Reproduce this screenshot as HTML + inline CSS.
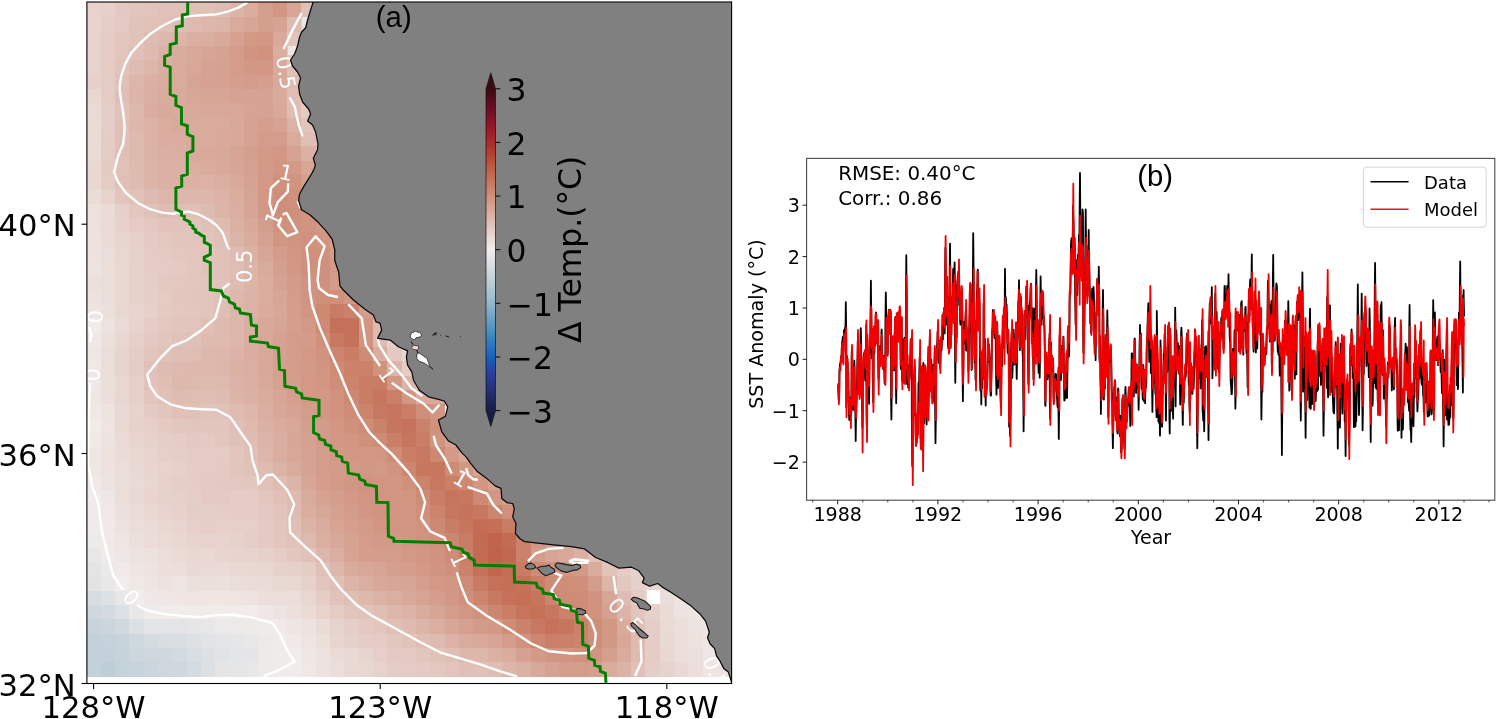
<!DOCTYPE html>
<html lang="en"><head><meta charset="utf-8"><title>Figure: SST anomaly map and time series</title>
<style>html,body{margin:0;padding:0;background:#fff}svg{display:block}text{font-family:"DejaVu Sans","Liberation Sans",sans-serif;fill:#000}.t{font-family:"Liberation Sans","DejaVu Sans",sans-serif}.c{fill:none;stroke:#fff;stroke-width:2.4;stroke-linejoin:round;stroke-linecap:butt}.cl{fill:#fff;font-size:21px;text-anchor:middle}.m{font-size:30.6px}.r{font-size:19.1px}</style></head><body>
<svg width="1496" height="719" viewBox="0 0 1496 719">
<rect width="1496" height="719" fill="#fff"/>
<defs><clipPath id="mc"><rect x="86.9" y="2" width="644.7" height="681.5"/></clipPath>
<linearGradient id="cb" x1="0" y1="0" x2="0" y2="1">
<stop offset="0.0000" stop-color="rgb(60,9,18)"/>
<stop offset="0.0667" stop-color="rgb(112,14,38)"/>
<stop offset="0.1167" stop-color="rgb(150,22,42)"/>
<stop offset="0.1667" stop-color="rgb(172,42,43)"/>
<stop offset="0.2083" stop-color="rgb(183,68,52)"/>
<stop offset="0.2500" stop-color="rgb(191,95,70)"/>
<stop offset="0.2917" stop-color="rgb(200,120,96)"/>
<stop offset="0.3333" stop-color="rgb(208,145,124)"/>
<stop offset="0.3750" stop-color="rgb(216,168,153)"/>
<stop offset="0.4167" stop-color="rgb(224,192,183)"/>
<stop offset="0.4667" stop-color="rgb(234,219,214)"/>
<stop offset="0.5000" stop-color="rgb(241,236,235)"/>
<stop offset="0.5333" stop-color="rgb(225,227,229)"/>
<stop offset="0.5667" stop-color="rgb(207,216,222)"/>
<stop offset="0.6167" stop-color="rgb(180,200,213)"/>
<stop offset="0.6667" stop-color="rgb(146,183,206)"/>
<stop offset="0.7167" stop-color="rgb(105,161,197)"/>
<stop offset="0.7667" stop-color="rgb(60,137,190)"/>
<stop offset="0.8333" stop-color="rgb(20,98,190)"/>
<stop offset="0.8750" stop-color="rgb(40,66,165)"/>
<stop offset="0.9333" stop-color="rgb(38,48,120)"/>
<stop offset="1.0000" stop-color="rgb(24,28,67)"/>
</linearGradient>
<clipPath id="pc"><rect x="806.6" y="158.4" width="688.2" height="341.8"/></clipPath></defs>
<g clip-path="url(#mc)">
<g shape-rendering="crispEdges">
<rect x="86.4" y="662.2" width="14.4" height="14.4" fill="#c3d1da"/>
<rect x="100.7" y="662.2" width="14.4" height="14.4" fill="#beced8"/>
<rect x="115.1" y="662.2" width="14.4" height="14.4" fill="#c4d2da"/>
<rect x="129.4" y="662.2" width="14.4" height="14.4" fill="#c8d4dc"/>
<rect x="143.7" y="662.2" width="14.4" height="14.4" fill="#cbd5dd"/>
<rect x="158.1" y="662.2" width="14.4" height="14.4" fill="#cdd7dd"/>
<rect x="172.4" y="662.2" width="14.4" height="14.4" fill="#ced8de"/>
<rect x="186.7" y="662.2" width="14.4" height="14.4" fill="#d5dce1"/>
<rect x="201" y="662.2" width="14.4" height="14.4" fill="#dce0e3"/>
<rect x="215.4" y="662.2" width="14.4" height="14.4" fill="#e5e5e6"/>
<rect x="229.7" y="662.2" width="14.4" height="14.4" fill="#e6e6e7"/>
<rect x="244" y="662.2" width="14.4" height="14.4" fill="#e8e7e8"/>
<rect x="258.4" y="662.2" width="14.4" height="14.4" fill="#edeae9"/>
<rect x="272.7" y="662.2" width="14.4" height="14.4" fill="#efebea"/>
<rect x="287" y="662.2" width="14.4" height="14.4" fill="#f0eceb"/>
<rect x="301.3" y="662.2" width="14.4" height="14.4" fill="#efe8e6"/>
<rect x="315.7" y="662.2" width="14.4" height="14.4" fill="#ede2df"/>
<rect x="330" y="662.2" width="14.4" height="14.4" fill="#ebdeda"/>
<rect x="344.3" y="662.2" width="14.4" height="14.4" fill="#e9d9d4"/>
<rect x="358.7" y="662.2" width="14.4" height="14.4" fill="#e8d7d1"/>
<rect x="373" y="662.2" width="14.4" height="14.4" fill="#e7d3cc"/>
<rect x="387.3" y="662.2" width="14.4" height="14.4" fill="#e5cdc6"/>
<rect x="401.7" y="662.2" width="14.4" height="14.4" fill="#e4ccc5"/>
<rect x="416" y="662.2" width="14.4" height="14.4" fill="#e4cac3"/>
<rect x="430.3" y="662.2" width="14.4" height="14.4" fill="#e3c8c0"/>
<rect x="444.7" y="662.2" width="14.4" height="14.4" fill="#e2c4bc"/>
<rect x="459" y="662.2" width="14.4" height="14.4" fill="#e0bfb6"/>
<rect x="473.3" y="662.2" width="14.4" height="14.4" fill="#e0c0b7"/>
<rect x="487.6" y="662.2" width="14.4" height="14.4" fill="#dfbdb3"/>
<rect x="502" y="662.2" width="14.4" height="14.4" fill="#ddb6ab"/>
<rect x="516.3" y="662.2" width="14.4" height="14.4" fill="#dbb1a4"/>
<rect x="530.6" y="662.2" width="14.4" height="14.4" fill="#d8a99a"/>
<rect x="545" y="662.2" width="14.4" height="14.4" fill="#d6a291"/>
<rect x="559.3" y="662.2" width="14.4" height="14.4" fill="#d59e8c"/>
<rect x="573.6" y="662.2" width="14.4" height="14.4" fill="#d49c8a"/>
<rect x="588" y="662.2" width="14.4" height="14.4" fill="#d59f8d"/>
<rect x="602.3" y="662.2" width="14.4" height="14.4" fill="#d9ab9d"/>
<rect x="616.6" y="662.2" width="14.4" height="14.4" fill="#dbb2a5"/>
<rect x="630.9" y="662.2" width="14.4" height="14.4" fill="#e0c1b8"/>
<rect x="645.3" y="662.2" width="14.4" height="14.4" fill="#e5cec7"/>
<rect x="659.6" y="662.2" width="14.4" height="14.4" fill="#e7d3cd"/>
<rect x="673.9" y="662.2" width="14.4" height="14.4" fill="#e9d8d3"/>
<rect x="688.3" y="662.2" width="14.4" height="14.4" fill="#ecdfdb"/>
<rect x="702.6" y="662.2" width="14.4" height="14.4" fill="#eee4e1"/>
<rect x="716.9" y="662.2" width="14.4" height="14.4" fill="#eee5e3"/>
<rect x="731.2" y="662.2" width="14.4" height="14.4" fill="#efe7e5"/>
<rect x="86.4" y="647.8" width="14.4" height="14.4" fill="#c3d1da"/>
<rect x="100.7" y="647.8" width="14.4" height="14.4" fill="#c3d1da"/>
<rect x="115.1" y="647.8" width="14.4" height="14.4" fill="#c7d3db"/>
<rect x="129.4" y="647.8" width="14.4" height="14.4" fill="#ccd6dd"/>
<rect x="143.7" y="647.8" width="14.4" height="14.4" fill="#ced7de"/>
<rect x="158.1" y="647.8" width="14.4" height="14.4" fill="#d0d8de"/>
<rect x="172.4" y="647.8" width="14.4" height="14.4" fill="#d3dbe0"/>
<rect x="186.7" y="647.8" width="14.4" height="14.4" fill="#d9dee2"/>
<rect x="201" y="647.8" width="14.4" height="14.4" fill="#dde1e4"/>
<rect x="215.4" y="647.8" width="14.4" height="14.4" fill="#e1e3e5"/>
<rect x="229.7" y="647.8" width="14.4" height="14.4" fill="#e4e5e6"/>
<rect x="244" y="647.8" width="14.4" height="14.4" fill="#e5e5e7"/>
<rect x="258.4" y="647.8" width="14.4" height="14.4" fill="#ece9e9"/>
<rect x="272.7" y="647.8" width="14.4" height="14.4" fill="#efebea"/>
<rect x="287" y="647.8" width="14.4" height="14.4" fill="#f0eceb"/>
<rect x="301.3" y="647.8" width="14.4" height="14.4" fill="#efe7e5"/>
<rect x="315.7" y="647.8" width="14.4" height="14.4" fill="#ede2df"/>
<rect x="330" y="647.8" width="14.4" height="14.4" fill="#eadbd7"/>
<rect x="344.3" y="647.8" width="14.4" height="14.4" fill="#e9d9d4"/>
<rect x="358.7" y="647.8" width="14.4" height="14.4" fill="#e7d4ce"/>
<rect x="373" y="647.8" width="14.4" height="14.4" fill="#e5cfc8"/>
<rect x="387.3" y="647.8" width="14.4" height="14.4" fill="#e4cac3"/>
<rect x="401.7" y="647.8" width="14.4" height="14.4" fill="#e4cac2"/>
<rect x="416" y="647.8" width="14.4" height="14.4" fill="#e2c5bd"/>
<rect x="430.3" y="647.8" width="14.4" height="14.4" fill="#e1c2b9"/>
<rect x="444.7" y="647.8" width="14.4" height="14.4" fill="#dfbeb4"/>
<rect x="459" y="647.8" width="14.4" height="14.4" fill="#ddb7ac"/>
<rect x="473.3" y="647.8" width="14.4" height="14.4" fill="#ddb7ab"/>
<rect x="487.6" y="647.8" width="14.4" height="14.4" fill="#dbb1a5"/>
<rect x="502" y="647.8" width="14.4" height="14.4" fill="#d9ac9e"/>
<rect x="516.3" y="647.8" width="14.4" height="14.4" fill="#d6a191"/>
<rect x="530.6" y="647.8" width="14.4" height="14.4" fill="#d39a87"/>
<rect x="545" y="647.8" width="14.4" height="14.4" fill="#d19581"/>
<rect x="559.3" y="647.8" width="14.4" height="14.4" fill="#d1947f"/>
<rect x="573.6" y="647.8" width="14.4" height="14.4" fill="#d0907b"/>
<rect x="588" y="647.8" width="14.4" height="14.4" fill="#d19581"/>
<rect x="602.3" y="647.8" width="14.4" height="14.4" fill="#d59f8e"/>
<rect x="616.6" y="647.8" width="14.4" height="14.4" fill="#d9ab9d"/>
<rect x="630.9" y="647.8" width="14.4" height="14.4" fill="#dfbcb2"/>
<rect x="645.3" y="647.8" width="14.4" height="14.4" fill="#e5ccc5"/>
<rect x="659.6" y="647.8" width="14.4" height="14.4" fill="#e9d7d2"/>
<rect x="673.9" y="647.8" width="14.4" height="14.4" fill="#ebddd9"/>
<rect x="688.3" y="647.8" width="14.4" height="14.4" fill="#ece0dc"/>
<rect x="702.6" y="647.8" width="14.4" height="14.4" fill="#efe7e5"/>
<rect x="716.9" y="647.8" width="14.4" height="14.4" fill="#f0e9e8"/>
<rect x="731.2" y="647.8" width="14.4" height="14.4" fill="#f0eae9"/>
<rect x="86.4" y="633.5" width="14.4" height="14.4" fill="#c3d1da"/>
<rect x="100.7" y="633.5" width="14.4" height="14.4" fill="#c5d2db"/>
<rect x="115.1" y="633.5" width="14.4" height="14.4" fill="#c8d4dc"/>
<rect x="129.4" y="633.5" width="14.4" height="14.4" fill="#cfd8de"/>
<rect x="143.7" y="633.5" width="14.4" height="14.4" fill="#d5dce0"/>
<rect x="158.1" y="633.5" width="14.4" height="14.4" fill="#d8dde1"/>
<rect x="172.4" y="633.5" width="14.4" height="14.4" fill="#d9dee2"/>
<rect x="186.7" y="633.5" width="14.4" height="14.4" fill="#dee1e4"/>
<rect x="201" y="633.5" width="14.4" height="14.4" fill="#e2e3e5"/>
<rect x="215.4" y="633.5" width="14.4" height="14.4" fill="#e4e5e6"/>
<rect x="229.7" y="633.5" width="14.4" height="14.4" fill="#e5e6e7"/>
<rect x="244" y="633.5" width="14.4" height="14.4" fill="#e9e7e8"/>
<rect x="258.4" y="633.5" width="14.4" height="14.4" fill="#ece9e9"/>
<rect x="272.7" y="633.5" width="14.4" height="14.4" fill="#f0ebeb"/>
<rect x="287" y="633.5" width="14.4" height="14.4" fill="#f0e9e8"/>
<rect x="301.3" y="633.5" width="14.4" height="14.4" fill="#eee4e2"/>
<rect x="315.7" y="633.5" width="14.4" height="14.4" fill="#ebdfda"/>
<rect x="330" y="633.5" width="14.4" height="14.4" fill="#e8d5cf"/>
<rect x="344.3" y="633.5" width="14.4" height="14.4" fill="#e6d1ca"/>
<rect x="358.7" y="633.5" width="14.4" height="14.4" fill="#e5cdc6"/>
<rect x="373" y="633.5" width="14.4" height="14.4" fill="#e4ccc5"/>
<rect x="387.3" y="633.5" width="14.4" height="14.4" fill="#e2c7bf"/>
<rect x="401.7" y="633.5" width="14.4" height="14.4" fill="#e1c3ba"/>
<rect x="416" y="633.5" width="14.4" height="14.4" fill="#dfbeb4"/>
<rect x="430.3" y="633.5" width="14.4" height="14.4" fill="#debbb1"/>
<rect x="444.7" y="633.5" width="14.4" height="14.4" fill="#dbb2a5"/>
<rect x="459" y="633.5" width="14.4" height="14.4" fill="#d9ab9d"/>
<rect x="473.3" y="633.5" width="14.4" height="14.4" fill="#d9aa9b"/>
<rect x="487.6" y="633.5" width="14.4" height="14.4" fill="#d7a595"/>
<rect x="502" y="633.5" width="14.4" height="14.4" fill="#d49d8b"/>
<rect x="516.3" y="633.5" width="14.4" height="14.4" fill="#d0927e"/>
<rect x="530.6" y="633.5" width="14.4" height="14.4" fill="#cd8771"/>
<rect x="545" y="633.5" width="14.4" height="14.4" fill="#ca7f68"/>
<rect x="559.3" y="633.5" width="14.4" height="14.4" fill="#cb8069"/>
<rect x="573.6" y="633.5" width="14.4" height="14.4" fill="#cc846d"/>
<rect x="588" y="633.5" width="14.4" height="14.4" fill="#cf8e79"/>
<rect x="602.3" y="633.5" width="14.4" height="14.4" fill="#d29884"/>
<rect x="616.6" y="633.5" width="14.4" height="14.4" fill="#d8a798"/>
<rect x="630.9" y="633.5" width="14.4" height="14.4" fill="#debab0"/>
<rect x="645.3" y="633.5" width="14.4" height="14.4" fill="#e5cdc6"/>
<rect x="659.6" y="633.5" width="14.4" height="14.4" fill="#e9d9d3"/>
<rect x="673.9" y="633.5" width="14.4" height="14.4" fill="#ecdfdb"/>
<rect x="688.3" y="633.5" width="14.4" height="14.4" fill="#ede2de"/>
<rect x="702.6" y="633.5" width="14.4" height="14.4" fill="#efe6e4"/>
<rect x="731.2" y="633.5" width="14.4" height="14.4" fill="#f1eceb"/>
<rect x="86.4" y="619.2" width="14.4" height="14.4" fill="#c8d4dc"/>
<rect x="100.7" y="619.2" width="14.4" height="14.4" fill="#cad5dc"/>
<rect x="115.1" y="619.2" width="14.4" height="14.4" fill="#d1d9df"/>
<rect x="129.4" y="619.2" width="14.4" height="14.4" fill="#dce0e3"/>
<rect x="143.7" y="619.2" width="14.4" height="14.4" fill="#e3e4e6"/>
<rect x="158.1" y="619.2" width="14.4" height="14.4" fill="#e3e4e6"/>
<rect x="172.4" y="619.2" width="14.4" height="14.4" fill="#e4e4e6"/>
<rect x="186.7" y="619.2" width="14.4" height="14.4" fill="#e6e6e7"/>
<rect x="201" y="619.2" width="14.4" height="14.4" fill="#e8e7e8"/>
<rect x="215.4" y="619.2" width="14.4" height="14.4" fill="#ebe9e9"/>
<rect x="229.7" y="619.2" width="14.4" height="14.4" fill="#ece9e9"/>
<rect x="244" y="619.2" width="14.4" height="14.4" fill="#edeaea"/>
<rect x="258.4" y="619.2" width="14.4" height="14.4" fill="#f0ebeb"/>
<rect x="272.7" y="619.2" width="14.4" height="14.4" fill="#f0e9e8"/>
<rect x="287" y="619.2" width="14.4" height="14.4" fill="#eee6e3"/>
<rect x="301.3" y="619.2" width="14.4" height="14.4" fill="#ede2df"/>
<rect x="315.7" y="619.2" width="14.4" height="14.4" fill="#eadbd6"/>
<rect x="330" y="619.2" width="14.4" height="14.4" fill="#e7d3cd"/>
<rect x="344.3" y="619.2" width="14.4" height="14.4" fill="#e5cec7"/>
<rect x="358.7" y="619.2" width="14.4" height="14.4" fill="#e3c9c1"/>
<rect x="373" y="619.2" width="14.4" height="14.4" fill="#e2c6bd"/>
<rect x="387.3" y="619.2" width="14.4" height="14.4" fill="#e0c0b6"/>
<rect x="401.7" y="619.2" width="14.4" height="14.4" fill="#debaaf"/>
<rect x="416" y="619.2" width="14.4" height="14.4" fill="#dcb5a9"/>
<rect x="430.3" y="619.2" width="14.4" height="14.4" fill="#daafa2"/>
<rect x="444.7" y="619.2" width="14.4" height="14.4" fill="#d7a697"/>
<rect x="459" y="619.2" width="14.4" height="14.4" fill="#d5a08f"/>
<rect x="473.3" y="619.2" width="14.4" height="14.4" fill="#d39b89"/>
<rect x="487.6" y="619.2" width="14.4" height="14.4" fill="#d29885"/>
<rect x="502" y="619.2" width="14.4" height="14.4" fill="#cf8d77"/>
<rect x="516.3" y="619.2" width="14.4" height="14.4" fill="#cb826b"/>
<rect x="530.6" y="619.2" width="14.4" height="14.4" fill="#c87860"/>
<rect x="545" y="619.2" width="14.4" height="14.4" fill="#c6725a"/>
<rect x="559.3" y="619.2" width="14.4" height="14.4" fill="#c7765e"/>
<rect x="573.6" y="619.2" width="14.4" height="14.4" fill="#cb8069"/>
<rect x="588" y="619.2" width="14.4" height="14.4" fill="#cf8e78"/>
<rect x="602.3" y="619.2" width="14.4" height="14.4" fill="#d39885"/>
<rect x="616.6" y="619.2" width="14.4" height="14.4" fill="#d9ab9d"/>
<rect x="630.9" y="619.2" width="14.4" height="14.4" fill="#e0bfb6"/>
<rect x="645.3" y="619.2" width="14.4" height="14.4" fill="#e5cec7"/>
<rect x="659.6" y="619.2" width="14.4" height="14.4" fill="#eadad5"/>
<rect x="673.9" y="619.2" width="14.4" height="14.4" fill="#ecdfdb"/>
<rect x="688.3" y="619.2" width="14.4" height="14.4" fill="#ede3e0"/>
<rect x="702.6" y="619.2" width="14.4" height="14.4" fill="#eee6e3"/>
<rect x="731.2" y="619.2" width="14.4" height="14.4" fill="#f0eceb"/>
<rect x="86.4" y="604.9" width="14.4" height="14.4" fill="#cfd8de"/>
<rect x="100.7" y="604.9" width="14.4" height="14.4" fill="#d4dbe0"/>
<rect x="115.1" y="604.9" width="14.4" height="14.4" fill="#dee1e4"/>
<rect x="129.4" y="604.9" width="14.4" height="14.4" fill="#e9e7e8"/>
<rect x="143.7" y="604.9" width="14.4" height="14.4" fill="#eeebea"/>
<rect x="158.1" y="604.9" width="14.4" height="14.4" fill="#f1eceb"/>
<rect x="172.4" y="604.9" width="14.4" height="14.4" fill="#f0eceb"/>
<rect x="186.7" y="604.9" width="14.4" height="14.4" fill="#f1ebea"/>
<rect x="201" y="604.9" width="14.4" height="14.4" fill="#f0eceb"/>
<rect x="215.4" y="604.9" width="14.4" height="14.4" fill="#f0eceb"/>
<rect x="229.7" y="604.9" width="14.4" height="14.4" fill="#f1eceb"/>
<rect x="244" y="604.9" width="14.4" height="14.4" fill="#f1ebea"/>
<rect x="258.4" y="604.9" width="14.4" height="14.4" fill="#efe7e5"/>
<rect x="272.7" y="604.9" width="14.4" height="14.4" fill="#ede3e0"/>
<rect x="287" y="604.9" width="14.4" height="14.4" fill="#ece0dd"/>
<rect x="301.3" y="604.9" width="14.4" height="14.4" fill="#eadbd6"/>
<rect x="315.7" y="604.9" width="14.4" height="14.4" fill="#e7d3cc"/>
<rect x="330" y="604.9" width="14.4" height="14.4" fill="#e4ccc5"/>
<rect x="344.3" y="604.9" width="14.4" height="14.4" fill="#e2c6be"/>
<rect x="358.7" y="604.9" width="14.4" height="14.4" fill="#e1c2b9"/>
<rect x="373" y="604.9" width="14.4" height="14.4" fill="#dfbeb4"/>
<rect x="387.3" y="604.9" width="14.4" height="14.4" fill="#ddb7ab"/>
<rect x="401.7" y="604.9" width="14.4" height="14.4" fill="#dcb3a6"/>
<rect x="416" y="604.9" width="14.4" height="14.4" fill="#d9ac9d"/>
<rect x="430.3" y="604.9" width="14.4" height="14.4" fill="#d7a595"/>
<rect x="444.7" y="604.9" width="14.4" height="14.4" fill="#d49d8b"/>
<rect x="459" y="604.9" width="14.4" height="14.4" fill="#d29884"/>
<rect x="473.3" y="604.9" width="14.4" height="14.4" fill="#d0917d"/>
<rect x="487.6" y="604.9" width="14.4" height="14.4" fill="#cd8771"/>
<rect x="502" y="604.9" width="14.4" height="14.4" fill="#ca7e66"/>
<rect x="516.3" y="604.9" width="14.4" height="14.4" fill="#c7745c"/>
<rect x="530.6" y="604.9" width="14.4" height="14.4" fill="#c57158"/>
<rect x="545" y="604.9" width="14.4" height="14.4" fill="#c8775f"/>
<rect x="559.3" y="604.9" width="14.4" height="14.4" fill="#cb816a"/>
<rect x="573.6" y="604.9" width="14.4" height="14.4" fill="#ce8b75"/>
<rect x="588" y="604.9" width="14.4" height="14.4" fill="#d1927e"/>
<rect x="602.3" y="604.9" width="14.4" height="14.4" fill="#d5a08f"/>
<rect x="616.6" y="604.9" width="14.4" height="14.4" fill="#dcb3a7"/>
<rect x="630.9" y="604.9" width="14.4" height="14.4" fill="#e2c6be"/>
<rect x="645.3" y="604.9" width="14.4" height="14.4" fill="#e6d1ca"/>
<rect x="659.6" y="604.9" width="14.4" height="14.4" fill="#eadbd6"/>
<rect x="673.9" y="604.9" width="14.4" height="14.4" fill="#ede3e0"/>
<rect x="688.3" y="604.9" width="14.4" height="14.4" fill="#eee5e2"/>
<rect x="702.6" y="604.9" width="14.4" height="14.4" fill="#efe8e6"/>
<rect x="731.2" y="604.9" width="14.4" height="14.4" fill="#f1eceb"/>
<rect x="86.4" y="590.5" width="14.4" height="14.4" fill="#d7dde1"/>
<rect x="100.7" y="590.5" width="14.4" height="14.4" fill="#dde1e4"/>
<rect x="115.1" y="590.5" width="14.4" height="14.4" fill="#e8e7e8"/>
<rect x="129.4" y="590.5" width="14.4" height="14.4" fill="#f1eceb"/>
<rect x="143.7" y="590.5" width="14.4" height="14.4" fill="#efe8e6"/>
<rect x="158.1" y="590.5" width="14.4" height="14.4" fill="#efe7e5"/>
<rect x="172.4" y="590.5" width="14.4" height="14.4" fill="#efe6e4"/>
<rect x="186.7" y="590.5" width="14.4" height="14.4" fill="#eee4e2"/>
<rect x="201" y="590.5" width="14.4" height="14.4" fill="#efe6e4"/>
<rect x="215.4" y="590.5" width="14.4" height="14.4" fill="#efe6e4"/>
<rect x="229.7" y="590.5" width="14.4" height="14.4" fill="#eee4e2"/>
<rect x="244" y="590.5" width="14.4" height="14.4" fill="#ede3e0"/>
<rect x="258.4" y="590.5" width="14.4" height="14.4" fill="#ecdfdb"/>
<rect x="272.7" y="590.5" width="14.4" height="14.4" fill="#ebdeda"/>
<rect x="287" y="590.5" width="14.4" height="14.4" fill="#ebddd8"/>
<rect x="301.3" y="590.5" width="14.4" height="14.4" fill="#e8d7d1"/>
<rect x="315.7" y="590.5" width="14.4" height="14.4" fill="#e5cdc6"/>
<rect x="330" y="590.5" width="14.4" height="14.4" fill="#e1c3bb"/>
<rect x="344.3" y="590.5" width="14.4" height="14.4" fill="#dfbeb4"/>
<rect x="358.7" y="590.5" width="14.4" height="14.4" fill="#ddb8ad"/>
<rect x="373" y="590.5" width="14.4" height="14.4" fill="#dbb2a6"/>
<rect x="387.3" y="590.5" width="14.4" height="14.4" fill="#daaea0"/>
<rect x="401.7" y="590.5" width="14.4" height="14.4" fill="#d8a899"/>
<rect x="416" y="590.5" width="14.4" height="14.4" fill="#d7a494"/>
<rect x="430.3" y="590.5" width="14.4" height="14.4" fill="#d49e8c"/>
<rect x="444.7" y="590.5" width="14.4" height="14.4" fill="#d29885"/>
<rect x="459" y="590.5" width="14.4" height="14.4" fill="#d0907b"/>
<rect x="473.3" y="590.5" width="14.4" height="14.4" fill="#cc8670"/>
<rect x="487.6" y="590.5" width="14.4" height="14.4" fill="#c87961"/>
<rect x="502" y="590.5" width="14.4" height="14.4" fill="#c6725a"/>
<rect x="516.3" y="590.5" width="14.4" height="14.4" fill="#c56f56"/>
<rect x="530.6" y="590.5" width="14.4" height="14.4" fill="#c7765e"/>
<rect x="545" y="590.5" width="14.4" height="14.4" fill="#cc856f"/>
<rect x="559.3" y="590.5" width="14.4" height="14.4" fill="#ce8b75"/>
<rect x="573.6" y="590.5" width="14.4" height="14.4" fill="#cf8c77"/>
<rect x="588" y="590.5" width="14.4" height="14.4" fill="#d1937f"/>
<rect x="602.3" y="590.5" width="14.4" height="14.4" fill="#d7a696"/>
<rect x="616.6" y="590.5" width="14.4" height="14.4" fill="#dfbcb3"/>
<rect x="630.9" y="590.5" width="14.4" height="14.4" fill="#e4cbc4"/>
<rect x="645.3" y="590.5" width="14.4" height="14.4" fill="#e8d5cf"/>
<rect x="659.6" y="590.5" width="14.4" height="14.4" fill="#ebddd9"/>
<rect x="673.9" y="590.5" width="14.4" height="14.4" fill="#ede3df"/>
<rect x="688.3" y="590.5" width="14.4" height="14.4" fill="#eee4e1"/>
<rect x="731.2" y="590.5" width="14.4" height="14.4" fill="#f0ebeb"/>
<rect x="86.4" y="576.2" width="14.4" height="14.4" fill="#e1e3e5"/>
<rect x="100.7" y="576.2" width="14.4" height="14.4" fill="#e9e8e8"/>
<rect x="115.1" y="576.2" width="14.4" height="14.4" fill="#f0eceb"/>
<rect x="129.4" y="576.2" width="14.4" height="14.4" fill="#efe8e5"/>
<rect x="143.7" y="576.2" width="14.4" height="14.4" fill="#eee4e1"/>
<rect x="158.1" y="576.2" width="14.4" height="14.4" fill="#ede2df"/>
<rect x="172.4" y="576.2" width="14.4" height="14.4" fill="#eee4e1"/>
<rect x="186.7" y="576.2" width="14.4" height="14.4" fill="#ece0dc"/>
<rect x="201" y="576.2" width="14.4" height="14.4" fill="#ecdfdb"/>
<rect x="215.4" y="576.2" width="14.4" height="14.4" fill="#ece0dc"/>
<rect x="229.7" y="576.2" width="14.4" height="14.4" fill="#ebddd8"/>
<rect x="244" y="576.2" width="14.4" height="14.4" fill="#eadcd7"/>
<rect x="258.4" y="576.2" width="14.4" height="14.4" fill="#eadbd7"/>
<rect x="272.7" y="576.2" width="14.4" height="14.4" fill="#e9d9d3"/>
<rect x="287" y="576.2" width="14.4" height="14.4" fill="#e9d8d2"/>
<rect x="301.3" y="576.2" width="14.4" height="14.4" fill="#e6d1cb"/>
<rect x="315.7" y="576.2" width="14.4" height="14.4" fill="#e2c6be"/>
<rect x="330" y="576.2" width="14.4" height="14.4" fill="#e0bfb5"/>
<rect x="344.3" y="576.2" width="14.4" height="14.4" fill="#dcb4a8"/>
<rect x="358.7" y="576.2" width="14.4" height="14.4" fill="#daafa2"/>
<rect x="373" y="576.2" width="14.4" height="14.4" fill="#d8a99a"/>
<rect x="387.3" y="576.2" width="14.4" height="14.4" fill="#d7a697"/>
<rect x="401.7" y="576.2" width="14.4" height="14.4" fill="#d7a595"/>
<rect x="416" y="576.2" width="14.4" height="14.4" fill="#d59e8d"/>
<rect x="430.3" y="576.2" width="14.4" height="14.4" fill="#d39986"/>
<rect x="444.7" y="576.2" width="14.4" height="14.4" fill="#d29682"/>
<rect x="459" y="576.2" width="14.4" height="14.4" fill="#ce8b75"/>
<rect x="473.3" y="576.2" width="14.4" height="14.4" fill="#c97a62"/>
<rect x="487.6" y="576.2" width="14.4" height="14.4" fill="#c57058"/>
<rect x="502" y="576.2" width="14.4" height="14.4" fill="#c56f57"/>
<rect x="516.3" y="576.2" width="14.4" height="14.4" fill="#c6725a"/>
<rect x="530.6" y="576.2" width="14.4" height="14.4" fill="#ca7e66"/>
<rect x="545" y="576.2" width="14.4" height="14.4" fill="#ce8c76"/>
<rect x="559.3" y="576.2" width="14.4" height="14.4" fill="#cf8e78"/>
<rect x="573.6" y="576.2" width="14.4" height="14.4" fill="#cf8f7a"/>
<rect x="588" y="576.2" width="14.4" height="14.4" fill="#d49d8b"/>
<rect x="602.3" y="576.2" width="14.4" height="14.4" fill="#ddb6aa"/>
<rect x="616.6" y="576.2" width="14.4" height="14.4" fill="#e3c8c0"/>
<rect x="630.9" y="576.2" width="14.4" height="14.4" fill="#e6d0ca"/>
<rect x="645.3" y="576.2" width="14.4" height="14.4" fill="#e9d7d1"/>
<rect x="659.6" y="576.2" width="14.4" height="14.4" fill="#ebdeda"/>
<rect x="731.2" y="576.2" width="14.4" height="14.4" fill="#efebea"/>
<rect x="86.4" y="561.9" width="14.4" height="14.4" fill="#e3e4e6"/>
<rect x="100.7" y="561.9" width="14.4" height="14.4" fill="#ebe9e9"/>
<rect x="115.1" y="561.9" width="14.4" height="14.4" fill="#f0eae9"/>
<rect x="129.4" y="561.9" width="14.4" height="14.4" fill="#efe6e4"/>
<rect x="143.7" y="561.9" width="14.4" height="14.4" fill="#ede3e0"/>
<rect x="158.1" y="561.9" width="14.4" height="14.4" fill="#ecdfdb"/>
<rect x="172.4" y="561.9" width="14.4" height="14.4" fill="#ebdeda"/>
<rect x="186.7" y="561.9" width="14.4" height="14.4" fill="#e9d9d4"/>
<rect x="201" y="561.9" width="14.4" height="14.4" fill="#eadad5"/>
<rect x="215.4" y="561.9" width="14.4" height="14.4" fill="#eadbd6"/>
<rect x="229.7" y="561.9" width="14.4" height="14.4" fill="#e9d8d3"/>
<rect x="244" y="561.9" width="14.4" height="14.4" fill="#e9d7d2"/>
<rect x="258.4" y="561.9" width="14.4" height="14.4" fill="#e8d6d1"/>
<rect x="272.7" y="561.9" width="14.4" height="14.4" fill="#e7d2cb"/>
<rect x="287" y="561.9" width="14.4" height="14.4" fill="#e6d0ca"/>
<rect x="301.3" y="561.9" width="14.4" height="14.4" fill="#e5cdc6"/>
<rect x="315.7" y="561.9" width="14.4" height="14.4" fill="#e0c0b7"/>
<rect x="330" y="561.9" width="14.4" height="14.4" fill="#ddb7ac"/>
<rect x="344.3" y="561.9" width="14.4" height="14.4" fill="#d9ab9d"/>
<rect x="358.7" y="561.9" width="14.4" height="14.4" fill="#d8a798"/>
<rect x="373" y="561.9" width="14.4" height="14.4" fill="#d6a493"/>
<rect x="387.3" y="561.9" width="14.4" height="14.4" fill="#d59f8d"/>
<rect x="401.7" y="561.9" width="14.4" height="14.4" fill="#d59e8c"/>
<rect x="416" y="561.9" width="14.4" height="14.4" fill="#d39986"/>
<rect x="430.3" y="561.9" width="14.4" height="14.4" fill="#d19480"/>
<rect x="444.7" y="561.9" width="14.4" height="14.4" fill="#d0907b"/>
<rect x="459" y="561.9" width="14.4" height="14.4" fill="#cb826b"/>
<rect x="473.3" y="561.9" width="14.4" height="14.4" fill="#c57058"/>
<rect x="487.6" y="561.9" width="14.4" height="14.4" fill="#c2664d"/>
<rect x="502" y="561.9" width="14.4" height="14.4" fill="#c46c54"/>
<rect x="516.3" y="561.9" width="14.4" height="14.4" fill="#c97b63"/>
<rect x="530.6" y="561.9" width="14.4" height="14.4" fill="#cf8d77"/>
<rect x="545" y="561.9" width="14.4" height="14.4" fill="#d19480"/>
<rect x="559.3" y="561.9" width="14.4" height="14.4" fill="#d29682"/>
<rect x="573.6" y="561.9" width="14.4" height="14.4" fill="#d39a87"/>
<rect x="588" y="561.9" width="14.4" height="14.4" fill="#d9ac9e"/>
<rect x="602.3" y="561.9" width="14.4" height="14.4" fill="#e1c3ba"/>
<rect x="616.6" y="561.9" width="14.4" height="14.4" fill="#e5cdc6"/>
<rect x="630.9" y="561.9" width="14.4" height="14.4" fill="#e7d3cd"/>
<rect x="731.2" y="561.9" width="14.4" height="14.4" fill="#f0ebeb"/>
<rect x="86.4" y="547.5" width="14.4" height="14.4" fill="#e8e7e8"/>
<rect x="100.7" y="547.5" width="14.4" height="14.4" fill="#efebea"/>
<rect x="115.1" y="547.5" width="14.4" height="14.4" fill="#efe7e5"/>
<rect x="129.4" y="547.5" width="14.4" height="14.4" fill="#ede3e0"/>
<rect x="143.7" y="547.5" width="14.4" height="14.4" fill="#ece1dd"/>
<rect x="158.1" y="547.5" width="14.4" height="14.4" fill="#ebddd8"/>
<rect x="172.4" y="547.5" width="14.4" height="14.4" fill="#eadad5"/>
<rect x="186.7" y="547.5" width="14.4" height="14.4" fill="#e9d8d2"/>
<rect x="201" y="547.5" width="14.4" height="14.4" fill="#e9d8d3"/>
<rect x="215.4" y="547.5" width="14.4" height="14.4" fill="#e8d5cf"/>
<rect x="229.7" y="547.5" width="14.4" height="14.4" fill="#e8d4ce"/>
<rect x="244" y="547.5" width="14.4" height="14.4" fill="#e7d3cd"/>
<rect x="258.4" y="547.5" width="14.4" height="14.4" fill="#e6d1ca"/>
<rect x="272.7" y="547.5" width="14.4" height="14.4" fill="#e5cdc5"/>
<rect x="287" y="547.5" width="14.4" height="14.4" fill="#e3c7bf"/>
<rect x="301.3" y="547.5" width="14.4" height="14.4" fill="#e1c2ba"/>
<rect x="315.7" y="547.5" width="14.4" height="14.4" fill="#ddb7ac"/>
<rect x="330" y="547.5" width="14.4" height="14.4" fill="#daaea0"/>
<rect x="344.3" y="547.5" width="14.4" height="14.4" fill="#d7a494"/>
<rect x="358.7" y="547.5" width="14.4" height="14.4" fill="#d59e8c"/>
<rect x="373" y="547.5" width="14.4" height="14.4" fill="#d49d8b"/>
<rect x="387.3" y="547.5" width="14.4" height="14.4" fill="#d49d8b"/>
<rect x="401.7" y="547.5" width="14.4" height="14.4" fill="#d39986"/>
<rect x="416" y="547.5" width="14.4" height="14.4" fill="#d29682"/>
<rect x="430.3" y="547.5" width="14.4" height="14.4" fill="#d1937f"/>
<rect x="444.7" y="547.5" width="14.4" height="14.4" fill="#ce8b76"/>
<rect x="459" y="547.5" width="14.4" height="14.4" fill="#ca7d66"/>
<rect x="473.3" y="547.5" width="14.4" height="14.4" fill="#c46c53"/>
<rect x="487.6" y="547.5" width="14.4" height="14.4" fill="#c0634a"/>
<rect x="502" y="547.5" width="14.4" height="14.4" fill="#c26850"/>
<rect x="516.3" y="547.5" width="14.4" height="14.4" fill="#cb816a"/>
<rect x="530.6" y="547.5" width="14.4" height="14.4" fill="#d49c8a"/>
<rect x="545" y="547.5" width="14.4" height="14.4" fill="#d7a595"/>
<rect x="559.3" y="547.5" width="14.4" height="14.4" fill="#d8a898"/>
<rect x="573.6" y="547.5" width="14.4" height="14.4" fill="#dbb0a3"/>
<rect x="588" y="547.5" width="14.4" height="14.4" fill="#e0c0b7"/>
<rect x="602.3" y="547.5" width="14.4" height="14.4" fill="#e5ccc5"/>
<rect x="731.2" y="547.5" width="14.4" height="14.4" fill="#f1ebea"/>
<rect x="86.4" y="533.2" width="14.4" height="14.4" fill="#edeaea"/>
<rect x="100.7" y="533.2" width="14.4" height="14.4" fill="#f0e9e7"/>
<rect x="115.1" y="533.2" width="14.4" height="14.4" fill="#efe6e4"/>
<rect x="129.4" y="533.2" width="14.4" height="14.4" fill="#ece0dc"/>
<rect x="143.7" y="533.2" width="14.4" height="14.4" fill="#ebdcd8"/>
<rect x="158.1" y="533.2" width="14.4" height="14.4" fill="#eadad5"/>
<rect x="172.4" y="533.2" width="14.4" height="14.4" fill="#e9d7d2"/>
<rect x="186.7" y="533.2" width="14.4" height="14.4" fill="#e8d4ce"/>
<rect x="201" y="533.2" width="14.4" height="14.4" fill="#e7d3cd"/>
<rect x="215.4" y="533.2" width="14.4" height="14.4" fill="#e7d4cd"/>
<rect x="229.7" y="533.2" width="14.4" height="14.4" fill="#e7d2cb"/>
<rect x="244" y="533.2" width="14.4" height="14.4" fill="#e5cec8"/>
<rect x="258.4" y="533.2" width="14.4" height="14.4" fill="#e4cac3"/>
<rect x="272.7" y="533.2" width="14.4" height="14.4" fill="#e3c7bf"/>
<rect x="287" y="533.2" width="14.4" height="14.4" fill="#e1c2b9"/>
<rect x="301.3" y="533.2" width="14.4" height="14.4" fill="#deb9af"/>
<rect x="315.7" y="533.2" width="14.4" height="14.4" fill="#daafa2"/>
<rect x="330" y="533.2" width="14.4" height="14.4" fill="#d8a89a"/>
<rect x="344.3" y="533.2" width="14.4" height="14.4" fill="#d6a292"/>
<rect x="358.7" y="533.2" width="14.4" height="14.4" fill="#d49c8a"/>
<rect x="373" y="533.2" width="14.4" height="14.4" fill="#d39a87"/>
<rect x="387.3" y="533.2" width="14.4" height="14.4" fill="#d39986"/>
<rect x="401.7" y="533.2" width="14.4" height="14.4" fill="#d29783"/>
<rect x="416" y="533.2" width="14.4" height="14.4" fill="#d19480"/>
<rect x="430.3" y="533.2" width="14.4" height="14.4" fill="#d0917c"/>
<rect x="444.7" y="533.2" width="14.4" height="14.4" fill="#cd8770"/>
<rect x="459" y="533.2" width="14.4" height="14.4" fill="#c97c65"/>
<rect x="473.3" y="533.2" width="14.4" height="14.4" fill="#c36a52"/>
<rect x="487.6" y="533.2" width="14.4" height="14.4" fill="#c1644c"/>
<rect x="502" y="533.2" width="14.4" height="14.4" fill="#c46c53"/>
<rect x="516.3" y="533.2" width="14.4" height="14.4" fill="#cb816a"/>
<rect x="530.6" y="533.2" width="14.4" height="14.4" fill="#d29784"/>
<rect x="545" y="533.2" width="14.4" height="14.4" fill="#d6a190"/>
<rect x="559.3" y="533.2" width="14.4" height="14.4" fill="#d9aa9b"/>
<rect x="573.6" y="533.2" width="14.4" height="14.4" fill="#deb9ae"/>
<rect x="731.2" y="533.2" width="14.4" height="14.4" fill="#f1eceb"/>
<rect x="86.4" y="518.9" width="14.4" height="14.4" fill="#efebea"/>
<rect x="100.7" y="518.9" width="14.4" height="14.4" fill="#f0e9e7"/>
<rect x="115.1" y="518.9" width="14.4" height="14.4" fill="#ede2df"/>
<rect x="129.4" y="518.9" width="14.4" height="14.4" fill="#ebddd8"/>
<rect x="143.7" y="518.9" width="14.4" height="14.4" fill="#eadbd6"/>
<rect x="158.1" y="518.9" width="14.4" height="14.4" fill="#e9d8d2"/>
<rect x="172.4" y="518.9" width="14.4" height="14.4" fill="#e8d5cf"/>
<rect x="186.7" y="518.9" width="14.4" height="14.4" fill="#e6d0c9"/>
<rect x="201" y="518.9" width="14.4" height="14.4" fill="#e5cec7"/>
<rect x="215.4" y="518.9" width="14.4" height="14.4" fill="#e6d0c9"/>
<rect x="229.7" y="518.9" width="14.4" height="14.4" fill="#e6cfc9"/>
<rect x="244" y="518.9" width="14.4" height="14.4" fill="#e5cfc8"/>
<rect x="258.4" y="518.9" width="14.4" height="14.4" fill="#e4cac2"/>
<rect x="272.7" y="518.9" width="14.4" height="14.4" fill="#e2c5bd"/>
<rect x="287" y="518.9" width="14.4" height="14.4" fill="#e0bfb6"/>
<rect x="301.3" y="518.9" width="14.4" height="14.4" fill="#dcb4a7"/>
<rect x="315.7" y="518.9" width="14.4" height="14.4" fill="#d9ac9e"/>
<rect x="330" y="518.9" width="14.4" height="14.4" fill="#d7a494"/>
<rect x="344.3" y="518.9" width="14.4" height="14.4" fill="#d59e8d"/>
<rect x="358.7" y="518.9" width="14.4" height="14.4" fill="#d39b88"/>
<rect x="373" y="518.9" width="14.4" height="14.4" fill="#d29682"/>
<rect x="387.3" y="518.9" width="14.4" height="14.4" fill="#d19581"/>
<rect x="401.7" y="518.9" width="14.4" height="14.4" fill="#d29783"/>
<rect x="416" y="518.9" width="14.4" height="14.4" fill="#d1937f"/>
<rect x="430.3" y="518.9" width="14.4" height="14.4" fill="#cd8973"/>
<rect x="444.7" y="518.9" width="14.4" height="14.4" fill="#c97d65"/>
<rect x="459" y="518.9" width="14.4" height="14.4" fill="#c7755d"/>
<rect x="473.3" y="518.9" width="14.4" height="14.4" fill="#c46c54"/>
<rect x="487.6" y="518.9" width="14.4" height="14.4" fill="#c56f57"/>
<rect x="502" y="518.9" width="14.4" height="14.4" fill="#c97b63"/>
<rect x="731.2" y="518.9" width="14.4" height="14.4" fill="#f0ebe9"/>
<rect x="86.4" y="504.5" width="14.4" height="14.4" fill="#efebea"/>
<rect x="100.7" y="504.5" width="14.4" height="14.4" fill="#efe8e6"/>
<rect x="115.1" y="504.5" width="14.4" height="14.4" fill="#ece0dc"/>
<rect x="129.4" y="504.5" width="14.4" height="14.4" fill="#eadcd7"/>
<rect x="143.7" y="504.5" width="14.4" height="14.4" fill="#e9d8d2"/>
<rect x="158.1" y="504.5" width="14.4" height="14.4" fill="#e8d4ce"/>
<rect x="172.4" y="504.5" width="14.4" height="14.4" fill="#e7d2cb"/>
<rect x="186.7" y="504.5" width="14.4" height="14.4" fill="#e5cdc6"/>
<rect x="201" y="504.5" width="14.4" height="14.4" fill="#e5cec7"/>
<rect x="215.4" y="504.5" width="14.4" height="14.4" fill="#e5cdc6"/>
<rect x="229.7" y="504.5" width="14.4" height="14.4" fill="#e5cdc6"/>
<rect x="244" y="504.5" width="14.4" height="14.4" fill="#e4cbc4"/>
<rect x="258.4" y="504.5" width="14.4" height="14.4" fill="#e3c9c2"/>
<rect x="272.7" y="504.5" width="14.4" height="14.4" fill="#e2c4bc"/>
<rect x="287" y="504.5" width="14.4" height="14.4" fill="#dfbcb2"/>
<rect x="301.3" y="504.5" width="14.4" height="14.4" fill="#daafa2"/>
<rect x="315.7" y="504.5" width="14.4" height="14.4" fill="#d7a797"/>
<rect x="330" y="504.5" width="14.4" height="14.4" fill="#d5a190"/>
<rect x="344.3" y="504.5" width="14.4" height="14.4" fill="#d49c8a"/>
<rect x="358.7" y="504.5" width="14.4" height="14.4" fill="#d29784"/>
<rect x="373" y="504.5" width="14.4" height="14.4" fill="#d19480"/>
<rect x="387.3" y="504.5" width="14.4" height="14.4" fill="#d19581"/>
<rect x="401.7" y="504.5" width="14.4" height="14.4" fill="#d19581"/>
<rect x="416" y="504.5" width="14.4" height="14.4" fill="#cf8f7a"/>
<rect x="430.3" y="504.5" width="14.4" height="14.4" fill="#cc846d"/>
<rect x="444.7" y="504.5" width="14.4" height="14.4" fill="#c8775f"/>
<rect x="459" y="504.5" width="14.4" height="14.4" fill="#c6735b"/>
<rect x="473.3" y="504.5" width="14.4" height="14.4" fill="#c87860"/>
<rect x="487.6" y="504.5" width="14.4" height="14.4" fill="#cc856f"/>
<rect x="502" y="504.5" width="14.4" height="14.4" fill="#d0917c"/>
<rect x="731.2" y="504.5" width="14.4" height="14.4" fill="#efebea"/>
<rect x="86.4" y="490.2" width="14.4" height="14.4" fill="#f0eceb"/>
<rect x="100.7" y="490.2" width="14.4" height="14.4" fill="#efe7e5"/>
<rect x="115.1" y="490.2" width="14.4" height="14.4" fill="#ebded9"/>
<rect x="129.4" y="490.2" width="14.4" height="14.4" fill="#e9d9d4"/>
<rect x="143.7" y="490.2" width="14.4" height="14.4" fill="#e8d5d0"/>
<rect x="158.1" y="490.2" width="14.4" height="14.4" fill="#e6d1cb"/>
<rect x="172.4" y="490.2" width="14.4" height="14.4" fill="#e6d0ca"/>
<rect x="186.7" y="490.2" width="14.4" height="14.4" fill="#e5cec7"/>
<rect x="201" y="490.2" width="14.4" height="14.4" fill="#e4cac2"/>
<rect x="215.4" y="490.2" width="14.4" height="14.4" fill="#e4cac2"/>
<rect x="229.7" y="490.2" width="14.4" height="14.4" fill="#e5cdc6"/>
<rect x="244" y="490.2" width="14.4" height="14.4" fill="#e5ccc5"/>
<rect x="258.4" y="490.2" width="14.4" height="14.4" fill="#e3c7bf"/>
<rect x="272.7" y="490.2" width="14.4" height="14.4" fill="#e0c0b7"/>
<rect x="287" y="490.2" width="14.4" height="14.4" fill="#deb9ae"/>
<rect x="301.3" y="490.2" width="14.4" height="14.4" fill="#d9ab9d"/>
<rect x="315.7" y="490.2" width="14.4" height="14.4" fill="#d6a291"/>
<rect x="330" y="490.2" width="14.4" height="14.4" fill="#d49e8c"/>
<rect x="344.3" y="490.2" width="14.4" height="14.4" fill="#d39986"/>
<rect x="358.7" y="490.2" width="14.4" height="14.4" fill="#d19581"/>
<rect x="373" y="490.2" width="14.4" height="14.4" fill="#d19581"/>
<rect x="387.3" y="490.2" width="14.4" height="14.4" fill="#d29682"/>
<rect x="401.7" y="490.2" width="14.4" height="14.4" fill="#d19580"/>
<rect x="416" y="490.2" width="14.4" height="14.4" fill="#ce8c76"/>
<rect x="430.3" y="490.2" width="14.4" height="14.4" fill="#ca7e67"/>
<rect x="444.7" y="490.2" width="14.4" height="14.4" fill="#c6745b"/>
<rect x="459" y="490.2" width="14.4" height="14.4" fill="#c8775f"/>
<rect x="473.3" y="490.2" width="14.4" height="14.4" fill="#cd8973"/>
<rect x="487.6" y="490.2" width="14.4" height="14.4" fill="#d29885"/>
<rect x="502" y="490.2" width="14.4" height="14.4" fill="#d59e8c"/>
<rect x="731.2" y="490.2" width="14.4" height="14.4" fill="#efebea"/>
<rect x="86.4" y="475.9" width="14.4" height="14.4" fill="#f0e9e7"/>
<rect x="100.7" y="475.9" width="14.4" height="14.4" fill="#ede3e0"/>
<rect x="115.1" y="475.9" width="14.4" height="14.4" fill="#ebdeda"/>
<rect x="129.4" y="475.9" width="14.4" height="14.4" fill="#eadad5"/>
<rect x="143.7" y="475.9" width="14.4" height="14.4" fill="#e8d6d0"/>
<rect x="158.1" y="475.9" width="14.4" height="14.4" fill="#e6d1cb"/>
<rect x="172.4" y="475.9" width="14.4" height="14.4" fill="#e5cec7"/>
<rect x="186.7" y="475.9" width="14.4" height="14.4" fill="#e5cdc6"/>
<rect x="201" y="475.9" width="14.4" height="14.4" fill="#e4cac2"/>
<rect x="215.4" y="475.9" width="14.4" height="14.4" fill="#e3c9c1"/>
<rect x="229.7" y="475.9" width="14.4" height="14.4" fill="#e3c8c1"/>
<rect x="244" y="475.9" width="14.4" height="14.4" fill="#e2c7bf"/>
<rect x="258.4" y="475.9" width="14.4" height="14.4" fill="#e0c1b8"/>
<rect x="272.7" y="475.9" width="14.4" height="14.4" fill="#dfbcb2"/>
<rect x="287" y="475.9" width="14.4" height="14.4" fill="#dcb5a9"/>
<rect x="301.3" y="475.9" width="14.4" height="14.4" fill="#d7a697"/>
<rect x="315.7" y="475.9" width="14.4" height="14.4" fill="#d49d8c"/>
<rect x="330" y="475.9" width="14.4" height="14.4" fill="#d39a88"/>
<rect x="344.3" y="475.9" width="14.4" height="14.4" fill="#d29783"/>
<rect x="358.7" y="475.9" width="14.4" height="14.4" fill="#d1937f"/>
<rect x="373" y="475.9" width="14.4" height="14.4" fill="#d29582"/>
<rect x="387.3" y="475.9" width="14.4" height="14.4" fill="#d29783"/>
<rect x="401.7" y="475.9" width="14.4" height="14.4" fill="#d0917b"/>
<rect x="416" y="475.9" width="14.4" height="14.4" fill="#cc836c"/>
<rect x="430.3" y="475.9" width="14.4" height="14.4" fill="#c87860"/>
<rect x="444.7" y="475.9" width="14.4" height="14.4" fill="#ca7f67"/>
<rect x="459" y="475.9" width="14.4" height="14.4" fill="#cd8973"/>
<rect x="473.3" y="475.9" width="14.4" height="14.4" fill="#d29784"/>
<rect x="487.6" y="475.9" width="14.4" height="14.4" fill="#d6a190"/>
<rect x="731.2" y="475.9" width="14.4" height="14.4" fill="#edeaea"/>
<rect x="86.4" y="461.6" width="14.4" height="14.4" fill="#efe7e4"/>
<rect x="100.7" y="461.6" width="14.4" height="14.4" fill="#ede2de"/>
<rect x="115.1" y="461.6" width="14.4" height="14.4" fill="#ebddd9"/>
<rect x="129.4" y="461.6" width="14.4" height="14.4" fill="#e9d9d4"/>
<rect x="143.7" y="461.6" width="14.4" height="14.4" fill="#e8d5cf"/>
<rect x="158.1" y="461.6" width="14.4" height="14.4" fill="#e7d3cc"/>
<rect x="172.4" y="461.6" width="14.4" height="14.4" fill="#e6d0c9"/>
<rect x="186.7" y="461.6" width="14.4" height="14.4" fill="#e5cdc6"/>
<rect x="201" y="461.6" width="14.4" height="14.4" fill="#e4ccc5"/>
<rect x="215.4" y="461.6" width="14.4" height="14.4" fill="#e4cac3"/>
<rect x="229.7" y="461.6" width="14.4" height="14.4" fill="#e2c6be"/>
<rect x="244" y="461.6" width="14.4" height="14.4" fill="#e1c2b9"/>
<rect x="258.4" y="461.6" width="14.4" height="14.4" fill="#dfbcb2"/>
<rect x="272.7" y="461.6" width="14.4" height="14.4" fill="#dcb3a7"/>
<rect x="287" y="461.6" width="14.4" height="14.4" fill="#d9ab9d"/>
<rect x="301.3" y="461.6" width="14.4" height="14.4" fill="#d6a292"/>
<rect x="315.7" y="461.6" width="14.4" height="14.4" fill="#d49d8b"/>
<rect x="330" y="461.6" width="14.4" height="14.4" fill="#d39b88"/>
<rect x="344.3" y="461.6" width="14.4" height="14.4" fill="#d39a87"/>
<rect x="358.7" y="461.6" width="14.4" height="14.4" fill="#d29885"/>
<rect x="373" y="461.6" width="14.4" height="14.4" fill="#d39987"/>
<rect x="387.3" y="461.6" width="14.4" height="14.4" fill="#d19480"/>
<rect x="401.7" y="461.6" width="14.4" height="14.4" fill="#cd8771"/>
<rect x="416" y="461.6" width="14.4" height="14.4" fill="#c8775f"/>
<rect x="430.3" y="461.6" width="14.4" height="14.4" fill="#c8775f"/>
<rect x="444.7" y="461.6" width="14.4" height="14.4" fill="#ce8b76"/>
<rect x="459" y="461.6" width="14.4" height="14.4" fill="#d29884"/>
<rect x="473.3" y="461.6" width="14.4" height="14.4" fill="#d6a393"/>
<rect x="731.2" y="461.6" width="14.4" height="14.4" fill="#ede9e9"/>
<rect x="86.4" y="447.2" width="14.4" height="14.4" fill="#efe7e5"/>
<rect x="100.7" y="447.2" width="14.4" height="14.4" fill="#ede1de"/>
<rect x="115.1" y="447.2" width="14.4" height="14.4" fill="#eadbd6"/>
<rect x="129.4" y="447.2" width="14.4" height="14.4" fill="#e9d7d2"/>
<rect x="143.7" y="447.2" width="14.4" height="14.4" fill="#e8d5cf"/>
<rect x="158.1" y="447.2" width="14.4" height="14.4" fill="#e6cfc9"/>
<rect x="172.4" y="447.2" width="14.4" height="14.4" fill="#e5cec7"/>
<rect x="186.7" y="447.2" width="14.4" height="14.4" fill="#e4ccc5"/>
<rect x="201" y="447.2" width="14.4" height="14.4" fill="#e4cbc3"/>
<rect x="215.4" y="447.2" width="14.4" height="14.4" fill="#e4cbc4"/>
<rect x="229.7" y="447.2" width="14.4" height="14.4" fill="#e2c5bd"/>
<rect x="244" y="447.2" width="14.4" height="14.4" fill="#e0bfb6"/>
<rect x="258.4" y="447.2" width="14.4" height="14.4" fill="#ddb6ab"/>
<rect x="272.7" y="447.2" width="14.4" height="14.4" fill="#daad9f"/>
<rect x="287" y="447.2" width="14.4" height="14.4" fill="#d8a797"/>
<rect x="301.3" y="447.2" width="14.4" height="14.4" fill="#d6a292"/>
<rect x="315.7" y="447.2" width="14.4" height="14.4" fill="#d49c8a"/>
<rect x="330" y="447.2" width="14.4" height="14.4" fill="#d39986"/>
<rect x="344.3" y="447.2" width="14.4" height="14.4" fill="#d29884"/>
<rect x="358.7" y="447.2" width="14.4" height="14.4" fill="#d29885"/>
<rect x="373" y="447.2" width="14.4" height="14.4" fill="#d29682"/>
<rect x="387.3" y="447.2" width="14.4" height="14.4" fill="#ce8b75"/>
<rect x="401.7" y="447.2" width="14.4" height="14.4" fill="#ca7e66"/>
<rect x="416" y="447.2" width="14.4" height="14.4" fill="#c87860"/>
<rect x="430.3" y="447.2" width="14.4" height="14.4" fill="#cd8872"/>
<rect x="444.7" y="447.2" width="14.4" height="14.4" fill="#d39a87"/>
<rect x="459" y="447.2" width="14.4" height="14.4" fill="#d8a898"/>
<rect x="731.2" y="447.2" width="14.4" height="14.4" fill="#eeeaea"/>
<rect x="86.4" y="432.9" width="14.4" height="14.4" fill="#f0e9e8"/>
<rect x="100.7" y="432.9" width="14.4" height="14.4" fill="#ede3e0"/>
<rect x="115.1" y="432.9" width="14.4" height="14.4" fill="#eadad5"/>
<rect x="129.4" y="432.9" width="14.4" height="14.4" fill="#e8d5cf"/>
<rect x="143.7" y="432.9" width="14.4" height="14.4" fill="#e6d1cb"/>
<rect x="158.1" y="432.9" width="14.4" height="14.4" fill="#e5cec7"/>
<rect x="172.4" y="432.9" width="14.4" height="14.4" fill="#e5ccc5"/>
<rect x="186.7" y="432.9" width="14.4" height="14.4" fill="#e3c9c2"/>
<rect x="201" y="432.9" width="14.4" height="14.4" fill="#e4cac3"/>
<rect x="215.4" y="432.9" width="14.4" height="14.4" fill="#e3c7bf"/>
<rect x="229.7" y="432.9" width="14.4" height="14.4" fill="#e0c1b8"/>
<rect x="244" y="432.9" width="14.4" height="14.4" fill="#dfbdb3"/>
<rect x="258.4" y="432.9" width="14.4" height="14.4" fill="#dcb4a8"/>
<rect x="272.7" y="432.9" width="14.4" height="14.4" fill="#daaea0"/>
<rect x="287" y="432.9" width="14.4" height="14.4" fill="#d7a697"/>
<rect x="301.3" y="432.9" width="14.4" height="14.4" fill="#d6a190"/>
<rect x="315.7" y="432.9" width="14.4" height="14.4" fill="#d49b89"/>
<rect x="330" y="432.9" width="14.4" height="14.4" fill="#d29885"/>
<rect x="344.3" y="432.9" width="14.4" height="14.4" fill="#d19581"/>
<rect x="358.7" y="432.9" width="14.4" height="14.4" fill="#d0917c"/>
<rect x="373" y="432.9" width="14.4" height="14.4" fill="#ce8b75"/>
<rect x="387.3" y="432.9" width="14.4" height="14.4" fill="#ca7f67"/>
<rect x="401.7" y="432.9" width="14.4" height="14.4" fill="#c7765e"/>
<rect x="416" y="432.9" width="14.4" height="14.4" fill="#ca7e67"/>
<rect x="430.3" y="432.9" width="14.4" height="14.4" fill="#d1947f"/>
<rect x="444.7" y="432.9" width="14.4" height="14.4" fill="#d7a595"/>
<rect x="731.2" y="432.9" width="14.4" height="14.4" fill="#f1eceb"/>
<rect x="86.4" y="418.6" width="14.4" height="14.4" fill="#f1ebea"/>
<rect x="100.7" y="418.6" width="14.4" height="14.4" fill="#eee4e2"/>
<rect x="115.1" y="418.6" width="14.4" height="14.4" fill="#e9d9d3"/>
<rect x="129.4" y="418.6" width="14.4" height="14.4" fill="#e7d2cb"/>
<rect x="143.7" y="418.6" width="14.4" height="14.4" fill="#e5cfc8"/>
<rect x="158.1" y="418.6" width="14.4" height="14.4" fill="#e4cac2"/>
<rect x="172.4" y="418.6" width="14.4" height="14.4" fill="#e2c7bf"/>
<rect x="186.7" y="418.6" width="14.4" height="14.4" fill="#e2c5bd"/>
<rect x="201" y="418.6" width="14.4" height="14.4" fill="#e2c6be"/>
<rect x="215.4" y="418.6" width="14.4" height="14.4" fill="#e2c5bc"/>
<rect x="229.7" y="418.6" width="14.4" height="14.4" fill="#e0bfb6"/>
<rect x="244" y="418.6" width="14.4" height="14.4" fill="#deb9ae"/>
<rect x="258.4" y="418.6" width="14.4" height="14.4" fill="#dbb1a4"/>
<rect x="272.7" y="418.6" width="14.4" height="14.4" fill="#d9ac9e"/>
<rect x="287" y="418.6" width="14.4" height="14.4" fill="#d8a798"/>
<rect x="301.3" y="418.6" width="14.4" height="14.4" fill="#d59f8e"/>
<rect x="315.7" y="418.6" width="14.4" height="14.4" fill="#d39b89"/>
<rect x="330" y="418.6" width="14.4" height="14.4" fill="#d29682"/>
<rect x="344.3" y="418.6" width="14.4" height="14.4" fill="#d0917c"/>
<rect x="358.7" y="418.6" width="14.4" height="14.4" fill="#ce8b76"/>
<rect x="373" y="418.6" width="14.4" height="14.4" fill="#cb826b"/>
<rect x="387.3" y="418.6" width="14.4" height="14.4" fill="#c7765e"/>
<rect x="401.7" y="418.6" width="14.4" height="14.4" fill="#c6735b"/>
<rect x="416" y="418.6" width="14.4" height="14.4" fill="#cb816a"/>
<rect x="430.3" y="418.6" width="14.4" height="14.4" fill="#d0927d"/>
<rect x="731.2" y="418.6" width="14.4" height="14.4" fill="#f1eceb"/>
<rect x="86.4" y="404.2" width="14.4" height="14.4" fill="#f0e8e7"/>
<rect x="100.7" y="404.2" width="14.4" height="14.4" fill="#ede3df"/>
<rect x="115.1" y="404.2" width="14.4" height="14.4" fill="#e9d9d4"/>
<rect x="129.4" y="404.2" width="14.4" height="14.4" fill="#e7d2cc"/>
<rect x="143.7" y="404.2" width="14.4" height="14.4" fill="#e4cac3"/>
<rect x="158.1" y="404.2" width="14.4" height="14.4" fill="#e2c5bd"/>
<rect x="172.4" y="404.2" width="14.4" height="14.4" fill="#e0c0b7"/>
<rect x="186.7" y="404.2" width="14.4" height="14.4" fill="#e0c0b7"/>
<rect x="201" y="404.2" width="14.4" height="14.4" fill="#e1c3bb"/>
<rect x="215.4" y="404.2" width="14.4" height="14.4" fill="#e1c2b9"/>
<rect x="229.7" y="404.2" width="14.4" height="14.4" fill="#dfbcb2"/>
<rect x="244" y="404.2" width="14.4" height="14.4" fill="#ddb7ac"/>
<rect x="258.4" y="404.2" width="14.4" height="14.4" fill="#daaea0"/>
<rect x="272.7" y="404.2" width="14.4" height="14.4" fill="#d8a798"/>
<rect x="287" y="404.2" width="14.4" height="14.4" fill="#d6a291"/>
<rect x="301.3" y="404.2" width="14.4" height="14.4" fill="#d49c8a"/>
<rect x="315.7" y="404.2" width="14.4" height="14.4" fill="#d29885"/>
<rect x="330" y="404.2" width="14.4" height="14.4" fill="#d1937e"/>
<rect x="344.3" y="404.2" width="14.4" height="14.4" fill="#cf8d77"/>
<rect x="358.7" y="404.2" width="14.4" height="14.4" fill="#cc846d"/>
<rect x="373" y="404.2" width="14.4" height="14.4" fill="#c87860"/>
<rect x="387.3" y="404.2" width="14.4" height="14.4" fill="#c7755d"/>
<rect x="401.7" y="404.2" width="14.4" height="14.4" fill="#ca7e67"/>
<rect x="416" y="404.2" width="14.4" height="14.4" fill="#cf8e78"/>
<rect x="430.3" y="404.2" width="14.4" height="14.4" fill="#d29683"/>
<rect x="444.7" y="404.2" width="14.4" height="14.4" fill="#d7a595"/>
<rect x="731.2" y="404.2" width="14.4" height="14.4" fill="#eeeaea"/>
<rect x="86.4" y="389.9" width="14.4" height="14.4" fill="#eee6e3"/>
<rect x="100.7" y="389.9" width="14.4" height="14.4" fill="#ecdfdb"/>
<rect x="115.1" y="389.9" width="14.4" height="14.4" fill="#e8d7d1"/>
<rect x="129.4" y="389.9" width="14.4" height="14.4" fill="#e6cfc9"/>
<rect x="143.7" y="389.9" width="14.4" height="14.4" fill="#e2c5bd"/>
<rect x="158.1" y="389.9" width="14.4" height="14.4" fill="#e0c1b8"/>
<rect x="172.4" y="389.9" width="14.4" height="14.4" fill="#dfbcb2"/>
<rect x="186.7" y="389.9" width="14.4" height="14.4" fill="#dfbdb3"/>
<rect x="201" y="389.9" width="14.4" height="14.4" fill="#dfbeb5"/>
<rect x="215.4" y="389.9" width="14.4" height="14.4" fill="#dfbcb2"/>
<rect x="229.7" y="389.9" width="14.4" height="14.4" fill="#dcb5a9"/>
<rect x="244" y="389.9" width="14.4" height="14.4" fill="#dbb1a5"/>
<rect x="258.4" y="389.9" width="14.4" height="14.4" fill="#d9ac9e"/>
<rect x="272.7" y="389.9" width="14.4" height="14.4" fill="#d7a696"/>
<rect x="287" y="389.9" width="14.4" height="14.4" fill="#d59f8e"/>
<rect x="301.3" y="389.9" width="14.4" height="14.4" fill="#d39986"/>
<rect x="315.7" y="389.9" width="14.4" height="14.4" fill="#d39986"/>
<rect x="330" y="389.9" width="14.4" height="14.4" fill="#d1937f"/>
<rect x="344.3" y="389.9" width="14.4" height="14.4" fill="#cd8973"/>
<rect x="358.7" y="389.9" width="14.4" height="14.4" fill="#c97d65"/>
<rect x="373" y="389.9" width="14.4" height="14.4" fill="#c7755d"/>
<rect x="387.3" y="389.9" width="14.4" height="14.4" fill="#ca7f68"/>
<rect x="401.7" y="389.9" width="14.4" height="14.4" fill="#d29682"/>
<rect x="416" y="389.9" width="14.4" height="14.4" fill="#d9aa9c"/>
<rect x="430.3" y="389.9" width="14.4" height="14.4" fill="#d9aa9b"/>
<rect x="444.7" y="389.9" width="14.4" height="14.4" fill="#daada0"/>
<rect x="731.2" y="389.9" width="14.4" height="14.4" fill="#efebea"/>
<rect x="86.4" y="375.6" width="14.4" height="14.4" fill="#efe8e6"/>
<rect x="100.7" y="375.6" width="14.4" height="14.4" fill="#ebdfda"/>
<rect x="115.1" y="375.6" width="14.4" height="14.4" fill="#e9d7d2"/>
<rect x="129.4" y="375.6" width="14.4" height="14.4" fill="#e6cfc9"/>
<rect x="143.7" y="375.6" width="14.4" height="14.4" fill="#e1c3bb"/>
<rect x="158.1" y="375.6" width="14.4" height="14.4" fill="#dfbeb4"/>
<rect x="172.4" y="375.6" width="14.4" height="14.4" fill="#ddb8ad"/>
<rect x="186.7" y="375.6" width="14.4" height="14.4" fill="#deb9ae"/>
<rect x="201" y="375.6" width="14.4" height="14.4" fill="#debbb0"/>
<rect x="215.4" y="375.6" width="14.4" height="14.4" fill="#deb9ae"/>
<rect x="229.7" y="375.6" width="14.4" height="14.4" fill="#dcb3a6"/>
<rect x="244" y="375.6" width="14.4" height="14.4" fill="#dbb0a2"/>
<rect x="258.4" y="375.6" width="14.4" height="14.4" fill="#d9aa9c"/>
<rect x="272.7" y="375.6" width="14.4" height="14.4" fill="#d6a392"/>
<rect x="287" y="375.6" width="14.4" height="14.4" fill="#d49d8c"/>
<rect x="301.3" y="375.6" width="14.4" height="14.4" fill="#d39986"/>
<rect x="315.7" y="375.6" width="14.4" height="14.4" fill="#d29682"/>
<rect x="330" y="375.6" width="14.4" height="14.4" fill="#cf8e79"/>
<rect x="344.3" y="375.6" width="14.4" height="14.4" fill="#cc846d"/>
<rect x="358.7" y="375.6" width="14.4" height="14.4" fill="#ca7d66"/>
<rect x="373" y="375.6" width="14.4" height="14.4" fill="#c97b64"/>
<rect x="387.3" y="375.6" width="14.4" height="14.4" fill="#d29884"/>
<rect x="401.7" y="375.6" width="14.4" height="14.4" fill="#dcb5aa"/>
<rect x="416" y="375.6" width="14.4" height="14.4" fill="#e2c6be"/>
<rect x="731.2" y="375.6" width="14.4" height="14.4" fill="#f0ebeb"/>
<rect x="86.4" y="361.2" width="14.4" height="14.4" fill="#efe8e6"/>
<rect x="100.7" y="361.2" width="14.4" height="14.4" fill="#ebddd8"/>
<rect x="115.1" y="361.2" width="14.4" height="14.4" fill="#e7d4ce"/>
<rect x="129.4" y="361.2" width="14.4" height="14.4" fill="#e4ccc5"/>
<rect x="143.7" y="361.2" width="14.4" height="14.4" fill="#e0c1b8"/>
<rect x="158.1" y="361.2" width="14.4" height="14.4" fill="#dfbcb3"/>
<rect x="172.4" y="361.2" width="14.4" height="14.4" fill="#deb9af"/>
<rect x="186.7" y="361.2" width="14.4" height="14.4" fill="#ddb8ad"/>
<rect x="201" y="361.2" width="14.4" height="14.4" fill="#ddb8ad"/>
<rect x="215.4" y="361.2" width="14.4" height="14.4" fill="#ddb6ab"/>
<rect x="229.7" y="361.2" width="14.4" height="14.4" fill="#dbb1a4"/>
<rect x="244" y="361.2" width="14.4" height="14.4" fill="#daaea0"/>
<rect x="258.4" y="361.2" width="14.4" height="14.4" fill="#d8a99b"/>
<rect x="272.7" y="361.2" width="14.4" height="14.4" fill="#d5a08f"/>
<rect x="287" y="361.2" width="14.4" height="14.4" fill="#d49d8b"/>
<rect x="301.3" y="361.2" width="14.4" height="14.4" fill="#d39a87"/>
<rect x="315.7" y="361.2" width="14.4" height="14.4" fill="#d29582"/>
<rect x="330" y="361.2" width="14.4" height="14.4" fill="#ce8c76"/>
<rect x="344.3" y="361.2" width="14.4" height="14.4" fill="#cb816a"/>
<rect x="358.7" y="361.2" width="14.4" height="14.4" fill="#cb826b"/>
<rect x="373" y="361.2" width="14.4" height="14.4" fill="#d1937e"/>
<rect x="387.3" y="361.2" width="14.4" height="14.4" fill="#dcb5aa"/>
<rect x="401.7" y="361.2" width="14.4" height="14.4" fill="#e5cdc5"/>
<rect x="731.2" y="361.2" width="14.4" height="14.4" fill="#efebea"/>
<rect x="86.4" y="346.9" width="14.4" height="14.4" fill="#efe7e5"/>
<rect x="100.7" y="346.9" width="14.4" height="14.4" fill="#ebdeda"/>
<rect x="115.1" y="346.9" width="14.4" height="14.4" fill="#e8d4ce"/>
<rect x="129.4" y="346.9" width="14.4" height="14.4" fill="#e5cdc6"/>
<rect x="143.7" y="346.9" width="14.4" height="14.4" fill="#e2c5bd"/>
<rect x="158.1" y="346.9" width="14.4" height="14.4" fill="#e0c0b7"/>
<rect x="172.4" y="346.9" width="14.4" height="14.4" fill="#dfbeb5"/>
<rect x="186.7" y="346.9" width="14.4" height="14.4" fill="#dfbdb3"/>
<rect x="201" y="346.9" width="14.4" height="14.4" fill="#ddb8ad"/>
<rect x="215.4" y="346.9" width="14.4" height="14.4" fill="#ddb7ab"/>
<rect x="229.7" y="346.9" width="14.4" height="14.4" fill="#dcb3a6"/>
<rect x="244" y="346.9" width="14.4" height="14.4" fill="#daada0"/>
<rect x="258.4" y="346.9" width="14.4" height="14.4" fill="#d8a99b"/>
<rect x="272.7" y="346.9" width="14.4" height="14.4" fill="#d6a190"/>
<rect x="287" y="346.9" width="14.4" height="14.4" fill="#d49c8a"/>
<rect x="301.3" y="346.9" width="14.4" height="14.4" fill="#d39986"/>
<rect x="315.7" y="346.9" width="14.4" height="14.4" fill="#d1937e"/>
<rect x="330" y="346.9" width="14.4" height="14.4" fill="#cc8670"/>
<rect x="344.3" y="346.9" width="14.4" height="14.4" fill="#c97d65"/>
<rect x="358.7" y="346.9" width="14.4" height="14.4" fill="#ce8b76"/>
<rect x="373" y="346.9" width="14.4" height="14.4" fill="#d9ac9e"/>
<rect x="387.3" y="346.9" width="14.4" height="14.4" fill="#e3c9c1"/>
<rect x="401.7" y="346.9" width="14.4" height="14.4" fill="#e9d7d1"/>
<rect x="731.2" y="346.9" width="14.4" height="14.4" fill="#f0ebeb"/>
<rect x="86.4" y="332.6" width="14.4" height="14.4" fill="#f0e9e7"/>
<rect x="100.7" y="332.6" width="14.4" height="14.4" fill="#ece0dc"/>
<rect x="115.1" y="332.6" width="14.4" height="14.4" fill="#e9d7d2"/>
<rect x="129.4" y="332.6" width="14.4" height="14.4" fill="#e6cfc9"/>
<rect x="143.7" y="332.6" width="14.4" height="14.4" fill="#e3c9c2"/>
<rect x="158.1" y="332.6" width="14.4" height="14.4" fill="#e2c6bd"/>
<rect x="172.4" y="332.6" width="14.4" height="14.4" fill="#e1c2ba"/>
<rect x="186.7" y="332.6" width="14.4" height="14.4" fill="#e0c0b7"/>
<rect x="201" y="332.6" width="14.4" height="14.4" fill="#debbb0"/>
<rect x="215.4" y="332.6" width="14.4" height="14.4" fill="#debaaf"/>
<rect x="229.7" y="332.6" width="14.4" height="14.4" fill="#ddb7ab"/>
<rect x="244" y="332.6" width="14.4" height="14.4" fill="#daaea1"/>
<rect x="258.4" y="332.6" width="14.4" height="14.4" fill="#d8a898"/>
<rect x="272.7" y="332.6" width="14.4" height="14.4" fill="#d6a190"/>
<rect x="287" y="332.6" width="14.4" height="14.4" fill="#d49d8b"/>
<rect x="301.3" y="332.6" width="14.4" height="14.4" fill="#d39b88"/>
<rect x="315.7" y="332.6" width="14.4" height="14.4" fill="#d0907a"/>
<rect x="330" y="332.6" width="14.4" height="14.4" fill="#c87961"/>
<rect x="344.3" y="332.6" width="14.4" height="14.4" fill="#c6725a"/>
<rect x="358.7" y="332.6" width="14.4" height="14.4" fill="#d19480"/>
<rect x="373" y="332.6" width="14.4" height="14.4" fill="#debbb1"/>
<rect x="387.3" y="332.6" width="14.4" height="14.4" fill="#e6d0ca"/>
<rect x="731.2" y="332.6" width="14.4" height="14.4" fill="#f0ebea"/>
<rect x="86.4" y="318.2" width="14.4" height="14.4" fill="#f1ebea"/>
<rect x="100.7" y="318.2" width="14.4" height="14.4" fill="#ede3e0"/>
<rect x="115.1" y="318.2" width="14.4" height="14.4" fill="#eadad5"/>
<rect x="129.4" y="318.2" width="14.4" height="14.4" fill="#e7d4ce"/>
<rect x="143.7" y="318.2" width="14.4" height="14.4" fill="#e5cdc6"/>
<rect x="158.1" y="318.2" width="14.4" height="14.4" fill="#e3c8c0"/>
<rect x="172.4" y="318.2" width="14.4" height="14.4" fill="#e2c5bd"/>
<rect x="186.7" y="318.2" width="14.4" height="14.4" fill="#e2c4bc"/>
<rect x="201" y="318.2" width="14.4" height="14.4" fill="#e0bfb5"/>
<rect x="215.4" y="318.2" width="14.4" height="14.4" fill="#deb9af"/>
<rect x="229.7" y="318.2" width="14.4" height="14.4" fill="#ddb7ac"/>
<rect x="244" y="318.2" width="14.4" height="14.4" fill="#daafa2"/>
<rect x="258.4" y="318.2" width="14.4" height="14.4" fill="#d8a99b"/>
<rect x="272.7" y="318.2" width="14.4" height="14.4" fill="#d7a595"/>
<rect x="287" y="318.2" width="14.4" height="14.4" fill="#d59f8e"/>
<rect x="301.3" y="318.2" width="14.4" height="14.4" fill="#d39986"/>
<rect x="315.7" y="318.2" width="14.4" height="14.4" fill="#ce8a74"/>
<rect x="330" y="318.2" width="14.4" height="14.4" fill="#c57159"/>
<rect x="344.3" y="318.2" width="14.4" height="14.4" fill="#c57159"/>
<rect x="358.7" y="318.2" width="14.4" height="14.4" fill="#d29682"/>
<rect x="373" y="318.2" width="14.4" height="14.4" fill="#deb9ae"/>
<rect x="731.2" y="318.2" width="14.4" height="14.4" fill="#edeaea"/>
<rect x="86.4" y="303.9" width="14.4" height="14.4" fill="#eee5e3"/>
<rect x="100.7" y="303.9" width="14.4" height="14.4" fill="#ece0dd"/>
<rect x="115.1" y="303.9" width="14.4" height="14.4" fill="#e9d8d2"/>
<rect x="129.4" y="303.9" width="14.4" height="14.4" fill="#e8d5d0"/>
<rect x="143.7" y="303.9" width="14.4" height="14.4" fill="#e6d0c9"/>
<rect x="158.1" y="303.9" width="14.4" height="14.4" fill="#e4cac3"/>
<rect x="172.4" y="303.9" width="14.4" height="14.4" fill="#e3c8c0"/>
<rect x="186.7" y="303.9" width="14.4" height="14.4" fill="#e3c7bf"/>
<rect x="201" y="303.9" width="14.4" height="14.4" fill="#e1c4bc"/>
<rect x="215.4" y="303.9" width="14.4" height="14.4" fill="#dfbeb4"/>
<rect x="229.7" y="303.9" width="14.4" height="14.4" fill="#ddb6ab"/>
<rect x="244" y="303.9" width="14.4" height="14.4" fill="#dbb2a5"/>
<rect x="258.4" y="303.9" width="14.4" height="14.4" fill="#d9ac9e"/>
<rect x="272.7" y="303.9" width="14.4" height="14.4" fill="#d8a798"/>
<rect x="287" y="303.9" width="14.4" height="14.4" fill="#d59e8c"/>
<rect x="301.3" y="303.9" width="14.4" height="14.4" fill="#d19581"/>
<rect x="315.7" y="303.9" width="14.4" height="14.4" fill="#ce8973"/>
<rect x="330" y="303.9" width="14.4" height="14.4" fill="#c97c65"/>
<rect x="344.3" y="303.9" width="14.4" height="14.4" fill="#cb826c"/>
<rect x="358.7" y="303.9" width="14.4" height="14.4" fill="#d49c8a"/>
<rect x="373" y="303.9" width="14.4" height="14.4" fill="#ddb7ac"/>
<rect x="731.2" y="303.9" width="14.4" height="14.4" fill="#edeae9"/>
<rect x="86.4" y="289.6" width="14.4" height="14.4" fill="#ede2df"/>
<rect x="100.7" y="289.6" width="14.4" height="14.4" fill="#ebddd9"/>
<rect x="115.1" y="289.6" width="14.4" height="14.4" fill="#e9d7d2"/>
<rect x="129.4" y="289.6" width="14.4" height="14.4" fill="#e6d1cb"/>
<rect x="143.7" y="289.6" width="14.4" height="14.4" fill="#e5cec7"/>
<rect x="158.1" y="289.6" width="14.4" height="14.4" fill="#e4cbc4"/>
<rect x="172.4" y="289.6" width="14.4" height="14.4" fill="#e3c7bf"/>
<rect x="186.7" y="289.6" width="14.4" height="14.4" fill="#e2c5bd"/>
<rect x="201" y="289.6" width="14.4" height="14.4" fill="#e2c4bc"/>
<rect x="215.4" y="289.6" width="14.4" height="14.4" fill="#e0bfb6"/>
<rect x="229.7" y="289.6" width="14.4" height="14.4" fill="#ddb8ad"/>
<rect x="244" y="289.6" width="14.4" height="14.4" fill="#dcb3a7"/>
<rect x="258.4" y="289.6" width="14.4" height="14.4" fill="#daad9f"/>
<rect x="272.7" y="289.6" width="14.4" height="14.4" fill="#d7a696"/>
<rect x="287" y="289.6" width="14.4" height="14.4" fill="#d49d8b"/>
<rect x="301.3" y="289.6" width="14.4" height="14.4" fill="#d19480"/>
<rect x="315.7" y="289.6" width="14.4" height="14.4" fill="#cf8f79"/>
<rect x="330" y="289.6" width="14.4" height="14.4" fill="#d0907b"/>
<rect x="344.3" y="289.6" width="14.4" height="14.4" fill="#d29784"/>
<rect x="731.2" y="289.6" width="14.4" height="14.4" fill="#ece9e9"/>
<rect x="86.4" y="275.3" width="14.4" height="14.4" fill="#ece0dc"/>
<rect x="100.7" y="275.3" width="14.4" height="14.4" fill="#ebddd8"/>
<rect x="115.1" y="275.3" width="14.4" height="14.4" fill="#e9d8d2"/>
<rect x="129.4" y="275.3" width="14.4" height="14.4" fill="#e6d1cb"/>
<rect x="143.7" y="275.3" width="14.4" height="14.4" fill="#e5cec7"/>
<rect x="158.1" y="275.3" width="14.4" height="14.4" fill="#e3c9c2"/>
<rect x="172.4" y="275.3" width="14.4" height="14.4" fill="#e3c8c0"/>
<rect x="186.7" y="275.3" width="14.4" height="14.4" fill="#e3c7bf"/>
<rect x="201" y="275.3" width="14.4" height="14.4" fill="#e2c5bd"/>
<rect x="215.4" y="275.3" width="14.4" height="14.4" fill="#e1c1b9"/>
<rect x="229.7" y="275.3" width="14.4" height="14.4" fill="#dfbcb2"/>
<rect x="244" y="275.3" width="14.4" height="14.4" fill="#dcb4a8"/>
<rect x="258.4" y="275.3" width="14.4" height="14.4" fill="#daad9f"/>
<rect x="272.7" y="275.3" width="14.4" height="14.4" fill="#d6a392"/>
<rect x="287" y="275.3" width="14.4" height="14.4" fill="#d39b89"/>
<rect x="301.3" y="275.3" width="14.4" height="14.4" fill="#d1937f"/>
<rect x="315.7" y="275.3" width="14.4" height="14.4" fill="#d0927e"/>
<rect x="330" y="275.3" width="14.4" height="14.4" fill="#d49b89"/>
<rect x="731.2" y="275.3" width="14.4" height="14.4" fill="#ece9e9"/>
<rect x="86.4" y="260.9" width="14.4" height="14.4" fill="#ede3e0"/>
<rect x="100.7" y="260.9" width="14.4" height="14.4" fill="#ebddd8"/>
<rect x="115.1" y="260.9" width="14.4" height="14.4" fill="#e9d7d2"/>
<rect x="129.4" y="260.9" width="14.4" height="14.4" fill="#e7d2cb"/>
<rect x="143.7" y="260.9" width="14.4" height="14.4" fill="#e5cdc6"/>
<rect x="158.1" y="260.9" width="14.4" height="14.4" fill="#e4ccc4"/>
<rect x="172.4" y="260.9" width="14.4" height="14.4" fill="#e4cac3"/>
<rect x="186.7" y="260.9" width="14.4" height="14.4" fill="#e3c7bf"/>
<rect x="201" y="260.9" width="14.4" height="14.4" fill="#e1c3bb"/>
<rect x="215.4" y="260.9" width="14.4" height="14.4" fill="#e0c1b8"/>
<rect x="229.7" y="260.9" width="14.4" height="14.4" fill="#dfbeb5"/>
<rect x="244" y="260.9" width="14.4" height="14.4" fill="#dcb5a9"/>
<rect x="258.4" y="260.9" width="14.4" height="14.4" fill="#d9ab9c"/>
<rect x="272.7" y="260.9" width="14.4" height="14.4" fill="#d59f8e"/>
<rect x="287" y="260.9" width="14.4" height="14.4" fill="#d29885"/>
<rect x="301.3" y="260.9" width="14.4" height="14.4" fill="#d0917c"/>
<rect x="315.7" y="260.9" width="14.4" height="14.4" fill="#d0917c"/>
<rect x="330" y="260.9" width="14.4" height="14.4" fill="#d39b88"/>
<rect x="731.2" y="260.9" width="14.4" height="14.4" fill="#eeeaea"/>
<rect x="86.4" y="246.6" width="14.4" height="14.4" fill="#ede2df"/>
<rect x="100.7" y="246.6" width="14.4" height="14.4" fill="#ebddd9"/>
<rect x="115.1" y="246.6" width="14.4" height="14.4" fill="#e8d6d0"/>
<rect x="129.4" y="246.6" width="14.4" height="14.4" fill="#e6d1cb"/>
<rect x="143.7" y="246.6" width="14.4" height="14.4" fill="#e4ccc5"/>
<rect x="158.1" y="246.6" width="14.4" height="14.4" fill="#e4cac2"/>
<rect x="172.4" y="246.6" width="14.4" height="14.4" fill="#e3c8c0"/>
<rect x="186.7" y="246.6" width="14.4" height="14.4" fill="#e3c7bf"/>
<rect x="201" y="246.6" width="14.4" height="14.4" fill="#e2c5bc"/>
<rect x="215.4" y="246.6" width="14.4" height="14.4" fill="#e0c1b8"/>
<rect x="229.7" y="246.6" width="14.4" height="14.4" fill="#dfbcb2"/>
<rect x="244" y="246.6" width="14.4" height="14.4" fill="#dbb1a4"/>
<rect x="258.4" y="246.6" width="14.4" height="14.4" fill="#d7a696"/>
<rect x="272.7" y="246.6" width="14.4" height="14.4" fill="#d49c8a"/>
<rect x="287" y="246.6" width="14.4" height="14.4" fill="#d29783"/>
<rect x="301.3" y="246.6" width="14.4" height="14.4" fill="#d0907b"/>
<rect x="315.7" y="246.6" width="14.4" height="14.4" fill="#d0927d"/>
<rect x="330" y="246.6" width="14.4" height="14.4" fill="#d49c89"/>
<rect x="731.2" y="246.6" width="14.4" height="14.4" fill="#f0ebeb"/>
<rect x="86.4" y="232.3" width="14.4" height="14.4" fill="#ede2de"/>
<rect x="100.7" y="232.3" width="14.4" height="14.4" fill="#eadbd6"/>
<rect x="115.1" y="232.3" width="14.4" height="14.4" fill="#e8d5cf"/>
<rect x="129.4" y="232.3" width="14.4" height="14.4" fill="#e6d0c9"/>
<rect x="143.7" y="232.3" width="14.4" height="14.4" fill="#e4cac3"/>
<rect x="158.1" y="232.3" width="14.4" height="14.4" fill="#e3c8c1"/>
<rect x="172.4" y="232.3" width="14.4" height="14.4" fill="#e2c6bd"/>
<rect x="186.7" y="232.3" width="14.4" height="14.4" fill="#e2c4bc"/>
<rect x="201" y="232.3" width="14.4" height="14.4" fill="#e1c4bb"/>
<rect x="215.4" y="232.3" width="14.4" height="14.4" fill="#e0bfb5"/>
<rect x="229.7" y="232.3" width="14.4" height="14.4" fill="#dcb4a8"/>
<rect x="244" y="232.3" width="14.4" height="14.4" fill="#d9ac9e"/>
<rect x="258.4" y="232.3" width="14.4" height="14.4" fill="#d6a191"/>
<rect x="272.7" y="232.3" width="14.4" height="14.4" fill="#d29783"/>
<rect x="287" y="232.3" width="14.4" height="14.4" fill="#d19480"/>
<rect x="301.3" y="232.3" width="14.4" height="14.4" fill="#d0927e"/>
<rect x="315.7" y="232.3" width="14.4" height="14.4" fill="#d19581"/>
<rect x="330" y="232.3" width="14.4" height="14.4" fill="#d59f8d"/>
<rect x="731.2" y="232.3" width="14.4" height="14.4" fill="#edeaea"/>
<rect x="86.4" y="217.9" width="14.4" height="14.4" fill="#ece1dd"/>
<rect x="100.7" y="217.9" width="14.4" height="14.4" fill="#eadad5"/>
<rect x="115.1" y="217.9" width="14.4" height="14.4" fill="#e6d1cb"/>
<rect x="129.4" y="217.9" width="14.4" height="14.4" fill="#e4cbc4"/>
<rect x="143.7" y="217.9" width="14.4" height="14.4" fill="#e3c7c0"/>
<rect x="158.1" y="217.9" width="14.4" height="14.4" fill="#e1c3bb"/>
<rect x="172.4" y="217.9" width="14.4" height="14.4" fill="#e1c3ba"/>
<rect x="186.7" y="217.9" width="14.4" height="14.4" fill="#e2c4bc"/>
<rect x="201" y="217.9" width="14.4" height="14.4" fill="#e0c0b7"/>
<rect x="215.4" y="217.9" width="14.4" height="14.4" fill="#debaaf"/>
<rect x="229.7" y="217.9" width="14.4" height="14.4" fill="#dbb1a4"/>
<rect x="244" y="217.9" width="14.4" height="14.4" fill="#d8a99b"/>
<rect x="258.4" y="217.9" width="14.4" height="14.4" fill="#d49e8c"/>
<rect x="272.7" y="217.9" width="14.4" height="14.4" fill="#d0927d"/>
<rect x="287" y="217.9" width="14.4" height="14.4" fill="#d0927d"/>
<rect x="301.3" y="217.9" width="14.4" height="14.4" fill="#d19480"/>
<rect x="315.7" y="217.9" width="14.4" height="14.4" fill="#d39986"/>
<rect x="731.2" y="217.9" width="14.4" height="14.4" fill="#eeebea"/>
<rect x="86.4" y="203.6" width="14.4" height="14.4" fill="#ece1dd"/>
<rect x="100.7" y="203.6" width="14.4" height="14.4" fill="#eadbd6"/>
<rect x="115.1" y="203.6" width="14.4" height="14.4" fill="#e6d0c9"/>
<rect x="129.4" y="203.6" width="14.4" height="14.4" fill="#e3c7bf"/>
<rect x="143.7" y="203.6" width="14.4" height="14.4" fill="#e1c2b9"/>
<rect x="158.1" y="203.6" width="14.4" height="14.4" fill="#dfbcb2"/>
<rect x="172.4" y="203.6" width="14.4" height="14.4" fill="#dfbeb5"/>
<rect x="186.7" y="203.6" width="14.4" height="14.4" fill="#e0c0b7"/>
<rect x="201" y="203.6" width="14.4" height="14.4" fill="#dfbcb2"/>
<rect x="215.4" y="203.6" width="14.4" height="14.4" fill="#dcb5a9"/>
<rect x="229.7" y="203.6" width="14.4" height="14.4" fill="#daafa2"/>
<rect x="244" y="203.6" width="14.4" height="14.4" fill="#d7a595"/>
<rect x="258.4" y="203.6" width="14.4" height="14.4" fill="#d39885"/>
<rect x="272.7" y="203.6" width="14.4" height="14.4" fill="#cf8e79"/>
<rect x="287" y="203.6" width="14.4" height="14.4" fill="#cf8f7a"/>
<rect x="301.3" y="203.6" width="14.4" height="14.4" fill="#d19581"/>
<rect x="731.2" y="203.6" width="14.4" height="14.4" fill="#f0ebeb"/>
<rect x="86.4" y="189.3" width="14.4" height="14.4" fill="#eadcd7"/>
<rect x="100.7" y="189.3" width="14.4" height="14.4" fill="#e7d3cc"/>
<rect x="115.1" y="189.3" width="14.4" height="14.4" fill="#e2c5bd"/>
<rect x="129.4" y="189.3" width="14.4" height="14.4" fill="#e0c0b7"/>
<rect x="143.7" y="189.3" width="14.4" height="14.4" fill="#debbb1"/>
<rect x="158.1" y="189.3" width="14.4" height="14.4" fill="#ddb6ab"/>
<rect x="172.4" y="189.3" width="14.4" height="14.4" fill="#ddb7ac"/>
<rect x="186.7" y="189.3" width="14.4" height="14.4" fill="#ddb7ac"/>
<rect x="201" y="189.3" width="14.4" height="14.4" fill="#ddb7ac"/>
<rect x="215.4" y="189.3" width="14.4" height="14.4" fill="#dcb3a6"/>
<rect x="229.7" y="189.3" width="14.4" height="14.4" fill="#daad9f"/>
<rect x="244" y="189.3" width="14.4" height="14.4" fill="#d6a493"/>
<rect x="258.4" y="189.3" width="14.4" height="14.4" fill="#d39885"/>
<rect x="272.7" y="189.3" width="14.4" height="14.4" fill="#cf8e79"/>
<rect x="287" y="189.3" width="14.4" height="14.4" fill="#d0907b"/>
<rect x="301.3" y="189.3" width="14.4" height="14.4" fill="#d29885"/>
<rect x="731.2" y="189.3" width="14.4" height="14.4" fill="#f1eceb"/>
<rect x="86.4" y="175" width="14.4" height="14.4" fill="#e9d8d2"/>
<rect x="100.7" y="175" width="14.4" height="14.4" fill="#e4cbc4"/>
<rect x="115.1" y="175" width="14.4" height="14.4" fill="#e0bfb6"/>
<rect x="129.4" y="175" width="14.4" height="14.4" fill="#debbb0"/>
<rect x="143.7" y="175" width="14.4" height="14.4" fill="#dcb5a9"/>
<rect x="158.1" y="175" width="14.4" height="14.4" fill="#dbb1a4"/>
<rect x="172.4" y="175" width="14.4" height="14.4" fill="#dbb1a4"/>
<rect x="186.7" y="175" width="14.4" height="14.4" fill="#dbb1a4"/>
<rect x="201" y="175" width="14.4" height="14.4" fill="#dbb2a5"/>
<rect x="215.4" y="175" width="14.4" height="14.4" fill="#daafa2"/>
<rect x="229.7" y="175" width="14.4" height="14.4" fill="#d9aa9c"/>
<rect x="244" y="175" width="14.4" height="14.4" fill="#d6a393"/>
<rect x="258.4" y="175" width="14.4" height="14.4" fill="#d39986"/>
<rect x="272.7" y="175" width="14.4" height="14.4" fill="#d0917c"/>
<rect x="287" y="175" width="14.4" height="14.4" fill="#d19480"/>
<rect x="301.3" y="175" width="14.4" height="14.4" fill="#d59f8e"/>
<rect x="731.2" y="175" width="14.4" height="14.4" fill="#efebea"/>
<rect x="86.4" y="160.6" width="14.4" height="14.4" fill="#e9d7d2"/>
<rect x="100.7" y="160.6" width="14.4" height="14.4" fill="#e4cac3"/>
<rect x="115.1" y="160.6" width="14.4" height="14.4" fill="#e0c0b7"/>
<rect x="129.4" y="160.6" width="14.4" height="14.4" fill="#debaaf"/>
<rect x="143.7" y="160.6" width="14.4" height="14.4" fill="#dcb4a8"/>
<rect x="158.1" y="160.6" width="14.4" height="14.4" fill="#dbb1a4"/>
<rect x="172.4" y="160.6" width="14.4" height="14.4" fill="#dbb2a5"/>
<rect x="186.7" y="160.6" width="14.4" height="14.4" fill="#daafa1"/>
<rect x="201" y="160.6" width="14.4" height="14.4" fill="#d9ac9e"/>
<rect x="215.4" y="160.6" width="14.4" height="14.4" fill="#d9aa9c"/>
<rect x="229.7" y="160.6" width="14.4" height="14.4" fill="#d7a595"/>
<rect x="244" y="160.6" width="14.4" height="14.4" fill="#d5a08f"/>
<rect x="258.4" y="160.6" width="14.4" height="14.4" fill="#d39986"/>
<rect x="272.7" y="160.6" width="14.4" height="14.4" fill="#d19581"/>
<rect x="287" y="160.6" width="14.4" height="14.4" fill="#d39a87"/>
<rect x="301.3" y="160.6" width="14.4" height="14.4" fill="#d7a696"/>
<rect x="731.2" y="160.6" width="14.4" height="14.4" fill="#eeebea"/>
<rect x="86.4" y="146.3" width="14.4" height="14.4" fill="#eadbd6"/>
<rect x="100.7" y="146.3" width="14.4" height="14.4" fill="#e4cbc4"/>
<rect x="115.1" y="146.3" width="14.4" height="14.4" fill="#e0bfb6"/>
<rect x="129.4" y="146.3" width="14.4" height="14.4" fill="#deb9ae"/>
<rect x="143.7" y="146.3" width="14.4" height="14.4" fill="#dbb2a6"/>
<rect x="158.1" y="146.3" width="14.4" height="14.4" fill="#dbb0a3"/>
<rect x="172.4" y="146.3" width="14.4" height="14.4" fill="#daafa2"/>
<rect x="186.7" y="146.3" width="14.4" height="14.4" fill="#d9aa9c"/>
<rect x="201" y="146.3" width="14.4" height="14.4" fill="#d9aa9b"/>
<rect x="215.4" y="146.3" width="14.4" height="14.4" fill="#d8a898"/>
<rect x="229.7" y="146.3" width="14.4" height="14.4" fill="#d7a494"/>
<rect x="244" y="146.3" width="14.4" height="14.4" fill="#d59f8e"/>
<rect x="258.4" y="146.3" width="14.4" height="14.4" fill="#d39a87"/>
<rect x="272.7" y="146.3" width="14.4" height="14.4" fill="#d29885"/>
<rect x="287" y="146.3" width="14.4" height="14.4" fill="#d6a393"/>
<rect x="301.3" y="146.3" width="14.4" height="14.4" fill="#dbb1a4"/>
<rect x="315.7" y="146.3" width="14.4" height="14.4" fill="#debab0"/>
<rect x="731.2" y="146.3" width="14.4" height="14.4" fill="#f0ebeb"/>
<rect x="86.4" y="132" width="14.4" height="14.4" fill="#eadad5"/>
<rect x="100.7" y="132" width="14.4" height="14.4" fill="#e5ccc5"/>
<rect x="115.1" y="132" width="14.4" height="14.4" fill="#e0bfb6"/>
<rect x="129.4" y="132" width="14.4" height="14.4" fill="#deb9ae"/>
<rect x="143.7" y="132" width="14.4" height="14.4" fill="#dbb2a5"/>
<rect x="158.1" y="132" width="14.4" height="14.4" fill="#daada0"/>
<rect x="172.4" y="132" width="14.4" height="14.4" fill="#daada0"/>
<rect x="186.7" y="132" width="14.4" height="14.4" fill="#d9ab9d"/>
<rect x="201" y="132" width="14.4" height="14.4" fill="#d9ac9e"/>
<rect x="215.4" y="132" width="14.4" height="14.4" fill="#d9aa9c"/>
<rect x="229.7" y="132" width="14.4" height="14.4" fill="#d8a899"/>
<rect x="244" y="132" width="14.4" height="14.4" fill="#d6a291"/>
<rect x="258.4" y="132" width="14.4" height="14.4" fill="#d49d8b"/>
<rect x="272.7" y="132" width="14.4" height="14.4" fill="#d49d8b"/>
<rect x="287" y="132" width="14.4" height="14.4" fill="#d9ab9d"/>
<rect x="301.3" y="132" width="14.4" height="14.4" fill="#e0bfb6"/>
<rect x="315.7" y="132" width="14.4" height="14.4" fill="#e1c3bb"/>
<rect x="731.2" y="132" width="14.4" height="14.4" fill="#f0eceb"/>
<rect x="86.4" y="117.6" width="14.4" height="14.4" fill="#eadbd5"/>
<rect x="100.7" y="117.6" width="14.4" height="14.4" fill="#e5cec7"/>
<rect x="115.1" y="117.6" width="14.4" height="14.4" fill="#e0c1b8"/>
<rect x="129.4" y="117.6" width="14.4" height="14.4" fill="#ddb7ac"/>
<rect x="143.7" y="117.6" width="14.4" height="14.4" fill="#dbb2a5"/>
<rect x="158.1" y="117.6" width="14.4" height="14.4" fill="#daad9f"/>
<rect x="172.4" y="117.6" width="14.4" height="14.4" fill="#d9aa9c"/>
<rect x="186.7" y="117.6" width="14.4" height="14.4" fill="#d9ab9c"/>
<rect x="201" y="117.6" width="14.4" height="14.4" fill="#d9ab9c"/>
<rect x="215.4" y="117.6" width="14.4" height="14.4" fill="#d9ab9c"/>
<rect x="229.7" y="117.6" width="14.4" height="14.4" fill="#d8a99a"/>
<rect x="244" y="117.6" width="14.4" height="14.4" fill="#d6a392"/>
<rect x="258.4" y="117.6" width="14.4" height="14.4" fill="#d59e8d"/>
<rect x="272.7" y="117.6" width="14.4" height="14.4" fill="#d6a392"/>
<rect x="287" y="117.6" width="14.4" height="14.4" fill="#dbb2a6"/>
<rect x="301.3" y="117.6" width="14.4" height="14.4" fill="#e2c4bc"/>
<rect x="731.2" y="117.6" width="14.4" height="14.4" fill="#f0eceb"/>
<rect x="86.4" y="103.3" width="14.4" height="14.4" fill="#eadad5"/>
<rect x="100.7" y="103.3" width="14.4" height="14.4" fill="#e5cec7"/>
<rect x="115.1" y="103.3" width="14.4" height="14.4" fill="#e1c3ba"/>
<rect x="129.4" y="103.3" width="14.4" height="14.4" fill="#ddb8ad"/>
<rect x="143.7" y="103.3" width="14.4" height="14.4" fill="#daada0"/>
<rect x="158.1" y="103.3" width="14.4" height="14.4" fill="#d9aa9c"/>
<rect x="172.4" y="103.3" width="14.4" height="14.4" fill="#d9ab9d"/>
<rect x="186.7" y="103.3" width="14.4" height="14.4" fill="#d9aa9c"/>
<rect x="201" y="103.3" width="14.4" height="14.4" fill="#d8a899"/>
<rect x="215.4" y="103.3" width="14.4" height="14.4" fill="#d8a99b"/>
<rect x="229.7" y="103.3" width="14.4" height="14.4" fill="#d8a798"/>
<rect x="244" y="103.3" width="14.4" height="14.4" fill="#d7a494"/>
<rect x="258.4" y="103.3" width="14.4" height="14.4" fill="#d6a291"/>
<rect x="272.7" y="103.3" width="14.4" height="14.4" fill="#d8a99a"/>
<rect x="287" y="103.3" width="14.4" height="14.4" fill="#dfbdb3"/>
<rect x="301.3" y="103.3" width="14.4" height="14.4" fill="#e4ccc5"/>
<rect x="731.2" y="103.3" width="14.4" height="14.4" fill="#f1eceb"/>
<rect x="86.4" y="89" width="14.4" height="14.4" fill="#e8d6d0"/>
<rect x="100.7" y="89" width="14.4" height="14.4" fill="#e4ccc4"/>
<rect x="115.1" y="89" width="14.4" height="14.4" fill="#dfbeb5"/>
<rect x="129.4" y="89" width="14.4" height="14.4" fill="#dcb4a8"/>
<rect x="143.7" y="89" width="14.4" height="14.4" fill="#daaea1"/>
<rect x="158.1" y="89" width="14.4" height="14.4" fill="#d9ab9d"/>
<rect x="172.4" y="89" width="14.4" height="14.4" fill="#d9ab9d"/>
<rect x="186.7" y="89" width="14.4" height="14.4" fill="#d8a797"/>
<rect x="201" y="89" width="14.4" height="14.4" fill="#d7a595"/>
<rect x="215.4" y="89" width="14.4" height="14.4" fill="#d7a596"/>
<rect x="229.7" y="89" width="14.4" height="14.4" fill="#d6a291"/>
<rect x="244" y="89" width="14.4" height="14.4" fill="#d6a292"/>
<rect x="258.4" y="89" width="14.4" height="14.4" fill="#d6a291"/>
<rect x="272.7" y="89" width="14.4" height="14.4" fill="#d9ab9d"/>
<rect x="287" y="89" width="14.4" height="14.4" fill="#dfbdb4"/>
<rect x="301.3" y="89" width="14.4" height="14.4" fill="#e3c9c1"/>
<rect x="731.2" y="89" width="14.4" height="14.4" fill="#efebea"/>
<rect x="86.4" y="74.6" width="14.4" height="14.4" fill="#e6d0c9"/>
<rect x="100.7" y="74.6" width="14.4" height="14.4" fill="#e4cbc4"/>
<rect x="115.1" y="74.6" width="14.4" height="14.4" fill="#e0c1b8"/>
<rect x="129.4" y="74.6" width="14.4" height="14.4" fill="#ddb6ab"/>
<rect x="143.7" y="74.6" width="14.4" height="14.4" fill="#dbb0a3"/>
<rect x="158.1" y="74.6" width="14.4" height="14.4" fill="#daad9f"/>
<rect x="172.4" y="74.6" width="14.4" height="14.4" fill="#d9ab9d"/>
<rect x="186.7" y="74.6" width="14.4" height="14.4" fill="#d6a494"/>
<rect x="201" y="74.6" width="14.4" height="14.4" fill="#d6a191"/>
<rect x="215.4" y="74.6" width="14.4" height="14.4" fill="#d6a190"/>
<rect x="229.7" y="74.6" width="14.4" height="14.4" fill="#d59f8d"/>
<rect x="244" y="74.6" width="14.4" height="14.4" fill="#d49c8a"/>
<rect x="258.4" y="74.6" width="14.4" height="14.4" fill="#d59e8d"/>
<rect x="272.7" y="74.6" width="14.4" height="14.4" fill="#d9aa9b"/>
<rect x="287" y="74.6" width="14.4" height="14.4" fill="#dfbcb2"/>
<rect x="731.2" y="74.6" width="14.4" height="14.4" fill="#edeae9"/>
<rect x="86.4" y="60.3" width="14.4" height="14.4" fill="#e7d3cd"/>
<rect x="100.7" y="60.3" width="14.4" height="14.4" fill="#e4cbc3"/>
<rect x="115.1" y="60.3" width="14.4" height="14.4" fill="#e1c3ba"/>
<rect x="129.4" y="60.3" width="14.4" height="14.4" fill="#dfbcb2"/>
<rect x="143.7" y="60.3" width="14.4" height="14.4" fill="#ddb6aa"/>
<rect x="158.1" y="60.3" width="14.4" height="14.4" fill="#daafa2"/>
<rect x="172.4" y="60.3" width="14.4" height="14.4" fill="#d9ab9d"/>
<rect x="186.7" y="60.3" width="14.4" height="14.4" fill="#d8a798"/>
<rect x="201" y="60.3" width="14.4" height="14.4" fill="#d6a392"/>
<rect x="215.4" y="60.3" width="14.4" height="14.4" fill="#d5a190"/>
<rect x="229.7" y="60.3" width="14.4" height="14.4" fill="#d49c8a"/>
<rect x="244" y="60.3" width="14.4" height="14.4" fill="#d29884"/>
<rect x="258.4" y="60.3" width="14.4" height="14.4" fill="#d29885"/>
<rect x="272.7" y="60.3" width="14.4" height="14.4" fill="#d9aa9c"/>
<rect x="287" y="60.3" width="14.4" height="14.4" fill="#e0c1b8"/>
<rect x="731.2" y="60.3" width="14.4" height="14.4" fill="#f0ebeb"/>
<rect x="86.4" y="46" width="14.4" height="14.4" fill="#e7d3cc"/>
<rect x="100.7" y="46" width="14.4" height="14.4" fill="#e4ccc5"/>
<rect x="115.1" y="46" width="14.4" height="14.4" fill="#e2c5bd"/>
<rect x="129.4" y="46" width="14.4" height="14.4" fill="#e0c1b8"/>
<rect x="143.7" y="46" width="14.4" height="14.4" fill="#debab0"/>
<rect x="158.1" y="46" width="14.4" height="14.4" fill="#dbb2a5"/>
<rect x="172.4" y="46" width="14.4" height="14.4" fill="#d9ac9e"/>
<rect x="186.7" y="46" width="14.4" height="14.4" fill="#d8a99a"/>
<rect x="201" y="46" width="14.4" height="14.4" fill="#d7a596"/>
<rect x="215.4" y="46" width="14.4" height="14.4" fill="#d6a392"/>
<rect x="229.7" y="46" width="14.4" height="14.4" fill="#d49c8a"/>
<rect x="244" y="46" width="14.4" height="14.4" fill="#d19480"/>
<rect x="258.4" y="46" width="14.4" height="14.4" fill="#d0927d"/>
<rect x="272.7" y="46" width="14.4" height="14.4" fill="#daaea0"/>
<rect x="287" y="46" width="14.4" height="14.4" fill="#e3c9c1"/>
<rect x="731.2" y="46" width="14.4" height="14.4" fill="#f1eceb"/>
<rect x="86.4" y="31.6" width="14.4" height="14.4" fill="#e7d2cc"/>
<rect x="100.7" y="31.6" width="14.4" height="14.4" fill="#e4ccc5"/>
<rect x="115.1" y="31.6" width="14.4" height="14.4" fill="#e3c7bf"/>
<rect x="129.4" y="31.6" width="14.4" height="14.4" fill="#e1c2b9"/>
<rect x="143.7" y="31.6" width="14.4" height="14.4" fill="#dfbcb3"/>
<rect x="158.1" y="31.6" width="14.4" height="14.4" fill="#ddb8ad"/>
<rect x="172.4" y="31.6" width="14.4" height="14.4" fill="#dcb4a8"/>
<rect x="186.7" y="31.6" width="14.4" height="14.4" fill="#dbb0a3"/>
<rect x="201" y="31.6" width="14.4" height="14.4" fill="#daaea0"/>
<rect x="215.4" y="31.6" width="14.4" height="14.4" fill="#d9aa9b"/>
<rect x="229.7" y="31.6" width="14.4" height="14.4" fill="#d6a190"/>
<rect x="244" y="31.6" width="14.4" height="14.4" fill="#d39985"/>
<rect x="258.4" y="31.6" width="14.4" height="14.4" fill="#d29885"/>
<rect x="272.7" y="31.6" width="14.4" height="14.4" fill="#d9aa9c"/>
<rect x="287" y="31.6" width="14.4" height="14.4" fill="#e1c4bb"/>
<rect x="301.3" y="31.6" width="14.4" height="14.4" fill="#e7d3cd"/>
<rect x="731.2" y="31.6" width="14.4" height="14.4" fill="#f0ebeb"/>
<rect x="86.4" y="17.3" width="14.4" height="14.4" fill="#e7d2cc"/>
<rect x="100.7" y="17.3" width="14.4" height="14.4" fill="#e5cec7"/>
<rect x="115.1" y="17.3" width="14.4" height="14.4" fill="#e4cac2"/>
<rect x="129.4" y="17.3" width="14.4" height="14.4" fill="#e1c3bb"/>
<rect x="143.7" y="17.3" width="14.4" height="14.4" fill="#e0c1b8"/>
<rect x="158.1" y="17.3" width="14.4" height="14.4" fill="#e0bfb6"/>
<rect x="172.4" y="17.3" width="14.4" height="14.4" fill="#dfbdb4"/>
<rect x="186.7" y="17.3" width="14.4" height="14.4" fill="#debaaf"/>
<rect x="201" y="17.3" width="14.4" height="14.4" fill="#ddb7ac"/>
<rect x="215.4" y="17.3" width="14.4" height="14.4" fill="#dcb4a8"/>
<rect x="229.7" y="17.3" width="14.4" height="14.4" fill="#d9ab9d"/>
<rect x="244" y="17.3" width="14.4" height="14.4" fill="#d7a697"/>
<rect x="258.4" y="17.3" width="14.4" height="14.4" fill="#d59f8e"/>
<rect x="272.7" y="17.3" width="14.4" height="14.4" fill="#d6a292"/>
<rect x="287" y="17.3" width="14.4" height="14.4" fill="#debbb1"/>
<rect x="301.3" y="17.3" width="14.4" height="14.4" fill="#e6d0c9"/>
<rect x="731.2" y="17.3" width="14.4" height="14.4" fill="#f1ebea"/>
<rect x="86.4" y="3" width="14.4" height="14.4" fill="#e7d2cc"/>
<rect x="100.7" y="3" width="14.4" height="14.4" fill="#e6d0c9"/>
<rect x="115.1" y="3" width="14.4" height="14.4" fill="#e3c9c2"/>
<rect x="129.4" y="3" width="14.4" height="14.4" fill="#e2c5bd"/>
<rect x="143.7" y="3" width="14.4" height="14.4" fill="#e1c4bb"/>
<rect x="158.1" y="3" width="14.4" height="14.4" fill="#e1c2ba"/>
<rect x="172.4" y="3" width="14.4" height="14.4" fill="#e1c2ba"/>
<rect x="186.7" y="3" width="14.4" height="14.4" fill="#e0c1b8"/>
<rect x="201" y="3" width="14.4" height="14.4" fill="#e0c0b7"/>
<rect x="215.4" y="3" width="14.4" height="14.4" fill="#dfbdb4"/>
<rect x="229.7" y="3" width="14.4" height="14.4" fill="#dcb5a9"/>
<rect x="244" y="3" width="14.4" height="14.4" fill="#daad9f"/>
<rect x="258.4" y="3" width="14.4" height="14.4" fill="#d59f8e"/>
<rect x="272.7" y="3" width="14.4" height="14.4" fill="#d29683"/>
<rect x="287" y="3" width="14.4" height="14.4" fill="#d7a697"/>
<rect x="301.3" y="3" width="14.4" height="14.4" fill="#e0c0b7"/>
<rect x="731.2" y="3" width="14.4" height="14.4" fill="#f1eceb"/>
<rect x="86.4" y="-11.3" width="14.4" height="14.4" fill="#e6d1ca"/>
<rect x="100.7" y="-11.3" width="14.4" height="14.4" fill="#e5cec7"/>
<rect x="115.1" y="-11.3" width="14.4" height="14.4" fill="#e3c9c2"/>
<rect x="129.4" y="-11.3" width="14.4" height="14.4" fill="#e3c8c1"/>
<rect x="143.7" y="-11.3" width="14.4" height="14.4" fill="#e3c8c0"/>
<rect x="158.1" y="-11.3" width="14.4" height="14.4" fill="#e2c7be"/>
<rect x="172.4" y="-11.3" width="14.4" height="14.4" fill="#e2c6be"/>
<rect x="186.7" y="-11.3" width="14.4" height="14.4" fill="#e2c6be"/>
<rect x="201" y="-11.3" width="14.4" height="14.4" fill="#e2c5bc"/>
<rect x="215.4" y="-11.3" width="14.4" height="14.4" fill="#e1c2b9"/>
<rect x="229.7" y="-11.3" width="14.4" height="14.4" fill="#dfbdb3"/>
<rect x="244" y="-11.3" width="14.4" height="14.4" fill="#dbb1a5"/>
<rect x="258.4" y="-11.3" width="14.4" height="14.4" fill="#d6a190"/>
<rect x="272.7" y="-11.3" width="14.4" height="14.4" fill="#d29784"/>
<rect x="287" y="-11.3" width="14.4" height="14.4" fill="#d5a08f"/>
<rect x="301.3" y="-11.3" width="14.4" height="14.4" fill="#dbb2a6"/>
<rect x="315.7" y="-11.3" width="14.4" height="14.4" fill="#e1c2b9"/>
<rect x="330" y="-11.3" width="14.4" height="14.4" fill="#e6cfc8"/>
<rect x="344.3" y="-11.3" width="14.4" height="14.4" fill="#e8d5cf"/>
<rect x="358.7" y="-11.3" width="14.4" height="14.4" fill="#e9d8d2"/>
<rect x="373" y="-11.3" width="14.4" height="14.4" fill="#eadad5"/>
<rect x="387.3" y="-11.3" width="14.4" height="14.4" fill="#eadbd5"/>
<rect x="401.7" y="-11.3" width="14.4" height="14.4" fill="#eadcd7"/>
<rect x="416" y="-11.3" width="14.4" height="14.4" fill="#eadcd7"/>
<rect x="430.3" y="-11.3" width="14.4" height="14.4" fill="#ecdfdb"/>
<rect x="444.7" y="-11.3" width="14.4" height="14.4" fill="#ecdfdb"/>
<rect x="459" y="-11.3" width="14.4" height="14.4" fill="#ece0dc"/>
<rect x="473.3" y="-11.3" width="14.4" height="14.4" fill="#ece1dd"/>
<rect x="487.6" y="-11.3" width="14.4" height="14.4" fill="#ecdfdb"/>
<rect x="502" y="-11.3" width="14.4" height="14.4" fill="#ece1dd"/>
<rect x="516.3" y="-11.3" width="14.4" height="14.4" fill="#ede2de"/>
<rect x="530.6" y="-11.3" width="14.4" height="14.4" fill="#ede3e0"/>
<rect x="545" y="-11.3" width="14.4" height="14.4" fill="#ede2df"/>
<rect x="559.3" y="-11.3" width="14.4" height="14.4" fill="#ede3e0"/>
<rect x="573.6" y="-11.3" width="14.4" height="14.4" fill="#efe7e4"/>
<rect x="588" y="-11.3" width="14.4" height="14.4" fill="#f0e9e8"/>
<rect x="602.3" y="-11.3" width="14.4" height="14.4" fill="#efe7e4"/>
<rect x="616.6" y="-11.3" width="14.4" height="14.4" fill="#eee6e3"/>
<rect x="630.9" y="-11.3" width="14.4" height="14.4" fill="#efe7e5"/>
<rect x="645.3" y="-11.3" width="14.4" height="14.4" fill="#efe7e5"/>
<rect x="659.6" y="-11.3" width="14.4" height="14.4" fill="#efe8e6"/>
<rect x="673.9" y="-11.3" width="14.4" height="14.4" fill="#f0eae8"/>
<rect x="688.3" y="-11.3" width="14.4" height="14.4" fill="#f1eceb"/>
<rect x="702.6" y="-11.3" width="14.4" height="14.4" fill="#f0ebe9"/>
<rect x="716.9" y="-11.3" width="14.4" height="14.4" fill="#f0ebe9"/>
<rect x="731.2" y="-11.3" width="14.4" height="14.4" fill="#f0eceb"/>
<rect x="646.5" y="590.1" width="13.5" height="13.4" fill="#fff"/>
<rect x="444.6" y="404" width="4.5" height="12.5" fill="#fff"/>
<rect x="301.6" y="17" width="7" height="10" fill="#e9e6e8"/>
<rect x="287.5" y="46" width="8" height="9" fill="#e9e6e8"/>
</g>
<polyline class="c" points="247.4,2.4 238.4,7.6 228.4,11.4 216.4,14.4 200.3,15.2 186.3,16.4 174.2,20 162.2,26 150.2,34 140.2,43.1 131.1,53.1 125.1,64.2 121.1,76.2 119.5,88.2 121.1,100.3 123.1,112.3 124.5,124.3 124.5,132.3 123.1,144 118.1,156 114.1,172.1 118.1,182.1 126.1,193.1 138.2,203.2 150.2,209.2 162.2,212.6 173.2,213.8 180.3,212.2 188.3,211.6 198.3,214.2 208.3,219.2 216.4,225.2 222.4,232.2 225.4,240.3 227.4,246.3 229.4,249.3"/>
<polyline class="c" points="229.5,283.5 223.4,288 220.4,300 215.4,318.1 200.3,331.1 186.3,340.5 172.2,346.2 160.2,358.2 147.2,374.6 150.2,386.3 157.2,396.3 170.2,404.3 186.3,408.3 202.3,409.3 216.4,409.7 230.4,417.3 240.4,432 250.4,446 252.4,460.1 257.5,475.1 258.5,484.1 266.5,475.1 272.9,474.5 287.5,490.2 294.2,504.2 289.5,518.2 290.1,532.3 302.6,544.3 320.6,560.3 330.7,576 340.7,589 356.7,605.1 370.8,615.1 380,620.1 400,631 420,642 440,652.3 460.1,658.3 480.1,664.3 500.2,671.3 517.2,676.4"/>
<polyline class="c" points="89,327 91.5,335 90,342"/>
<polyline class="c" points="90,383 88.6,420 88,462.1"/>
<polyline class="c" points="88,462.1 92,486.1 98,502.2 102.1,532.3 108.1,556.3 113.1,575 123.1,590"/>
<polyline class="c" points="137.1,605.1 146.2,610.1 164.2,614.1 184.3,616.1 200.3,617.1 216.4,615.1 232.4,614.7 250.4,617.1 272.5,623.1 280.5,635.2 286.5,649.2 294.6,661.6 280.5,669.2 263.5,676.3"/>
<polyline class="c" points="301.6,13 292.6,30 283.5,49"/>
<polyline class="c" points="289.5,97.3 294.6,106.3 298.6,124.3 302.6,136.4"/>
<polyline class="c" points="279.2,180.3 270.9,188.2 269.5,202.9 272.9,215.4 277.8,202.2 287.8,191.7 288.2,183.4"/>
<polyline class="c" points="282.7,214.7 286.4,212.9 297.3,232.1 287.3,236.2 278.5,225.8 281.3,218.2"/>
<polyline class="c" points="309.6,288 308.6,264.3 306.6,247.3 315.6,236.2 324.6,246.3 319.6,260.3 317.6,280 319,288 328,295 338,297"/>
<polyline class="c" points="297.6,201.1 300.6,208.2"/>
<polyline class="c" points="309.3,288 312.3,306 320,328.1 329.5,350.2 339.5,372.2 348.5,394.3 358,414.3 369.2,432 380,443.1 392,454.1 408.1,472.1 420.1,488.2 425.1,502.2 421.1,518.3 430.1,531.3 444.5,537.8 450,551.1"/>
<polyline class="c" points="348.3,304.2 361.7,318.4 365.9,345.1 380.1,366"/>
<polyline class="c" points="391.8,382.7 406.8,393.5 423.5,403.5 432.5,412.5 439.4,404.8"/>
<polyline class="c" points="377.6,337.6 379.2,345.1 388.4,360.1 401.8,375.1 411.8,388.5 422.6,396"/>
<polyline class="c" points="433.7,435.9 435.9,445 445,459.2 451.7,473.4"/>
<polyline class="c" points="467.6,486.8 476.8,490.1 486.8,493.5 493.5,505.1 501.8,513.5"/>
<polyline class="c" points="466.2,468.1 468.2,475.1 473.2,479.2 477.9,479.8"/>
<polyline class="c" points="456.7,572.3 461.2,586.7 467.8,602.3 486.7,615.7 509,629 531.2,643.5 549,651.3 571.3,653.5 586.9,653 594.6,645.7 595.8,633.5 591.3,621.2 584.6,613.4 575.7,610.1 562.4,606.8 555.7,596.8 551.3,590.7 561.3,575.6 553.5,572.3"/>
<polyline class="c" points="569.1,561.5 573.5,559.2 588.1,560.7 587.2,562.7 574.5,563.1 569.1,561.5"/>
<polyline class="c" points="527.9,561.2 535.7,553.4 549,548.9 563.5,547.8"/>
<polyline class="c" points="613.5,576.1 616.1,594.1"/>
<polyline class="c" points="640.6,639.5 641.5,661.2 635.2,675.7"/>
<text class="cl" x="94.6" y="316.7" font-size="22" transform="rotate(-90 94.6 316.7)" dy="8">0</text>
<text class="cl" x="91.6" y="374.8" font-size="22" transform="rotate(-90 91.6 374.8)" dy="8">0</text>
<text class="cl" x="243.4" y="266.3" font-size="23.5" transform="rotate(-90 243.4 266.3)" dy="8.6">0.5</text>
<text class="cl" x="287" y="72.5" font-size="23.5" transform="rotate(80 287 72.5)" dy="8.6">0.5</text>
<text class="cl" x="132.1" y="596.7" font-size="23.5" transform="rotate(47 132.1 596.7)" dy="8.6">0</text>
<text class="cl" x="286.4" y="171.6" font-size="23.5" transform="rotate(12 286.4 171.6)" dy="8.6">1</text>
<text class="cl" x="272.3" y="218.2" font-size="23.5" transform="rotate(-65 272.3 218.2)" dy="8.6">1</text>
<text class="cl" x="388.1" y="374" font-size="23.5" transform="rotate(55 388.1 374)" dy="8.6">1</text>
<text class="cl" x="461.4" y="477.6" font-size="23.5" transform="rotate(30 461.4 477.6)" dy="8.6">1</text>
<text class="cl" x="460" y="559.4" font-size="23.5" transform="rotate(65 460 559.4)" dy="8.6">1</text>
<text class="cl" x="628" y="616" font-size="24.5" transform="rotate(47 628 616)" dy="8.9" letter-spacing="3.5">0.5</text>
<text class="cl" x="716.5" y="672" font-size="23.5" transform="rotate(68 716.5 672)" dy="8.6">0.5</text>
<polygon points="313.2,2 310.6,10 307.6,20 305.6,28 301.6,32 299.6,37 297.6,46 294.6,54 290.5,60 292.5,66 297.6,72 300.6,78 298.6,86 299.6,94 302.6,102 308.6,109 310.6,114 307.6,121 312.6,125 315.6,132 318,144 317.5,150 313.3,158.3 315.4,165.3 313.3,170.9 308.4,179.2 303.5,186.9 299.4,194.5 298.7,200.8 301.5,209.8 309.8,214.7 318.2,222.3 325.8,230.7 332.1,239 334.8,250 334.7,260.3 338.7,272.3 340,286 343.3,290 353.4,300 365,309.2 373.4,315 375.9,321.7 380.1,323.4 381.7,330.1 377.6,338.4 383.4,339.2 390.1,340.1 398.4,346.8 407.6,350.9 406.4,356.8 407.6,365.1 411.8,371.8 413.5,380.2 419.3,390.2 428.5,396.8 438.5,399.3 444.3,401 447.7,406.9 445.4,416.3 438.5,420 441.7,431.7 448.4,440.9 455.9,445 461.7,452.6 466.7,457.6 470.1,462.6 477.6,471.8 486.8,478.4 495.1,485.9 501,488.4 501.8,498.5 506.8,502.6 512.7,503.5 514.3,508.5 512.7,516.8 516,523.5 515.4,533.5 520.2,539 524.6,541.6 540.1,543.4 553.5,544.9 571.3,546.7 584.6,548.9 595.6,557.5 608.1,562.7 618.9,568.1 631.6,567.2 638.8,570.8 644.2,578.1 642.4,582.6 649.6,586.2 657.8,583.5 662.3,587.1 671.3,592.5 682.2,599.8 691.2,606.1 700.2,614.2 705.7,621.4 709.3,632.3 707.5,637.7 710.2,644 714.7,648.6 716.5,655.8 720.1,661.2 723.7,668.4 728.3,672.1 731,680.2 731.6,683.1 740,690 740,-5 313.2,-5" fill="#808080" stroke="#0a0a0a" stroke-width="1.25" stroke-linejoin="round"/>
<path d="M410.4,335.4 L411.7,332.9 L415.4,331.3 L419.6,332.5 L421.7,335 L420,337.1 L416.3,337.5 L414.6,340 L412.1,338.8 L410.4,337.1 Z" fill="#fff" stroke="#111" stroke-width="0.7" stroke-linejoin="round"/>
<path d="M411.3,347.9 L413.8,345.4 L418.4,345.9 L418.8,348.4 L416.7,350 L412.9,349.2 Z" fill="#f3d6cf" stroke="#111" stroke-width="0.6" stroke-linejoin="round"/>
<path d="M411.2,341.5 L413,344.8 M416.5,350 L418,353" fill="none" stroke="#111" stroke-width="1"/>
<path d="M417.5,352.9 L420,353.4 L423.4,355.9 L427.1,358.4 L428.4,362.5 L429.6,366.3 L433,369.2 L428.4,365.9 L424.2,363 L419.2,361.3 L416.7,358.4 L416.9,355 Z" fill="#fff" stroke="#111" stroke-width="0.7" stroke-linejoin="round"/>
<path d="M432.1,335.4 L435.9,332.1 L436.7,334.6 Z" fill="#222" stroke="#222" stroke-width="0.4"/>
<path d="M440.2,335.3 L440.9,335.5 M445.5,335.8 L449.2,337.1 M460.2,336.4 L460.9,336.6" stroke="#111" stroke-width="0.9" fill="none"/>
<path d="M525.4,566.5 L527.8,564.1 L531.2,563.1 L534.6,565.1 L535.6,567.5 L532.7,569 L528.3,569 L525.8,568 Z" fill="#808080" stroke="#1a1a1a" stroke-width="1.1" stroke-linejoin="round"/>
<path d="M537,568 L540.9,566.5 L545.3,566.1 L549.2,565.1 L551.1,567.5 L554.1,569 L555,571.9 L551.1,573.8 L545.8,575.8 L542.4,573.8 L539.5,570.9 Z" fill="#808080" stroke="#1a1a1a" stroke-width="1.1" stroke-linejoin="round"/>
<path d="M555,564.6 L557.5,562.8 L561.8,563.6 L566.7,564.6 L572.6,565.6 L576.4,564.1 L579.9,565.1 L580.8,567.5 L577.4,569.9 L572.6,570.4 L566.7,572.4 L560.9,570.9 L557.5,568.5 L555.5,566.5 Z" fill="#808080" stroke="#1a1a1a" stroke-width="1.1" stroke-linejoin="round"/>
<path d="M575,610.8 L577.4,608.4 L581.3,608.9 L585.2,610.8 L585.7,613.3 L582.3,614.7 L577.9,614.2 L575.5,612.8 Z" fill="#808080" stroke="#1a1a1a" stroke-width="1.1" stroke-linejoin="round"/>
<path d="M631.2,599.1 L633.6,597.2 L637,597.7 L640.9,599.6 L644.8,601.1 L648.2,604 L650.7,606.9 L650.2,609.3 L647.3,610.3 L643.4,608.8 L640,608.4 L638,605.4 L637,603 L633.6,601.5 Z" fill="#808080" stroke="#1a1a1a" stroke-width="1.1" stroke-linejoin="round"/>
<path d="M630.7,623.9 L632.7,622.5 L635.6,624.9 L639.5,628.8 L644.3,632.7 L648.2,636.1 L646.8,638 L642.9,638 L639.5,636.1 L637,632.7 L634.6,628.8 L631.7,626.4 Z" fill="#808080" stroke="#1a1a1a" stroke-width="1.1" stroke-linejoin="round"/>
<polyline points="187.7,2.4 187.7,14 182.3,15 182.3,25.7 176.3,27 176.3,43.1 170.2,44.5 170.2,54.5 164.6,56.5 164.6,65.2 170.2,67.2 170.2,94.2 175.9,96.6 175.9,105.3 181.5,107.7 181.5,123.9 187.3,125.9 187.3,134.3 192.9,136.7 192.9,151 187.3,153 187.3,174.1 181.7,176.1 181.7,186.1 175.9,188.1 175.9,209.2 181.5,212.2 181.5,215.2 184.3,216.2 184.3,219.2 187.3,220.6 189.9,222.2 189.9,224.2 192.9,225.8 192.9,228.2 195.7,229.8 195.7,232.2 198.7,233.2 201.3,235.2 204.3,236.6 204.3,242.3 207.3,243.7 210.3,245.3 210.3,254.3 204.3,257.3 204.3,260.3 210.3,262.7 210.3,289.6 221.4,291 223.4,296 228.4,298 229.4,302 234.4,304 235.4,308 239.4,309 240.4,313 250.4,314.5 251.4,325.1 256.5,326.1 256.5,336.1 250.4,337.1 250.4,341.1 267.5,343.1 268.5,346.6 278.5,348.2 279.5,369.2 284.5,370.6 284.9,386.3 295.6,388.3 296.6,391.9 301.6,393.9 302.2,397.9 319,400.3 319,415.3 313.6,416.7 313.6,432.5 318.6,435 319.6,439 324.6,440.4 325.6,444.4 330.7,446 331.1,450 336.3,451.7 336.7,455.7 341.7,457.1 342.3,461.1 347.7,463.1 348.3,473.1 358.7,475.1 359.7,479.1 364.7,481.1 365.7,484.5 376.4,486.5 376.8,502.2 388,502.6 388.4,536.3 393.6,538.3 394,541.3 450.2,542.7 451.2,546.7 462.2,549.3 463.2,552.3 468.2,553.9 469.2,557.4 474.1,560.1 474.5,565.1 514.2,566.1 514.6,582.1 536.3,583.1 537.3,587.1 542.3,589.1 543.3,593.1 553.3,594.5 554.3,598.6 559.3,600.2 560.3,604.2 570.3,606.2 571.3,610.2 576.4,611.8 577.4,622.2 582.4,623.2 582.8,644.3 588.4,646.3 588.8,658.3 594.4,660.3 594.8,665.3 600,666.7 600.4,671.3 605.4,673.3 606,682.8" fill="none" stroke="#008000" stroke-width="3" stroke-linejoin="miter"/>
</g>
<rect x="86.9" y="2" width="644.7" height="681.5" fill="none" stroke="#000" stroke-width="1.1"/>
<line x1="93.6" y1="683.5" x2="93.6" y2="688.9" stroke="#000" stroke-width="1.1"/>
<text class="m" x="93.6" y="718.2" text-anchor="middle">128°W</text>
<line x1="380.2" y1="683.5" x2="380.2" y2="688.9" stroke="#000" stroke-width="1.1"/>
<text class="m" x="380.2" y="718.2" text-anchor="middle">123°W</text>
<line x1="666.8" y1="683.5" x2="666.8" y2="688.9" stroke="#000" stroke-width="1.1"/>
<text class="m" x="666.8" y="718.2" text-anchor="middle">118°W</text>
<line x1="81.5" y1="224.2" x2="86.9" y2="224.2" stroke="#000" stroke-width="1.1"/>
<text class="m" x="75.6" y="236.2" text-anchor="end">40°N</text>
<line x1="81.5" y1="453.5" x2="86.9" y2="453.5" stroke="#000" stroke-width="1.1"/>
<text class="m" x="75.6" y="465.5" text-anchor="end">36°N</text>
<line x1="81.5" y1="683.5" x2="86.9" y2="683.5" stroke="#000" stroke-width="1.1"/>
<text class="m" x="75.6" y="695.5" text-anchor="end">32°N</text>
<text class="t" x="393.8" y="26.6" font-size="29.4" text-anchor="middle">(a)</text>
<rect x="486" y="88.8" width="9.5" height="321.8" fill="url(#cb)"/>
<polygon points="486,89.1 490.8,72.8 495.5,89.1" fill="rgb(60,9,18)"/>
<polygon points="486,410.3 490.8,426.4 495.5,410.3" fill="rgb(24,28,67)"/>
<polygon points="486,88.8 490.8,72.8 495.5,88.8 495.5,410.6 490.8,426.4 486,410.6" fill="none" stroke="#111" stroke-width="0.7"/>
<line x1="495.5" y1="88.8" x2="500.3" y2="88.8" stroke="#000" stroke-width="1"/>
<text x="506.6" y="101" font-size="31.4">3</text>
<line x1="495.5" y1="142.4" x2="500.3" y2="142.4" stroke="#000" stroke-width="1"/>
<text x="506.6" y="154.6" font-size="31.4">2</text>
<line x1="495.5" y1="196.1" x2="500.3" y2="196.1" stroke="#000" stroke-width="1"/>
<text x="506.6" y="208.3" font-size="31.4">1</text>
<line x1="495.5" y1="249.7" x2="500.3" y2="249.7" stroke="#000" stroke-width="1"/>
<text x="506.6" y="261.9" font-size="31.4">0</text>
<line x1="495.5" y1="303.3" x2="500.3" y2="303.3" stroke="#000" stroke-width="1"/>
<text x="506.6" y="315.5" font-size="31.4">−1</text>
<line x1="495.5" y1="357" x2="500.3" y2="357" stroke="#000" stroke-width="1"/>
<text x="506.6" y="369.2" font-size="31.4">−2</text>
<line x1="495.5" y1="410.6" x2="500.3" y2="410.6" stroke="#000" stroke-width="1"/>
<text x="506.6" y="422.8" font-size="31.4">−3</text>
<text x="581" y="249.3" font-size="31.4" text-anchor="middle" transform="rotate(-90 581 249.3)">Δ Temp.(°C)</text>
<g clip-path="url(#pc)" fill="none" stroke-linejoin="round">
<polyline stroke="#000" stroke-width="1.8" points="838,385.2 838.2,389 838.5,394 838.7,399.1 838.9,394 839.2,389 839.4,370.8 839.6,369.8 839.8,366.2 840.1,363.7 840.3,362.9 840.5,363.5 840.8,359.1 841,356.1 841.2,358.2 841.5,358.2 841.7,349.4 841.9,344.8 842.1,342.7 842.4,340.7 842.6,338.8 842.8,337 843.1,341.6 843.3,351.1 843.5,351.2 843.8,335.4 844,330.5 844.2,329.6 844.4,339.1 844.7,336.4 844.9,327.8 845.1,327.4 845.4,327.1 845.6,322 845.8,302.2 846.1,322 846.3,407.6 846.5,397.9 846.7,355.5 847,357.2 847.2,362 847.4,361.9 847.7,364.7 847.9,379.7 848.1,390.2 848.4,390.4 848.6,396.6 848.8,404 849,413.8 849.3,420 849.5,416.5 849.7,399.6 850,397.8 850.2,405.5 850.4,416 850.7,405.6 850.9,408.5 851.1,414.4 851.3,412.8 851.6,358.6 851.8,349.9 852,358.6 852.3,367 852.5,375.9 852.7,380.1 853,396.1 853.2,409.8 853.4,402.3 853.6,380.7 853.9,371.1 854.1,367.6 854.3,360.6 854.6,368.5 854.8,392.1 855,410.7 855.3,410.3 855.5,425.4 855.7,441 855.9,425.4 856.2,410.3 856.4,399.9 856.6,390.7 856.9,387.8 857.1,380.2 857.3,364.9 857.6,352.8 857.8,340.3 858,352.8 858.2,364.9 858.5,390.1 858.7,385.2 858.9,383.4 859.2,386.4 859.4,391.9 859.6,390.5 859.9,379.7 860.1,365.9 860.3,351.6 860.5,332.9 860.8,328.1 861,335.9 861.2,355 861.5,378.6 861.7,386.2 861.9,401 862.2,414 862.4,427.6 862.6,414 862.8,401 863.1,364.4 863.3,371.6 863.5,366.7 863.8,355.2 864,353.5 864.2,353.9 864.5,352.4 864.7,356.7 864.9,367 865.1,379.4 865.4,380.8 865.6,370.1 865.8,355.9 866.1,338.9 866.3,324.9 866.5,410.2 866.8,426.3 867,410.2 867.2,394.7 867.4,351.9 867.7,361 867.9,370.6 868.1,376.1 868.4,371.3 868.6,372.9 868.8,394.6 869.1,403.8 869.3,385.9 869.5,364.3 869.7,351.9 870,350.3 870.2,352.5 870.4,324 870.7,302.8 870.9,280.7 871.1,302.8 871.4,321.1 871.6,343.1 871.8,356.5 872,358.6 872.3,350.3 872.5,340.4 872.7,377.3 873,389.7 873.2,402.6 873.4,389.7 873.7,335.3 873.9,329.9 874.1,342.1 874.3,353.6 874.6,343.6 874.8,336 875,345.5 875.3,345.4 875.5,327.6 875.7,315.2 876,312.4 876.2,314.3 876.4,325.8 876.6,334.7 876.9,333.1 877.1,332.7 877.3,336.4 877.6,336 877.8,329.3 878,329.3 878.3,371.5 878.5,378.8 878.7,371.5 878.9,364.5 879.2,352.3 879.4,346.1 879.6,346.4 879.9,349.4 880.1,347.1 880.3,346.5 880.6,354.7 880.8,363.9 881,361.6 881.2,346.6 881.5,329.9 881.7,329.5 881.9,346.2 882.2,356.2 882.4,355.1 882.6,358.2 882.9,365.6 883.1,369 883.3,365.6 883.5,361.3 883.8,358.3 884,355.7 884.2,363.6 884.5,377.6 884.7,383.8 884.9,378.8 885.2,381.1 885.4,323.7 885.6,308.4 885.8,292.5 886.1,308.4 886.3,323.7 886.5,355 886.8,333.3 887,326.6 887.2,342.4 887.5,354.1 887.7,352.2 887.9,341.9 888.1,326.6 888.4,317.1 888.6,315.2 888.8,311.3 889.1,313 889.3,326.1 889.5,333.7 889.8,327 890,313.8 890.2,309.7 890.4,310.3 890.7,312 890.9,319.1 891.1,401.7 891.4,419.5 891.6,401.7 891.8,384.5 892.1,356.9 892.3,356.2 892.5,355.9 892.7,346.9 893,341.2 893.2,351.8 893.4,366.6 893.7,369.8 893.9,367.9 894.1,370.5 894.4,369 894.6,337.3 894.8,330.3 895,319.3 895.3,318.1 895.5,316.9 895.7,318.2 896,389.2 896.2,403.3 896.4,389.2 896.7,317.2 896.9,330.2 897.1,332.8 897.3,327 897.6,325.6 897.8,332.1 898,340.3 898.3,339.3 898.5,328.2 898.7,319.9 899,322 899.2,326.8 899.4,325.8 899.6,318.3 899.9,316.3 900.1,320.5 900.3,334.7 900.6,360.1 900.8,369 901,359.8 901.3,350.2 901.5,332.5 901.7,317.3 901.9,369.3 902.2,381 902.4,369.3 902.6,358 902.9,339.3 903.1,356.9 903.3,372.1 903.6,375.4 903.8,376.2 904,373.7 904.2,356 904.5,337.6 904.7,342.5 904.9,369 905.2,382 905.4,380.3 905.6,371.4 905.9,303.6 906.1,279.8 906.3,255.2 906.5,279.8 906.8,303.6 907,383.9 907.2,383.2 907.5,372.7 907.7,366.1 907.9,378.8 908.2,387.6 908.4,387.9 908.6,378 908.8,371.4 909.1,365.1 909.3,370.6 909.5,378.6 909.8,372.1 910,363.8 910.2,359.1 910.5,349.7 910.7,339.5 910.9,342 911.1,354.9 911.4,351.7 911.6,343.3 911.8,417.3 912.1,441.2 912.3,466 912.5,441.2 912.8,417.3 913,375.9 913.2,381.5 913.4,402.8 913.7,415.4 913.9,400.3 914.1,379.2 914.4,370.7 914.6,368.8 914.8,366.4 915.1,377.5 915.3,397.9 915.5,414 915.7,433.9 916,444.7 916.2,444.1 916.4,443.2 916.7,442.1 916.9,429.5 917.1,419.8 917.4,430 917.6,420.9 917.8,434.7 918,428.2 918.3,398.9 918.5,382.4 918.7,385.5 919,393.7 919.2,378 919.4,367.9 919.7,357.4 919.9,367.9 920.1,378 920.3,412.1 920.6,424.3 920.8,443.1 921,447.7 921.3,442.2 921.5,413.2 921.7,390.2 922,377.1 922.2,366.1 922.4,434.9 922.6,450.9 922.9,434.9 923.1,419.4 923.3,363 923.6,364.6 923.8,383.6 924,410.9 924.3,423 924.5,403.1 924.7,374.9 924.9,365.7 925.2,372 925.4,375 925.6,374 925.9,378.1 926.1,391 926.3,412.3 926.6,424.4 926.8,416.7 927,401.4 927.2,392 927.5,383.4 927.7,372.3 927.9,359.5 928.2,408.8 928.4,355.9 928.6,395.5 928.9,384.2 929.1,385.7 929.3,361.2 929.5,348.9 929.8,336.1 930,348.9 930.2,361.2 930.5,383.1 930.7,385.3 930.9,374.3 931.2,359.6 931.4,363.7 931.6,377.8 931.8,376.9 932.1,374.4 932.3,390.1 932.5,403.3 932.8,397.1 933,377.6 933.2,365 933.5,375.4 933.7,395.8 933.9,400.8 934.1,392.1 934.4,376 934.6,359.3 934.8,352.1 935.1,401.6 935.3,422 935.5,443.2 935.8,422 936,401.6 936.2,355.3 936.4,348.9 936.7,351.7 936.9,353.5 937.1,345.5 937.4,338.6 937.6,331.4 937.8,338.6 938.1,345.4 938.3,359.4 938.5,362.9 938.7,352.6 939,345.9 939.2,343.7 939.4,352.7 939.7,358.9 939.9,365.4 940.1,364.8 940.4,356.6 940.6,348.8 940.8,342.8 941,341.5 941.3,347 941.5,350.7 941.7,347.9 942,336.4 942.2,326.5 942.4,330.3 942.7,339.9 942.9,339.5 943.1,326.8 943.3,314.6 943.6,312 943.8,314.4 944,308.3 944.3,308.3 944.5,326.2 944.7,333.4 945,283 945.2,265.7 945.4,247.8 945.6,265.7 945.9,283 946.1,318.5 946.3,319.7 946.6,324.6 946.8,324.2 947,317.7 947.3,303.9 947.5,295.7 947.7,312.5 947.9,341.1 948.2,348.2 948.4,346.8 948.6,340.4 948.9,349.1 949.1,351.1 949.3,351.9 949.6,278.2 949.8,261.2 950,243.6 950.2,261.2 950.5,345.9 950.7,347.1 950.9,325.5 951.2,313.4 951.4,320.7 951.6,317.5 951.9,299.6 952.1,296.9 952.3,304 952.5,303.8 952.8,290.5 953,274.4 953.2,269 953.5,286.8 953.7,314 953.9,316.5 954.2,293.2 954.4,268.1 954.6,262.3 954.8,274.8 955.1,364.4 955.3,382.8 955.5,364.4 955.8,285.3 956,294.5 956.2,315.9 956.5,337.2 956.7,336.7 956.9,311.2 957.1,288.8 957.4,281.7 957.6,279.4 957.8,280.2 958.1,285.2 958.3,294.5 958.5,292.5 958.8,279.2 959,292.5 959.2,305.3 959.4,304.4 959.7,303.8 959.9,311.5 960.1,320.4 960.4,324.7 960.6,317.2 960.8,305.3 961.1,298.7 961.3,293.7 961.5,291.9 961.7,289.4 962,290.8 962.2,307.5 962.4,365.3 962.7,382.9 962.9,401.2 963.1,382.9 963.4,365.3 963.6,321.7 963.8,326.9 964,327.7 964.3,328.8 964.5,337.4 964.7,343.7 965,342 965.2,325.5 965.4,318.4 965.7,311.1 965.9,318.4 966.1,350.2 966.3,350.6 966.6,342.1 966.8,332.9 967,335.9 967.3,346.2 967.5,346.7 967.7,334.5 968,330.3 968.2,349.7 968.4,370.9 968.6,368.6 968.9,346.6 969.1,331.1 969.3,328.4 969.6,312.4 969.8,292.6 970,288.4 970.3,283.9 970.5,285.8 970.7,307.1 970.9,328.6 971.2,336.8 971.4,350.9 971.6,370 971.9,366.5 972.1,339.1 972.3,310.8 972.6,297.8 972.8,283.5 973,258.8 973.2,233.2 973.5,258.8 973.7,283.5 973.9,331.9 974.2,336 974.4,351.4 974.6,362.7 974.9,363.1 975.1,351.9 975.3,364.3 975.5,379.8 975.8,364.3 976,349.4 976.2,320.2 976.5,327.3 976.7,313.3 976.9,294.5 977.2,288.3 977.4,283.4 977.6,270.6 977.8,269.6 978.1,295.4 978.3,324.2 978.5,329.2 978.8,323.7 979,323.2 979.2,313.8 979.5,302.4 979.7,320.9 979.9,355.7 980.1,382.7 980.4,390.5 980.6,390.1 980.8,377 981.1,385.2 981.3,404.4 981.5,385.2 981.8,366.7 982,382 982.2,387.7 982.4,372.4 982.7,362.1 982.9,369.1 983.1,378.5 983.4,378.8 983.6,303.3 983.8,313.9 984.1,324.1 984.3,360 984.5,371.1 984.7,361.8 985,338.9 985.2,372.2 985.4,388.5 985.7,405.5 985.9,388.5 986.1,372.2 986.4,375.9 986.6,374.5 986.8,373.2 987,377.5 987.3,378.7 987.5,371 987.7,355 988,347 988.2,350.6 988.4,356.8 988.7,361.9 988.9,357.3 989.1,348.7 989.3,349.7 989.6,357.2 989.8,360.2 990,357.3 990.3,367.1 990.5,393.2 990.7,395.7 991,395.5 991.2,385.1 991.4,373.7 991.6,367.1 991.9,348.6 992.1,332.7 992.3,331.1 992.6,325.5 992.8,310.6 993,309.9 993.3,310.3 993.5,313.4 993.7,322.7 993.9,323.2 994.2,332.9 994.4,337.9 994.6,336.4 994.9,331.8 995.1,325.2 995.3,324.6 995.6,336.5 995.8,351.4 996,370.1 996.2,382.2 996.5,394.7 996.7,382.2 996.9,370.1 997.2,330.2 997.4,331.5 997.6,360.2 997.9,388.2 998.1,386.8 998.3,374.8 998.5,377.7 998.8,378.5 999,363.4 999.2,356.8 999.5,365.6 999.7,369.4 999.9,366.2 1000.2,373.3 1000.4,393.6 1000.6,399.9 1000.8,406.9 1001.1,391.2 1001.3,376 1001.5,344.1 1001.8,358.1 1002,366.1 1002.2,361.5 1002.5,342.4 1002.7,330.1 1002.9,334.3 1003.1,337.1 1003.4,334.1 1003.6,327.8 1003.8,318.1 1004.1,321.7 1004.3,348.1 1004.5,317 1004.8,293.3 1005,268.8 1005.2,293.3 1005.4,300.5 1005.7,297 1005.9,297.5 1006.1,305 1006.4,307.2 1006.6,304.6 1006.8,310.8 1007.1,322 1007.3,337.6 1007.5,349.1 1007.7,352.8 1008,353.3 1008.2,348.8 1008.4,342.2 1008.7,350.6 1008.9,388.4 1009.1,426.6 1009.4,427.1 1009.6,427.6 1009.8,416.9 1010,435.9 1010.3,416.9 1010.5,398.6 1010.7,359.6 1011,351.4 1011.2,347.5 1011.4,342.1 1011.7,333.5 1011.9,336.3 1012.1,353.7 1012.3,377.9 1012.6,369.4 1012.8,355.7 1013,352.9 1013.3,343.4 1013.5,329.7 1013.7,334.5 1014,350 1014.2,357.8 1014.4,363.6 1014.6,364.5 1014.9,353.6 1015.1,347.7 1015.3,352.7 1015.6,348.5 1015.8,328.7 1016,324.1 1016.3,343 1016.5,367 1016.7,378.9 1016.9,368.1 1017.2,348 1017.4,340.3 1017.6,334.5 1017.9,326.8 1018.1,315.9 1018.3,301.7 1018.6,301.1 1018.8,300.5 1019,280.2 1019.2,299.5 1019.5,325 1019.7,347.4 1019.9,350.1 1020.2,325.4 1020.4,298.9 1020.6,297 1020.9,297.1 1021.1,308 1021.3,317.8 1021.5,312.1 1021.8,311.2 1022,330.1 1022.2,345.8 1022.5,351.2 1022.7,354.5 1022.9,357.9 1023.2,387.6 1023.4,409.1 1023.6,431.3 1023.8,409.1 1024.1,387.6 1024.3,314.8 1024.5,314.7 1024.8,321.5 1025,323 1025.2,329 1025.5,339.2 1025.7,325.8 1025.9,296.4 1026.1,290 1026.4,296 1026.6,298.4 1026.8,307.8 1027.1,309.7 1027.3,313.2 1027.5,315.5 1027.8,317.4 1028,360 1028.2,371.8 1028.4,384 1028.7,371.8 1028.9,305.6 1029.1,305.6 1029.4,309.2 1029.6,304 1029.8,302.2 1030.1,302.6 1030.3,297.2 1030.5,291.9 1030.7,285.8 1031,283.6 1031.2,286 1031.4,307 1031.7,320.4 1031.9,314.4 1032.1,307.9 1032.4,323 1032.6,345.4 1032.8,349.8 1033,354 1033.3,366.3 1033.5,379 1033.7,366.3 1034,308.3 1034.2,321.2 1034.4,343.2 1034.7,351.2 1034.9,345.9 1035.1,337.5 1035.3,331.9 1035.6,331.5 1035.8,305.4 1036,288 1036.3,269.9 1036.5,288 1036.7,305.4 1037,354.7 1037.2,355.1 1037.4,334.7 1037.6,319.3 1037.9,328.1 1038.1,346.7 1038.3,363.4 1038.6,372.9 1038.8,368.5 1039,354.4 1039.3,348.4 1039.5,364 1039.7,377.7 1039.9,367.1 1040.2,312.2 1040.4,294.6 1040.6,276.3 1040.9,294.6 1041.1,312.2 1041.3,323.9 1041.6,324.8 1041.8,317.8 1042,313.4 1042.2,311.7 1042.5,308.7 1042.7,301.9 1042.9,299.9 1043.2,310.5 1043.4,318.3 1043.6,315.6 1043.9,319.4 1044.1,325.6 1044.3,325.4 1044.5,329.7 1044.8,348.9 1045,385.5 1045.2,405.2 1045.5,405.8 1045.7,388.1 1045.9,374.3 1046.2,370.4 1046.4,371.9 1046.6,369.3 1046.8,362 1047.1,365.9 1047.3,376.1 1047.5,379.4 1047.8,369.9 1048,361.8 1048.2,368.3 1048.5,376.7 1048.7,375.4 1048.9,363.9 1049.1,344.9 1049.4,340.4 1049.6,333.5 1049.8,404 1050.1,418.7 1050.3,404 1050.5,389.8 1050.8,349.2 1051,342.3 1051.2,351 1051.4,358.3 1051.7,358 1051.9,359.1 1052.1,355.9 1052.4,359.6 1052.6,371 1052.8,366.7 1053.1,358.5 1053.3,371.7 1053.5,394.7 1053.7,401.3 1054,394.2 1054.2,391.8 1054.4,390 1054.7,384.5 1054.9,382.7 1055.1,379.4 1055.4,373.9 1055.6,374.6 1055.8,379.2 1056,378.2 1056.3,374.4 1056.5,380.2 1056.7,391.5 1057,397 1057.2,401 1057.4,405.2 1057.7,407.3 1057.9,400.7 1058.1,384.7 1058.3,401.7 1058.6,420 1058.8,438.9 1059,420 1059.3,401.7 1059.5,345 1059.7,335.3 1060,345 1060.2,354.2 1060.4,379.1 1060.6,379.3 1060.9,380.1 1061.1,375 1061.3,360.8 1061.6,346 1061.8,347.5 1062,357.3 1062.3,364 1062.5,359.9 1062.7,353.9 1062.9,352 1063.2,344.5 1063.4,336.6 1063.6,343.1 1063.9,366.6 1064.1,390.8 1064.3,400.5 1064.6,400.4 1064.8,398.8 1065,394.3 1065.2,393.3 1065.5,398 1065.7,396.7 1065.9,383.9 1066.2,371.6 1066.4,365.7 1066.6,363.6 1066.9,380.4 1067.1,397.9 1067.3,380.4 1067.5,363.6 1067.8,329.9 1068,329.7 1068.2,332.1 1068.5,339.2 1068.7,351.7 1068.9,356.8 1069.2,351.9 1069.4,330.6 1069.6,302.6 1069.8,291.7 1070.1,294.4 1070.3,292.3 1070.5,280 1070.8,259 1071,243.3 1071.2,240.9 1071.5,238.5 1071.7,249.2 1071.9,255.7 1072.1,258 1072.4,263.2 1072.6,250.7 1072.8,228.5 1073.1,205.3 1073.3,222.5 1073.5,220.7 1073.8,241.4 1074,266.9 1074.2,265.6 1074.4,253.5 1074.7,245.4 1074.9,247.7 1075.1,297.2 1075.4,310.6 1075.6,324.5 1075.8,310.6 1076.1,297.2 1076.3,266.8 1076.5,260.2 1076.7,269.9 1077,282.1 1077.2,291.6 1077.4,295.1 1077.7,280.7 1077.9,255.3 1078.1,254.7 1078.4,265.7 1078.6,257.4 1078.8,241.9 1079,234.7 1079.3,244.5 1079.5,226.6 1079.7,200.3 1080,173 1080.2,200.3 1080.4,226.6 1080.7,247.6 1080.9,257.3 1081.1,250.7 1081.3,254.8 1081.6,273.2 1081.8,273.3 1082,246.4 1082.3,216.3 1082.5,209.4 1082.7,210.2 1083,216.6 1083.2,331.9 1083.4,352.8 1083.6,331.9 1083.9,324.9 1084.1,316 1084.3,299.8 1084.6,304.6 1084.8,303.5 1085,281.3 1085.3,251 1085.5,230.6 1085.7,209.5 1085.9,230.6 1086.2,247.7 1086.4,245.4 1086.6,263.8 1086.9,281.1 1087.1,291.5 1087.3,295.8 1087.6,295.1 1087.8,283.1 1088,264.6 1088.2,262.6 1088.5,247.8 1088.7,230 1088.9,247.8 1089.2,265 1089.4,273.4 1089.6,286.4 1089.9,291.3 1090.1,302 1090.3,323.6 1090.5,320.5 1090.8,299.8 1091,309.4 1091.2,332.8 1091.5,329.5 1091.7,309.5 1091.9,294.2 1092.2,288.7 1092.4,291.9 1092.6,300.9 1092.8,307.8 1093.1,302.2 1093.3,291 1093.5,287 1093.8,291.7 1094,300.7 1094.2,318.1 1094.5,336.6 1094.7,343.1 1094.9,340.9 1095.1,335.7 1095.4,347.7 1095.6,360.2 1095.8,347.7 1096.1,335.7 1096.3,312.1 1096.5,313.5 1096.8,303.2 1097,286 1097.2,279.5 1097.4,284.8 1097.7,295.7 1097.9,308.1 1098.1,312.7 1098.4,296.9 1098.6,280.4 1098.8,266.6 1099.1,284.5 1099.3,301.8 1099.5,358.3 1099.7,352.5 1100,336.3 1100.2,345.3 1100.4,373.7 1100.7,393.6 1100.9,414.1 1101.1,397.2 1101.4,398.2 1101.6,399.2 1101.8,395.9 1102,385.9 1102.3,376.4 1102.5,323.3 1102.7,307 1103,290 1103.2,307 1103.4,323.3 1103.7,391.7 1103.9,399.6 1104.1,384.1 1104.3,372.6 1104.6,378.2 1104.8,388.9 1105,387.3 1105.3,367.2 1105.5,343.9 1105.7,335.2 1106,347.8 1106.2,365 1106.4,365.6 1106.6,358 1106.9,343.8 1107.1,327.4 1107.3,310.4 1107.6,327.4 1107.8,343.8 1108,337.8 1108.3,417.1 1108.5,405.5 1108.7,351.2 1108.9,352.4 1109.2,360.4 1109.4,359.1 1109.6,356.7 1109.9,360.9 1110.1,362 1110.3,352.3 1110.6,345.1 1110.8,347.1 1111,352.1 1111.2,361.6 1111.5,377.5 1111.7,390.1 1111.9,392.7 1112.2,393.7 1112.4,421.1 1112.6,434.4 1112.9,448.2 1113.1,434.4 1113.3,421.1 1113.5,403.6 1113.8,399.5 1114,393 1114.2,391 1114.5,387.9 1114.7,383.7 1114.9,380.6 1115.2,382.8 1115.4,398.6 1115.6,415.7 1115.8,418 1116.1,407.9 1116.3,398.1 1116.5,397.5 1116.8,405.4 1117,416.6 1117.2,430.1 1117.5,433.4 1117.7,415.7 1117.9,394 1118.1,388.5 1118.4,390 1118.6,404.1 1118.8,422.4 1119.1,422.6 1119.3,418.9 1119.5,429.6 1119.8,435.9 1120,425.5 1120.2,415.7 1120.4,418.4 1120.7,434.1 1120.9,443.1 1121.1,452.3 1121.4,451.1 1121.6,449 1121.8,438.8 1122.1,417.3 1122.3,399 1122.5,398.7 1122.7,398.1 1123,403.7 1123.2,409.1 1123.4,411.8 1123.7,417.1 1123.9,432.2 1124.1,439.8 1124.4,448.6 1124.6,442.9 1124.8,436.8 1125,413.3 1125.3,389.8 1125.5,386.9 1125.7,393.8 1126,402.9 1126.2,416.4 1126.4,421.9 1126.7,414.4 1126.9,414.5 1127.1,420.6 1127.3,410.8 1127.6,399.7 1127.8,403 1128,406.2 1128.3,404.3 1128.5,401.1 1128.7,393.1 1129,389.6 1129.2,397.2 1129.4,402 1129.6,399.9 1129.9,404.1 1130.1,418.3 1130.3,426 1130.6,419.6 1130.8,410.3 1131,402 1131.3,398.9 1131.5,366.4 1131.7,353.4 1131.9,415.6 1132.2,353.4 1132.4,366.4 1132.6,369.6 1132.9,379.8 1133.1,391.3 1133.3,396.3 1133.6,396.1 1133.8,396.5 1134,388.8 1134.2,363.6 1134.5,339.3 1134.7,338.4 1134.9,340.2 1135.2,356.9 1135.4,366.5 1135.6,376.1 1135.9,387.6 1136.1,392.9 1136.3,385.2 1136.5,370.9 1136.8,364.3 1137,365.7 1137.2,366.7 1137.5,368.3 1137.7,375.5 1137.9,375.2 1138.2,387.5 1138.4,398.4 1138.6,409.8 1138.8,398.4 1139.1,387.5 1139.3,377.2 1139.5,347.7 1139.8,336.6 1140,325 1140.2,336.6 1140.5,347.7 1140.7,350.9 1140.9,333.3 1141.1,343 1141.4,371.2 1141.6,388.8 1141.8,384.1 1142.1,370.5 1142.3,371.5 1142.5,392 1142.8,399.5 1143,385.1 1143.2,364.9 1143.4,367.3 1143.7,396.8 1143.9,401.1 1144.1,400.9 1144.4,400.6 1144.6,390.3 1144.8,390.3 1145.1,403.3 1145.3,390.3 1145.5,377.8 1145.7,378 1146,387.5 1146.2,384.7 1146.4,370.3 1146.7,351.4 1146.9,342.4 1147.1,342.3 1147.4,335.1 1147.6,323 1147.8,317.1 1148,312.1 1148.3,303.4 1148.5,303.1 1148.7,311.4 1149,338.3 1149.2,361.8 1149.4,360.5 1149.7,334 1149.9,321.8 1150.1,309.1 1150.3,321.8 1150.6,334 1150.8,373 1151,359.1 1151.3,340.8 1151.5,343.8 1151.7,360.5 1152,381.7 1152.2,396.5 1152.4,411.9 1152.6,396.5 1152.9,386.3 1153.1,384.4 1153.3,383.2 1153.6,371 1153.8,353.7 1154,354 1154.3,357.1 1154.5,344 1154.7,337 1154.9,358.9 1155.2,387.9 1155.4,393.6 1155.6,389.9 1155.9,397.1 1156.1,401.2 1156.3,409.8 1156.6,417.1 1156.8,310.8 1157,326.3 1157.2,341.3 1157.5,369.4 1157.7,360 1157.9,371 1158.2,407.9 1158.4,421.6 1158.6,416.9 1158.9,407.9 1159.1,418.9 1159.3,423.7 1159.5,421.4 1159.8,418 1160,435.7 1160.2,418 1160.5,340.5 1160.7,347.5 1160.9,366.5 1161.2,379.2 1161.4,392.7 1161.6,415.7 1161.8,426.6 1162.1,426.7 1162.3,419.3 1162.5,402.9 1162.8,386.6 1163,380.4 1163.2,376.6 1163.5,363.5 1163.7,354 1163.9,359.3 1164.1,357.2 1164.4,345.6 1164.6,333.6 1164.8,345.6 1165.1,352.3 1165.3,347 1165.5,367.5 1165.8,405.3 1166,420.5 1166.2,400.3 1166.4,376.8 1166.7,370 1166.9,370.4 1167.1,371.9 1167.4,370.3 1167.6,365.3 1167.8,355.7 1168.1,339.2 1168.3,325.7 1168.5,325.5 1168.7,325.2 1169,324.9 1169.2,329.6 1169.4,417 1169.7,433.5 1169.9,417 1170.1,337 1170.4,335.6 1170.6,355.9 1170.8,389.2 1171,411 1171.3,408.4 1171.5,398.8 1171.7,392.4 1172,387.1 1172.2,382.8 1172.4,369 1172.7,374.8 1172.9,410.3 1173.1,418.7 1173.3,397.7 1173.6,385.6 1173.8,382.6 1174,373.4 1174.3,363.7 1174.5,370.6 1174.7,342.7 1175,325.5 1175.2,307.6 1175.4,325.5 1175.6,406.4 1175.9,381 1176.1,350 1176.3,330.3 1176.6,337.1 1176.8,355.2 1177,360.3 1177.3,359.1 1177.5,352.5 1177.7,343.7 1177.9,343.1 1178.2,349.1 1178.4,361.1 1178.6,373.6 1178.9,370.6 1179.1,354.2 1179.3,346.2 1179.6,353.7 1179.8,370.1 1180,393 1180.2,404.5 1180.5,388.4 1180.7,361.8 1180.9,342.4 1181.2,330.8 1181.4,327.6 1181.6,331.5 1181.9,343.1 1182.1,357 1182.3,396.5 1182.5,410.5 1182.8,424.9 1183,410.5 1183.2,396.5 1183.5,398.1 1183.7,403 1183.9,398.7 1184.2,387 1184.4,377.3 1184.6,380.8 1184.8,379.7 1185.1,367.3 1185.3,369.5 1185.5,377.3 1185.8,374.8 1186,371.6 1186.2,365.7 1186.5,353.7 1186.7,343.2 1186.9,335.6 1187.1,333.5 1187.4,336 1187.6,347.1 1187.8,349.9 1188.1,349.1 1188.3,355.5 1188.5,376.4 1188.8,384.9 1189,372.4 1189.2,358.2 1189.4,402 1189.7,411.7 1189.9,402 1190.1,357 1190.4,381.3 1190.6,394 1190.8,381.5 1191.1,379.1 1191.3,385.4 1191.5,388.3 1191.7,385.5 1192,378.8 1192.2,385.6 1192.4,393.8 1192.7,384.6 1192.9,373.7 1193.1,374.3 1193.4,383 1193.6,388.6 1193.8,382.8 1194,374.6 1194.3,369.3 1194.5,365.2 1194.7,347.6 1195,329.7 1195.2,330 1195.4,338.6 1195.7,352.5 1195.9,357.2 1196.1,343.7 1196.3,343.4 1196.6,363 1196.8,409.6 1197,428.6 1197.3,448.2 1197.5,428.6 1197.7,409.6 1198,373.6 1198.2,375.9 1198.4,363.8 1198.6,353.5 1198.9,352.3 1199.1,364.9 1199.3,377.6 1199.6,366.4 1199.8,350.7 1200,359.8 1200.3,381.4 1200.5,388.4 1200.7,378.5 1200.9,366.6 1201.2,355 1201.4,344.7 1201.6,349.3 1201.9,335 1202.1,320.2 1202.3,335 1202.6,411.9 1202.8,412.4 1203,415.5 1203.2,420.5 1203.5,409.8 1203.7,397.7 1203.9,414.2 1204.2,431.3 1204.4,414.2 1204.6,397.7 1204.9,355.6 1205.1,347 1205.3,354.6 1205.5,361.2 1205.8,353.3 1206,346.2 1206.2,354.3 1206.5,364.6 1206.7,362.5 1206.9,355.9 1207.2,352 1207.4,348.9 1207.6,356.7 1207.8,362.7 1208.1,397.6 1208.3,418.4 1208.5,440 1208.8,418.4 1209,397.6 1209.2,337.5 1209.5,322.9 1209.7,303.7 1209.9,303.1 1210.1,302.6 1210.4,302.1 1210.6,301.7 1210.8,304.6 1211.1,316.1 1211.3,323.8 1211.5,306.3 1211.8,287.1 1212,306.3 1212.2,324.8 1212.4,378.2 1212.7,369.4 1212.9,351.5 1213.1,343.4 1213.4,347.3 1213.6,359.8 1213.8,363.8 1214.1,356.7 1214.3,358.5 1214.5,362.9 1214.7,323 1215,308.6 1215.2,293.6 1215.4,308.6 1215.7,323 1215.9,353.3 1216.1,338.2 1216.4,316.9 1216.6,311.8 1216.8,321.3 1217,336.6 1217.3,353.1 1217.5,365.8 1217.7,368.7 1218,367.4 1218.2,360.5 1218.4,345.9 1218.7,354 1218.9,362.7 1219.1,371.7 1219.3,362.7 1219.6,354 1219.8,341.4 1220,345.7 1220.3,341.4 1220.5,340.1 1220.7,340.3 1221,332.5 1221.2,318.6 1221.4,317.3 1221.6,327.5 1221.9,329.5 1222.1,320.3 1222.3,311.4 1222.6,313.4 1222.8,326.6 1223,335.9 1223.3,339.8 1223.5,348.7 1223.7,347.7 1223.9,334.7 1224.2,316.9 1224.4,292.5 1224.6,285.8 1224.9,286.8 1225.1,301.9 1225.3,312.9 1225.6,314.6 1225.8,307.7 1226,300.6 1226.2,301.2 1226.5,299.1 1226.7,296.6 1226.9,293.2 1227.2,286 1227.4,286.1 1227.6,292.5 1227.9,315 1228.1,310.6 1228.3,292.7 1228.5,274.2 1228.8,292.7 1229,310.4 1229.2,317 1229.5,323.8 1229.7,336.5 1229.9,340.2 1230.2,343.3 1230.4,360.2 1230.6,377 1230.8,383.8 1231.1,386 1231.3,389.3 1231.5,394.2 1231.8,394.2 1232,390.4 1232.2,387 1232.5,375.9 1232.7,358.8 1232.9,348.8 1233.1,352 1233.4,355.7 1233.6,355.5 1233.8,362.3 1234.1,363.3 1234.3,346.1 1234.5,330.2 1234.8,336.3 1235,376.8 1235.2,392.5 1235.4,408.7 1235.7,392.5 1235.9,314.7 1236.1,320.9 1236.4,316.2 1236.6,312.1 1236.8,316.1 1237.1,323.8 1237.3,322.9 1237.5,319.6 1237.7,322.1 1238,330.4 1238.2,331.2 1238.4,318.2 1238.7,317.7 1238.9,330.3 1239.1,351.3 1239.4,350.9 1239.6,324.9 1239.8,315 1240,333.8 1240.3,350.6 1240.5,349 1240.7,332.7 1241,309.6 1241.2,302.8 1241.4,302 1241.7,301.2 1241.9,312.8 1242.1,335 1242.3,347.4 1242.6,340.1 1242.8,334 1243,347.3 1243.3,354.7 1243.5,337.2 1243.7,320 1244,325.7 1244.2,331.1 1244.4,320.6 1244.6,317.4 1244.9,325.3 1245.1,320.9 1245.3,308.5 1245.6,306.8 1245.8,316.6 1246,332.3 1246.3,347.5 1246.5,353.1 1246.7,339.1 1246.9,323.4 1247.2,359.7 1247.4,373.3 1247.6,387.4 1247.9,373.3 1248.1,359.7 1248.3,315 1248.6,313.8 1248.8,300.5 1249,297.8 1249.2,313.2 1249.5,315.9 1249.7,302 1249.9,285.7 1250.2,279.3 1250.4,287.4 1250.6,300.5 1250.9,300.7 1251.1,294.4 1251.3,296.4 1251.5,277.2 1251.8,254.4 1252,277.2 1252.2,299.2 1252.5,314.7 1252.7,326.5 1252.9,328.5 1253.2,332 1253.4,345 1253.6,351.7 1253.8,346.6 1254.1,340 1254.3,334.7 1254.5,329.2 1254.8,320.6 1255,309.2 1255.2,297.4 1255.5,309.2 1255.7,320.6 1255.9,352.4 1256.1,336.8 1256.4,318.3 1256.6,315.1 1256.8,324.3 1257.1,343.6 1257.3,348.5 1257.5,332.8 1257.8,323.9 1258,327.1 1258.2,325.7 1258.4,319 1258.7,309.2 1258.9,297.7 1259.1,300.5 1259.4,313.4 1259.6,323.2 1259.8,325.8 1260.1,327.6 1260.3,334.9 1260.5,333.3 1260.7,319.7 1261,377.3 1261.2,398 1261.4,419.5 1261.7,398 1261.9,377.3 1262.1,382.7 1262.4,391.8 1262.6,378.5 1262.8,349.6 1263,335.8 1263.3,345.8 1263.5,356.3 1263.7,358.1 1264,358.2 1264.2,362.8 1264.4,364.7 1264.7,360.4 1264.9,354.4 1265.1,349.4 1265.3,347.5 1265.6,349.4 1265.8,350.6 1266,351.7 1266.3,354.3 1266.5,349.2 1266.7,338.4 1267,328.1 1267.2,328.1 1267.4,326.8 1267.6,302.1 1267.9,280.9 1268.1,288 1268.3,300.5 1268.6,312.6 1268.8,328.1 1269,313.8 1269.3,304.7 1269.5,315.6 1269.7,335.8 1269.9,341.5 1270.2,332.2 1270.4,326.8 1270.6,321.1 1270.9,312.8 1271.1,308.9 1271.3,301.4 1271.6,301 1271.8,364.2 1272,354.7 1272.2,345.4 1272.5,327.1 1272.7,297 1272.9,276.3 1273.2,254.8 1273.4,276.3 1273.6,297 1273.9,341.2 1274.1,333.4 1274.3,327.5 1274.5,328.3 1274.8,335.9 1275,340.3 1275.2,330.6 1275.5,316 1275.7,307.6 1275.9,299.4 1276.2,287.8 1276.4,283.3 1276.6,284.6 1276.8,285.1 1277.1,291 1277.3,313.6 1277.5,343.7 1277.8,352 1278,342.5 1278.2,344.9 1278.5,354.7 1278.7,347 1278.9,335.3 1279.1,339.3 1279.4,354.5 1279.6,368.5 1279.8,375.7 1280.1,373.6 1280.3,359.4 1280.5,351.1 1280.8,358.6 1281,370.8 1281.2,370.9 1281.4,401.3 1281.7,427.7 1281.9,455 1282.1,427.7 1282.4,401.3 1282.6,340.5 1282.8,351.8 1283.1,356.2 1283.3,348.1 1283.5,338.4 1283.7,335.2 1284,343.5 1284.2,358 1284.4,352.1 1284.7,327.9 1284.9,320.9 1285.1,329.3 1285.4,331.2 1285.6,323.9 1285.8,320.3 1286,327.9 1286.3,342.2 1286.5,349.1 1286.7,349.2 1287,346.1 1287.2,336.7 1287.4,335.7 1287.7,352.3 1287.9,332.3 1288.1,317 1288.3,301.1 1288.6,317 1288.8,332.3 1289,367.8 1289.3,390.7 1289.5,389.3 1289.7,360.6 1290,338.8 1290.2,335 1290.4,334.4 1290.6,333.9 1290.9,335.5 1291.1,334.8 1291.3,370 1291.6,379.8 1291.8,390 1292,379.8 1292.3,370 1292.5,357.7 1292.7,342.1 1292.9,331.6 1293.2,337.2 1293.4,349 1293.6,341.4 1293.9,325.7 1294.1,330.1 1294.3,348.6 1294.6,367.5 1294.8,378.8 1295,368.4 1295.2,342.5 1295.5,323.1 1295.7,320.7 1295.9,338.3 1296.2,365.6 1296.4,374.4 1296.6,343.5 1296.9,307.2 1297.1,302 1297.3,305.4 1297.5,300.8 1297.8,301 1298,311.7 1298.2,320.2 1298.5,316.4 1298.7,302.6 1298.9,316.4 1299.2,309.2 1299.4,296 1299.6,295.6 1299.8,295.4 1300.1,301.5 1300.3,302.3 1300.5,401.7 1300.8,420.6 1301,401.7 1301.2,383.5 1301.5,339.9 1301.7,363.3 1301.9,317.9 1302.1,295.6 1302.4,272.5 1302.6,295.6 1302.8,317.9 1303.1,391.7 1303.3,387.2 1303.5,370.6 1303.8,351.3 1304,342.9 1304.2,344.8 1304.4,343.2 1304.7,347 1304.9,366.1 1305.1,394.6 1305.4,415.8 1305.6,437.8 1305.8,415.8 1306.1,394.6 1306.3,338 1306.5,359.9 1306.7,378.2 1307,391 1307.2,399.9 1307.4,386.4 1307.7,364.9 1307.9,352.8 1308.1,346.5 1308.4,350.1 1308.6,358.6 1308.8,363.8 1309,378.2 1309.3,399.8 1309.5,407.6 1309.7,324.2 1310,308.7 1310.2,324.2 1310.4,408.5 1310.7,408.9 1310.9,401.8 1311.1,382.2 1311.3,364.9 1311.6,362.5 1311.8,378.1 1312,399.7 1312.3,403.9 1312.5,389.9 1312.7,375.8 1313,365 1313.2,380.6 1313.4,389.3 1313.6,398.2 1313.9,389.3 1314.1,380.6 1314.3,366.3 1314.6,359.3 1314.8,354.9 1315,367.9 1315.3,386.5 1315.5,394.9 1315.7,401 1315.9,394.9 1316.2,376.7 1316.4,373.8 1316.6,389.5 1316.9,391.4 1317.1,373.9 1317.3,355.7 1317.6,348.9 1317.8,341.8 1318,389.8 1318.2,355.7 1318.5,361.1 1318.7,362.4 1318.9,364.3 1319.2,343.2 1319.4,325.7 1319.6,336.7 1319.9,363.2 1320.1,376.3 1320.3,368.9 1320.5,365.5 1320.8,376.8 1321,385 1321.2,382.9 1321.5,380.2 1321.7,373.5 1321.9,363.6 1322.2,358 1322.4,354.5 1322.6,354.6 1322.8,357.3 1323.1,393.7 1323.3,414.3 1323.5,435.7 1323.8,414.3 1324,393.7 1324.2,341.7 1324.5,355.4 1324.7,364.3 1324.9,365.6 1325.1,360.1 1325.4,348.5 1325.6,339.1 1325.8,341.8 1326.1,358.7 1326.3,372.2 1326.5,381.9 1326.8,387.9 1327,312.7 1327.2,297.1 1327.4,312.7 1327.7,327.7 1327.9,390.6 1328.1,397.3 1328.4,375.9 1328.6,353.8 1328.8,350.6 1329.1,360.3 1329.3,323.2 1329.5,305.5 1329.7,388.1 1330,305.5 1330.2,323.2 1330.4,382.7 1330.7,392.2 1330.9,385.2 1331.1,363.2 1331.4,353 1331.6,359.9 1331.8,373.1 1332,376.6 1332.3,372 1332.5,379.5 1332.7,392.8 1333,400.9 1333.2,407.6 1333.4,412 1333.7,412.7 1333.9,412.8 1334.1,413.4 1334.3,404.4 1334.6,389.3 1334.8,388 1335,383.9 1335.3,367.5 1335.5,349 1335.7,342.1 1336,352 1336.2,365 1336.4,370.7 1336.6,376.1 1336.9,387.1 1337.1,384 1337.3,409.7 1337.6,428.8 1337.8,448.6 1338,428.8 1338.3,409.7 1338.5,359.3 1338.7,358.6 1338.9,354.7 1339.2,361 1339.4,378.5 1339.6,407 1339.9,427.7 1340.1,416.9 1340.3,383.4 1340.6,353 1340.8,343.6 1341,356.7 1341.2,372.4 1341.5,363.8 1341.7,354.8 1341.9,363.8 1342.2,408 1342.4,413.6 1342.6,400 1342.9,387.2 1343.1,387.5 1343.3,386.5 1343.5,369.2 1343.8,348.9 1344,343.5 1344.2,362.4 1344.5,401 1344.7,421.5 1344.9,412.1 1345.2,418.4 1345.4,436.9 1345.6,456.1 1345.8,436.9 1346.1,418.4 1346.3,390.1 1346.5,392.6 1346.8,380.9 1347,379.6 1347.2,383 1347.5,381.8 1347.7,388 1347.9,395.7 1348.1,394.7 1348.4,387.6 1348.6,411 1348.8,427.7 1349.1,444.9 1349.3,432.2 1349.5,423.4 1349.8,391.4 1350,360.2 1350.2,347.4 1350.4,348.3 1350.7,358 1350.9,364.9 1351.1,354.6 1351.4,336.8 1351.6,329.5 1351.8,341 1352.1,352.5 1352.3,356.4 1352.5,369.6 1352.7,378 1353,360.4 1353.2,348.5 1353.4,370.9 1353.7,411.1 1353.9,427.2 1354.1,405.4 1354.4,380.1 1354.6,379.3 1354.8,389.8 1355,400.8 1355.3,419.3 1355.5,426.5 1355.7,418.5 1356,416.8 1356.2,421.3 1356.4,414.3 1356.7,398.8 1356.9,389.1 1357.1,375.6 1357.3,329.7 1357.6,307.5 1357.8,284.5 1358,307.5 1358.3,319.9 1358.5,347.1 1358.7,392.1 1359,415.1 1359.2,407.8 1359.4,387.8 1359.6,367.8 1359.9,358.1 1360.1,350.5 1360.3,338.8 1360.6,338.4 1360.8,347.8 1361,350.2 1361.3,331.4 1361.5,312.8 1361.7,293.6 1361.9,312.8 1362.2,392.5 1362.4,411.1 1362.6,430.3 1362.9,411.1 1363.1,392.5 1363.3,351.4 1363.6,368.3 1363.8,374.4 1364,355.3 1364.2,324.2 1364.5,313 1364.7,319.5 1364.9,324.1 1365.2,323.5 1365.4,329.6 1365.6,339.2 1365.9,337.7 1366.1,340.8 1366.3,359.6 1366.5,366 1366.8,357.5 1367,354.1 1367.2,357.6 1367.5,361.8 1367.7,353.9 1367.9,342.3 1368.2,342.2 1368.4,353 1368.6,369.2 1368.8,377.2 1369.1,364.2 1369.3,330.6 1369.5,308.4 1369.8,320.6 1370,347.2 1370.2,394.1 1370.5,417.6 1370.7,442.1 1370.9,417.6 1371.1,394.1 1371.4,373.4 1371.6,366.9 1371.8,364.9 1372.1,377.8 1372.3,398 1372.5,405.8 1372.8,400.1 1373,387 1373.2,377 1373.4,377.1 1373.7,383.6 1373.9,382.9 1374.1,366.3 1374.4,349.3 1374.6,312 1374.8,287.9 1375.1,263 1375.3,287.9 1375.5,312 1375.7,387.5 1376,376.7 1376.2,377.8 1376.4,388.8 1376.7,382.3 1376.9,360.4 1377.1,333.6 1377.4,314.1 1377.6,388.3 1377.8,401.4 1378,388.3 1378.3,375.5 1378.5,331.3 1378.7,327.2 1379,336.9 1379.2,358 1379.4,394.6 1379.7,413.3 1379.9,413.9 1380.1,407 1380.3,355 1380.6,308.6 1380.8,305.2 1381,309.6 1381.3,318.9 1381.5,302.2 1381.7,318.9 1382,335.1 1382.2,371.5 1382.4,374.9 1382.6,366.5 1382.9,342.9 1383.1,330.5 1383.3,347.5 1383.6,382.5 1383.8,398.5 1384,383.7 1384.3,365.3 1384.5,365.2 1384.7,373.7 1384.9,381.1 1385.2,388.4 1385.4,395.1 1385.6,401.3 1385.9,410.5 1386.1,425.6 1386.3,410.5 1386.6,396 1386.8,392.7 1387,397.2 1387.2,393.6 1387.5,383 1387.7,368.4 1387.9,362.6 1388.2,368.3 1388.4,372.5 1388.6,373.6 1388.9,359.7 1389.1,334.8 1389.3,324.7 1389.5,325.5 1389.8,326.4 1390,335.1 1390.2,352.2 1390.5,362.1 1390.7,364.4 1390.9,365.3 1391.2,366.6 1391.4,370 1391.6,380.9 1391.8,390.4 1392.1,385.2 1392.3,371.4 1392.5,366 1392.8,372.4 1393,373.1 1393.2,362.9 1393.5,362 1393.7,380.1 1393.9,389.3 1394.1,372.5 1394.4,350.3 1394.6,328.2 1394.8,324.8 1395.1,318 1395.3,334.6 1395.5,350.7 1395.8,358.9 1396,352.7 1396.2,359.2 1396.4,368 1396.7,369.8 1396.9,367.7 1397.1,370.9 1397.4,392.8 1397.6,425.3 1397.8,430.6 1398.1,430.5 1398.3,427.9 1398.5,429.5 1398.7,430.3 1399,430.2 1399.2,415.5 1399.4,394 1399.7,383.8 1399.9,383.1 1400.1,382.1 1400.4,371.7 1400.6,351.4 1400.8,337.7 1401,340.4 1401.3,420.4 1401.5,437.8 1401.7,420.4 1402,403.6 1402.2,401.9 1402.4,417 1402.7,424.7 1402.9,429.6 1403.1,421.1 1403.3,400.1 1403.6,397 1403.8,402.3 1404,402.5 1404.3,393.4 1404.5,374.4 1404.7,359 1405,353.4 1405.2,353.3 1405.4,349.9 1405.6,343.7 1405.9,352 1406.1,370.7 1406.3,376.9 1406.6,363.9 1406.8,346.9 1407,348 1407.3,363.5 1407.5,378.1 1407.7,390.7 1407.9,401.4 1408.2,402.5 1408.4,400.6 1408.6,403.6 1408.9,407.1 1409.1,410.8 1409.3,324.4 1409.6,305 1409.8,324.4 1410,410.9 1410.2,420.9 1410.5,430 1410.7,430.5 1410.9,429.5 1411.2,442.1 1411.4,429.4 1411.6,425.3 1411.9,407 1412.1,398.6 1412.3,411.1 1412.5,410.5 1412.8,396.5 1413,395.4 1413.2,412.1 1413.5,426.2 1413.7,412.2 1413.9,388.7 1414.2,387.7 1414.4,397.4 1414.6,391.5 1414.8,359.9 1415.1,338 1415.3,344.7 1415.5,350.1 1415.8,341.3 1416,342.4 1416.2,365.5 1416.5,377.8 1416.7,372 1416.9,378.5 1417.1,397.2 1417.4,411.4 1417.6,406.9 1417.8,398.7 1418.1,399 1418.3,393.5 1418.5,383.8 1418.8,375.6 1419,363.9 1419.2,365.2 1419.4,378.8 1419.7,374.6 1419.9,360.2 1420.1,346.6 1420.4,331.2 1420.6,333.6 1420.8,336.9 1421.1,353.7 1421.3,371.9 1421.5,382.7 1421.7,383.5 1422,384.7 1422.2,381.4 1422.4,373.3 1422.7,372.8 1422.9,382.4 1423.1,395.7 1423.4,395.8 1423.6,400.3 1423.8,411.7 1424,400.3 1424.3,389.3 1424.5,384.2 1424.7,383.7 1425,386.4 1425.2,398.4 1425.4,402.6 1425.7,400 1425.9,398.8 1426.1,391.8 1426.3,383.6 1426.6,378.1 1426.8,372.9 1427,376.8 1427.3,395.7 1427.5,414.9 1427.7,416.7 1428,411.1 1428.2,406.2 1428.4,399.9 1428.6,398.5 1428.9,405.7 1429.1,414.9 1429.3,415.7 1429.6,403.6 1429.8,388.6 1430,388.7 1430.3,378.2 1430.5,355.1 1430.7,350.4 1430.9,378 1431.2,404.8 1431.4,412.6 1431.6,414.4 1431.9,411.4 1432.1,397.7 1432.3,380.2 1432.6,366 1432.8,335.6 1433,318.2 1433.2,300.1 1433.5,318.2 1433.7,399.5 1433.9,389.8 1434.2,336.5 1434.4,333.8 1434.6,321.4 1434.9,312.3 1435.1,323.8 1435.3,341 1435.5,342.3 1435.8,349.2 1436,360.2 1436.2,354 1436.5,339.7 1436.7,340.4 1436.9,351.5 1437.2,351 1437.4,337.1 1437.6,336.4 1437.8,355.6 1438.1,365.1 1438.3,354 1438.5,343 1438.8,346 1439,352.7 1439.2,350.2 1439.5,343 1439.7,344.5 1439.9,347.6 1440.1,351.6 1440.4,363 1440.6,371.4 1440.8,372.2 1441.1,367.1 1441.3,362.3 1441.5,371.4 1441.8,386.9 1442,393.3 1442.2,381.6 1442.4,356.8 1442.7,350.1 1442.9,373.4 1443.1,407.4 1443.4,426.5 1443.6,446.4 1443.8,426.5 1444.1,407.4 1444.3,359.7 1444.5,372.3 1444.7,401.2 1445,409.8 1445.2,406.5 1445.4,411.1 1445.7,415.2 1445.9,406.9 1446.1,386.6 1446.4,353.6 1446.6,341 1446.8,328 1447,419.5 1447.3,413.3 1447.5,400.7 1447.7,394.2 1448,401.6 1448.2,418.9 1448.4,425 1448.7,422.1 1448.9,422.5 1449.1,424.7 1449.3,420 1449.6,404.9 1449.8,396.1 1450,409.2 1450.3,417.4 1450.5,402.1 1450.7,394.4 1451,403.7 1451.2,405.2 1451.4,386.6 1451.6,366.3 1451.9,359.3 1452.1,356.2 1452.3,362.2 1452.6,383.1 1452.8,397.7 1453,410.8 1453.3,418.4 1453.5,417.7 1453.7,394.1 1453.9,362.1 1454.2,344.5 1454.4,339.5 1454.6,339.4 1454.9,340.5 1455.1,344.2 1455.3,342.8 1455.6,330.1 1455.8,319.9 1456,329.3 1456.2,353 1456.5,373.6 1456.7,385.1 1456.9,381.8 1457.2,368.1 1457.4,358.8 1457.6,367.1 1457.9,389.2 1458.1,386.9 1458.3,357.1 1458.5,333.3 1458.8,321.1 1459,312.5 1459.2,321.8 1459.5,339.4 1459.7,305.3 1459.9,283.7 1460.2,261.3 1460.4,283.7 1460.6,305.3 1460.8,306.8 1461.1,304.7 1461.3,311 1461.5,323.3 1461.8,337.7 1462,343.3 1462.2,339 1462.5,362.8 1462.7,377.4 1462.9,392.5 1463.1,295.1 1463.4,303.5 1463.6,290 1463.8,303.5 1464.1,316.6"/>
<polyline stroke="#f00000" stroke-width="1.8" points="838,385.5 838.2,383.8 838.5,391.3 838.7,397.7 838.9,404.4 839.2,397.7 839.4,391.3 839.6,371.9 839.8,368.5 840.1,366.9 840.3,370.6 840.5,369.5 840.8,361.3 841,356.9 841.2,359.3 841.5,361.9 841.7,354.2 841.9,347.2 842.1,345.1 842.4,343.3 842.6,342.7 842.8,344 843.1,354 843.3,364.3 843.5,364.4 843.8,346.5 844,335.9 844.2,333.3 844.4,343.2 844.7,343.5 844.9,339 845.1,339.1 845.4,337.2 845.6,341.9 845.8,340.1 846.1,327.3 846.3,340.1 846.5,417.3 846.7,404.9 847,393 847.2,367.3 847.4,362.4 847.7,358.9 847.9,367.2 848.1,372.8 848.4,372.6 848.6,383.5 848.8,395.3 849,405.3 849.3,414.2 849.5,411 849.7,398.7 850,402 850.2,410.6 850.4,411.2 850.7,414.4 850.9,428.1 851.1,414.4 851.3,409.9 851.6,398.4 851.8,355.2 852,345 852.3,355.2 852.5,365 852.7,376.8 853,390.8 853.2,405.4 853.4,404.3 853.6,390.7 853.9,383.6 854.1,376.9 854.3,367.1 854.6,374.9 854.8,397.6 855,411.2 855.3,404.2 855.5,390.5 855.7,400 855.9,408.8 856.2,417.9 856.4,411.1 856.6,403.8 856.9,399.6 857.1,392.2 857.3,383.5 857.6,360.2 857.8,345.4 858,330 858.2,345.4 858.5,360.2 858.7,394.4 858.9,388.5 859.2,389 859.4,394.8 859.6,399 859.9,396.6 860.1,389 860.3,377 860.5,355.5 860.8,344.4 861,355.6 861.2,377.4 861.5,393.5 861.7,387.1 861.9,362 862.2,412 862.4,431.9 862.6,452.5 862.8,431.9 863.1,412 863.3,356.1 863.5,357.5 863.8,356 864,359.8 864.2,360.3 864.5,354.1 864.7,350.2 864.9,351.9 865.1,360.6 865.4,368.2 865.6,368.7 865.8,362.4 866.1,345.3 866.3,323 866.5,320.3 866.8,421.3 867,442 867.2,421.3 867.4,334.4 867.7,348.5 867.9,360.8 868.1,363.9 868.4,357.5 868.6,357.5 868.8,375.6 869.1,386.2 869.3,374.6 869.5,355.1 869.7,339.7 870,338.3 870.2,345.1 870.4,337.2 870.7,320.1 870.9,306.3 871.1,306.7 871.4,310.8 871.6,332.6 871.8,347.7 872,348.9 872.3,337.9 872.5,329 872.7,332.9 873,381.4 873.2,396.4 873.4,412 873.7,396.4 873.9,326.1 874.1,339.5 874.3,350.3 874.6,341.2 874.8,333.3 875,339.3 875.3,336.6 875.5,320.3 875.7,313.7 876,313.6 876.2,317.6 876.4,333.8 876.6,343.5 876.9,341 877.1,336 877.3,334.1 877.6,334 877.8,329.3 878,320 878.3,329.3 878.5,382.9 878.7,394.7 878.9,382.9 879.2,371.6 879.4,351.4 879.6,355.7 879.9,361 880.1,357.7 880.3,353.6 880.6,358.7 880.8,366.4 881,364.4 881.2,351.5 881.5,336.7 881.7,334.8 881.9,348.8 882.2,358.1 882.4,356.2 882.6,356.3 882.9,362.4 883.1,368.4 883.3,367.4 883.5,363.5 883.8,360.1 884,356.5 884.2,363.4 884.5,376.4 884.7,382.2 884.9,382.2 885.2,378.3 885.4,385 885.6,374.9 885.8,365.2 886.1,326.6 886.3,317.6 886.5,326.6 886.8,328.1 887,323.8 887.2,337.5 887.5,351.2 887.7,355.9 887.9,351.7 888.1,335.7 888.4,319.5 888.6,312.6 888.8,309.6 889.1,312.9 889.3,327 889.5,333.9 889.8,324.2 890,311.5 890.2,310.5 890.4,314 890.7,317.2 890.9,321.6 891.1,326.2 891.4,386.2 891.6,398 891.8,386.2 892.1,374.9 892.3,348.2 892.5,344.9 892.7,336.2 893,336.1 893.2,348.9 893.4,362.8 893.7,368.5 893.9,366.9 894.1,365.4 894.4,364.3 894.6,338.3 894.8,328.3 895,318 895.3,320.4 895.5,319.1 895.7,321.7 896,368.7 896.2,378.4 896.4,388.5 896.7,313.1 896.9,319.2 897.1,321.3 897.3,313.8 897.6,312.3 897.8,322.2 898,336.8 898.3,341.9 898.5,332.6 898.7,320.1 899,313.9 899.2,311.5 899.4,310.2 899.6,306.9 899.9,306.3 900.1,308.8 900.3,322.8 900.6,350.8 900.8,364.9 901,358.2 901.3,347.6 901.5,330.9 901.7,317.1 901.9,361.6 902.2,375.2 902.4,389.3 902.6,375.2 902.9,361.6 903.1,366.8 903.3,379.4 903.6,382.3 903.8,382.7 904,377.7 904.2,355.4 904.5,339.7 904.7,351.2 904.9,378.1 905.2,384.2 905.4,382.2 905.6,369.9 905.9,351 906.1,313.1 906.3,294.6 906.5,275.4 906.8,294.6 907,313.1 907.2,369.8 907.5,357.2 907.7,355.5 907.9,368.5 908.2,381.7 908.4,383.1 908.6,375.7 908.8,381.1 909.1,390.4 909.3,381.1 909.5,378.6 909.8,371.3 910,363.3 910.2,361.1 910.5,353.8 910.7,341.8 910.9,339 911.1,347.5 911.4,358.9 911.6,355.4 911.8,342.9 912.1,330 912.3,427.2 912.5,455.6 912.8,485 913,455.6 913.2,427.2 913.4,405.1 913.7,413.3 913.9,399.4 914.1,380.5 914.4,371.5 914.6,365.8 914.8,359.7 915.1,372.2 915.3,400.5 915.5,422.1 915.7,440 916,446.2 916.2,445.1 916.4,443.4 916.7,441.6 916.9,431.5 917.1,413.5 917.4,425.5 917.6,437.8 917.8,434 918,430.2 918.3,411.5 918.5,402.9 918.7,407.6 919,413.3 919.2,412.7 919.4,412 919.7,370.2 919.9,355.4 920.1,340 920.3,437.7 920.6,438.6 920.8,447 921,449.4 921.3,443.3 921.5,413.7 921.7,394.5 922,386.6 922.2,371.7 922.4,366.2 922.6,428.3 922.9,449.3 923.1,471.2 923.3,449.3 923.6,428.3 923.8,374.3 924,402.1 924.3,416.5 924.5,399 924.7,373.6 924.9,365.4 925.2,368.7 925.4,368.5 925.6,367.2 925.9,373.5 926.1,388.8 926.3,408 926.6,417.4 926.8,411.6 927,397.4 927.2,386.4 927.5,381.3 927.7,374 927.9,359.4 928.2,347 928.4,420.6 928.6,410.4 928.9,400.6 929.1,373 929.3,370.9 929.5,358.3 929.8,344.4 930,330 930.2,344.4 930.5,358.3 930.7,391.1 930.9,378.9 931.2,371.8 931.4,384.6 931.6,397.8 931.8,390.6 932.1,382.4 932.3,392.6 932.5,402.8 932.8,396.9 933,378 933.2,366.2 933.5,373.2 933.7,385.1 933.9,384.5 934.1,374.9 934.4,362.1 934.6,350.4 934.8,345.9 935.1,354.1 935.3,390.6 935.5,405 935.8,420 936,405 936.2,390.6 936.4,348.9 936.7,354.9 936.9,359.5 937.1,359 937.4,358.6 937.6,338.8 937.8,329.6 938.1,320 938.3,329.6 938.5,338.8 938.7,348.4 939,342.7 939.2,339.8 939.4,345.1 939.7,358.3 939.9,367.8 940.1,368.2 940.4,373 940.6,363.5 940.8,354.4 941,336.9 941.3,343.7 941.5,346.8 941.7,341.3 942,327.3 942.2,315.1 942.4,316.3 942.7,323.1 942.9,324.3 943.1,321.1 943.3,319.4 943.6,318.5 943.8,315.9 944,308 944.3,309.5 944.5,325.6 944.7,328 945,310.3 945.2,277.2 945.4,256.9 945.6,235.8 945.9,256.9 946.1,277.2 946.3,305.9 946.6,314.4 946.8,316.8 947,311 947.3,292.6 947.5,276.6 947.7,288.2 947.9,316.3 948.2,328.3 948.4,327.5 948.6,340.4 948.9,353.7 949.1,340.4 949.3,338.2 949.6,320.9 949.8,288.4 950,277.4 950.2,265.9 950.5,341.7 950.7,348.2 950.9,333 951.2,323.7 951.4,333.5 951.6,334.5 951.9,319.6 952.1,314.8 952.3,315.8 952.5,309.8 952.8,296.4 953,284.8 953.2,282.9 953.5,299.9 953.7,323.3 953.9,322.5 954.2,297.7 954.4,275.8 954.6,274.6 954.8,289.3 955.1,302.9 955.3,338 955.5,349.7 955.8,361.9 956,349.7 956.2,338 956.5,338 956.7,342.6 956.9,316.9 957.1,291.2 957.4,282 957.6,279.1 957.8,275.2 958.1,271.4 958.3,277.2 958.5,296.8 958.8,278.5 959,259.5 959.2,278.5 959.4,296.8 959.7,293.8 959.9,302.7 960.1,315.3 960.4,319.7 960.6,314.5 960.8,305.8 961.1,296.8 961.3,287.9 961.5,285.8 961.7,286 962,288.9 962.2,303.8 962.4,317.8 962.7,357.7 962.9,370.5 963.1,383.9 963.4,370.5 963.6,357.7 963.8,335.4 964,334 964.3,329.8 964.5,334.4 964.7,340 965,339.3 965.2,338.3 965.4,337.2 965.7,320.4 965.9,310.4 966.1,300 966.3,310.4 966.6,320.4 966.8,325.5 967,327.6 967.3,340.3 967.5,345.9 967.7,339.3 968,341 968.2,364.3 968.4,382.8 968.6,376.9 968.9,348.6 969.1,326.2 969.3,324.5 969.6,312.3 969.8,292 970,287.1 970.3,282.8 970.5,283 970.7,298.9 970.9,314.8 971.2,322.1 971.4,336.2 971.6,359.1 971.9,369.1 972.1,353.8 972.3,324.3 972.6,303.1 972.8,304.5 973,321.5 973.2,299.1 973.5,283.9 973.7,268.2 973.9,283.9 974.2,299.1 974.4,353.5 974.6,358.5 974.9,358.5 975.1,350.3 975.3,333.9 975.5,354.4 975.8,372.1 976,390.4 976.2,372.1 976.5,354.4 976.7,310.2 976.9,300.9 977.2,297 977.4,286.6 977.6,271.7 977.8,275.5 978.1,305.6 978.3,329.5 978.5,330.8 978.8,328.8 979,329.3 979.2,311.3 979.5,288.4 979.7,299 979.9,328.5 980.1,350.6 980.4,357.6 980.6,358.7 980.8,351.1 981.1,360.4 981.3,374.8 981.5,389.8 981.8,374.8 982,365.1 982.2,379.4 982.4,366.7 982.7,349.4 982.9,348.9 983.1,360.8 983.4,368.7 983.6,316.4 983.8,301 984.1,285 984.3,301 984.5,396.8 984.7,392 985,367.3 985.2,358.3 985.4,366.7 985.7,379.6 985.9,393 986.1,383.3 986.4,395.1 986.6,393.8 986.8,390.8 987,390 987.3,382.1 987.5,364 987.7,343.9 988,338.5 988.2,346.9 988.4,356.4 988.7,360.2 988.9,352.2 989.1,344.3 989.3,349.5 989.6,358.5 989.8,360.9 990,360.3 990.3,371.2 990.5,391.5 990.7,390.8 991,390.3 991.2,384 991.4,376.8 991.6,367.4 991.9,345.7 992.1,329.2 992.3,329.7 992.6,328.1 992.8,313.8 993,312.4 993.3,313.3 993.5,318.8 993.7,321.3 993.9,310 994.2,321.3 994.4,332.2 994.6,332.9 994.9,323.5 995.1,317.3 995.3,316.1 995.6,322.4 995.8,334.4 996,337.3 996.2,333.1 996.5,367.9 996.7,374.9 996.9,329.1 997.2,321.9 997.4,329.6 997.6,355.4 997.9,379.3 998.1,378.2 998.3,369.1 998.5,374.5 998.8,374.5 999,353.9 999.2,336.6 999.5,335.6 999.7,339 999.9,344.6 1000.2,360.8 1000.4,385.4 1000.6,392 1000.8,397.2 1001.1,415.2 1001.3,397.2 1001.5,379.8 1001.8,346.4 1002,350.4 1002.2,344.9 1002.5,327.7 1002.7,315.8 1002.9,315.8 1003.1,317.8 1003.4,319.2 1003.6,315.9 1003.8,307.5 1004.1,312.7 1004.3,338.7 1004.5,364.2 1004.8,330.4 1005,314.5 1005.2,298 1005.4,314.5 1005.7,311.6 1005.9,306 1006.1,311.3 1006.4,319.2 1006.6,323.3 1006.8,328 1007.1,334.4 1007.3,342.5 1007.5,343.2 1007.7,340.8 1008,339.5 1008.2,333.9 1008.4,329.6 1008.7,345.1 1008.9,387.3 1009.1,422.4 1009.4,417.6 1009.6,411.6 1009.8,392.5 1010,403.8 1010.3,424.7 1010.5,446.4 1010.7,424.7 1011,403.8 1011.2,344 1011.4,336.8 1011.7,331.9 1011.9,334.1 1012.1,320 1012.3,334.1 1012.6,347.7 1012.8,361.3 1013,360.4 1013.3,352.8 1013.5,338.8 1013.7,344.5 1014,359.2 1014.2,362.7 1014.4,363.3 1014.6,359.7 1014.9,346 1015.1,339.8 1015.3,346.3 1015.6,347 1015.8,333.6 1016,322.1 1016.3,324.1 1016.5,343.1 1016.7,362.5 1016.9,359.1 1017.2,343 1017.4,337.8 1017.6,335.7 1017.9,331.9 1018.1,321.7 1018.3,303.1 1018.6,295.7 1018.8,290.9 1019,289.6 1019.2,316.5 1019.5,327.6 1019.7,341.1 1019.9,347.3 1020.2,315.5 1020.4,293.8 1020.6,296.4 1020.9,302.2 1021.1,314.8 1021.3,317.8 1021.5,307 1021.8,308.2 1022,327.2 1022.2,342.9 1022.5,348.3 1022.7,343.9 1022.9,337.6 1023.2,341.5 1023.4,354.2 1023.6,379.8 1023.8,397.3 1024.1,415.4 1024.3,397.3 1024.5,310.9 1024.8,317.6 1025,318.7 1025.2,321.4 1025.5,326.4 1025.7,312.2 1025.9,289.4 1026.1,286.3 1026.4,288.1 1026.6,293.8 1026.8,298.3 1027.1,280.7 1027.3,298.3 1027.5,313.2 1027.8,317.7 1028,336.9 1028.2,363.6 1028.4,377.8 1028.7,392.5 1028.9,377.8 1029.1,315.7 1029.4,318.7 1029.6,313.3 1029.8,312.7 1030.1,315.6 1030.3,311.8 1030.5,302.6 1030.7,288.9 1031,283.9 1031.2,288.9 1031.4,320.6 1031.7,343.2 1031.9,340.7 1032.1,333 1032.4,343 1032.6,357 1032.8,353.2 1033,337.6 1033.3,356.7 1033.5,370.6 1033.7,385 1034,370.6 1034.2,356.7 1034.4,349.4 1034.7,351.5 1034.9,339.4 1035.1,326.2 1035.3,320.3 1035.6,322.4 1035.8,341.8 1036,363.9 1036.3,299.4 1036.5,285.7 1036.7,299.4 1037,312.6 1037.2,352.9 1037.4,333.1 1037.6,320.3 1037.9,327.3 1038.1,338.7 1038.3,350.5 1038.6,360.8 1038.8,359.5 1039,349 1039.3,342.8 1039.5,353 1039.7,363.2 1039.9,353.1 1040.2,334.1 1040.4,320.2 1040.6,307 1040.9,293.4 1041.1,302.4 1041.3,306.4 1041.6,303.9 1041.8,294.5 1042,290.4 1042.2,291 1042.5,292.7 1042.7,291.5 1042.9,291.2 1043.2,295 1043.4,303.5 1043.6,310.5 1043.9,319.9 1044.1,322.9 1044.3,322.3 1044.5,331.1 1044.8,348.4 1045,377.3 1045.2,398.7 1045.5,401.4 1045.7,383.9 1045.9,370.4 1046.2,364.1 1046.4,362.1 1046.6,358.5 1046.8,352.4 1047.1,359.4 1047.3,372.3 1047.5,373.2 1047.8,362.3 1048,357.1 1048.2,365.5 1048.5,373.4 1048.7,370.5 1048.9,359 1049.1,342.1 1049.4,337.8 1049.6,343.1 1049.8,329.3 1050.1,315 1050.3,424.9 1050.5,408.6 1050.8,392.8 1051,345.6 1051.2,355.7 1051.4,360.2 1051.7,356.7 1051.9,357.7 1052.1,356.4 1052.4,359.7 1052.6,367.8 1052.8,363.3 1053.1,359.2 1053.3,372.5 1053.5,393.4 1053.7,404.2 1054,403.1 1054.2,400.9 1054.4,396.4 1054.7,387.4 1054.9,381.7 1055.1,379 1055.4,380 1055.6,386.5 1055.8,390.7 1056,386.8 1056.3,381.5 1056.5,383.3 1056.7,389.6 1057,391.1 1057.2,390.5 1057.4,393 1057.7,395.9 1057.9,388.9 1058.1,373.1 1058.3,367.7 1058.6,378.3 1058.8,388.9 1059,399.5 1059.3,410.7 1059.5,338.1 1059.7,332.4 1060,318 1060.2,332.4 1060.4,346.2 1060.6,371.8 1060.9,369.8 1061.1,365.9 1061.3,359.4 1061.6,355.5 1061.8,362.6 1062,370.3 1062.3,372.6 1062.5,365.4 1062.7,356.6 1062.9,352.6 1063.2,343.9 1063.4,337.5 1063.6,346.5 1063.9,368.4 1064.1,386.1 1064.3,389.7 1064.6,387.3 1064.8,384.6 1065,378.2 1065.2,378.2 1065.5,387.9 1065.7,386.4 1065.9,368.3 1066.2,354.6 1066.4,353.5 1066.6,353.7 1066.9,350.8 1067.1,361.1 1067.3,371.7 1067.5,361.1 1067.8,350.8 1068,326.1 1068.2,328.3 1068.5,331.5 1068.7,338.7 1068.9,343.1 1069.2,341.2 1069.4,324.5 1069.6,299.9 1069.8,290 1070.1,294.6 1070.3,294 1070.5,279.9 1070.8,260.8 1071,252.3 1071.2,253.7 1071.5,248.8 1071.7,253.5 1071.9,257.5 1072.1,263.7 1072.4,274.1 1072.6,267.5 1072.8,238.5 1073.1,212.4 1073.3,183.6 1073.5,212.4 1073.8,240.1 1074,273.3 1074.2,272.6 1074.4,255.4 1074.7,239.5 1074.9,238 1075.1,249.2 1075.4,267.2 1075.6,303.3 1075.8,321.3 1076.1,340 1076.3,321.3 1076.5,303.3 1076.7,270.2 1077,279.7 1077.2,281.4 1077.4,282.3 1077.7,275.6 1077.9,259.8 1078.1,261.5 1078.4,268.7 1078.6,258.6 1078.8,247.2 1079,242.3 1079.3,246 1079.5,273.6 1079.7,304.7 1080,231.1 1080.2,215.6 1080.4,231.1 1080.7,245.9 1080.9,272.1 1081.1,261.9 1081.3,260.3 1081.6,275.4 1081.8,280.8 1082,266.9 1082.3,248.3 1082.5,245.5 1082.7,246.2 1083,248.9 1083.2,316.9 1083.4,339.7 1083.6,363.4 1083.9,348.1 1084.1,342.2 1084.3,326.5 1084.6,325.5 1084.8,313.5 1085,278.5 1085.3,258.8 1085.5,261.9 1085.7,264.4 1085.9,251.3 1086.2,237.6 1086.4,251.3 1086.6,262.6 1086.9,280.7 1087.1,298.5 1087.3,303 1087.6,295.5 1087.8,281.2 1088,262.2 1088.2,256.8 1088.5,264 1088.7,262.8 1088.9,250.5 1089.2,262.8 1089.4,274.6 1089.6,296.2 1089.9,299.1 1090.1,307.1 1090.3,322.7 1090.5,316.5 1090.8,299.7 1091,311.4 1091.2,333.3 1091.5,335 1091.7,324.8 1091.9,312.3 1092.2,301.5 1092.4,301.3 1092.6,311.3 1092.8,318.2 1093.1,313.3 1093.3,305.8 1093.5,305.9 1093.8,315.4 1094,328.4 1094.2,342.1 1094.5,351.8 1094.7,354.3 1094.9,353.1 1095.1,342.1 1095.4,329.9 1095.6,337.8 1095.8,346.1 1096.1,337.8 1096.3,329.9 1096.5,306.1 1096.8,297.2 1097,283.1 1097.2,278.6 1097.4,284.9 1097.7,298.9 1097.9,312.6 1098.1,315 1098.4,300.9 1098.6,288.8 1098.8,291 1099.1,284.5 1099.3,297.7 1099.5,361.7 1099.7,351.7 1100,335.3 1100.2,348.2 1100.4,375.7 1100.7,384.8 1100.9,388.9 1101.1,390.4 1101.4,400 1101.6,398.6 1101.8,397.3 1102,392.3 1102.3,384.5 1102.5,370.8 1102.7,332.4 1103,320.8 1103.2,308.8 1103.4,320.8 1103.7,391.4 1103.9,396.5 1104.1,380.5 1104.3,368.6 1104.6,373.8 1104.8,385.6 1105,385.5 1105.3,365.1 1105.5,341.6 1105.7,335.1 1106,349.6 1106.2,369.8 1106.4,376.3 1106.6,372.2 1106.9,372.3 1107.1,377.1 1107.3,352.9 1107.6,340.7 1107.8,328 1108,340.7 1108.3,410.6 1108.5,423.8 1108.7,410.6 1108.9,350.9 1109.2,355.8 1109.4,352.9 1109.6,352.5 1109.9,358.6 1110.1,357.1 1110.3,347.3 1110.6,344.2 1110.8,345.4 1111,347.9 1111.2,358.5 1111.5,382.6 1111.7,399.6 1111.9,403.3 1112.2,402.2 1112.4,409.5 1112.6,421.3 1112.9,430.1 1113.1,433.2 1113.3,423.9 1113.5,415 1113.8,394.6 1114,387.4 1114.2,387.6 1114.5,387 1114.7,381.7 1114.9,380 1115.2,384.2 1115.4,395.2 1115.6,415.3 1115.8,420.7 1116.1,415.3 1116.3,404.8 1116.5,401.9 1116.8,410.5 1117,421.9 1117.2,430.7 1117.5,428.9 1117.7,411.9 1117.9,395.2 1118.1,391.9 1118.4,394.5 1118.6,407.6 1118.8,423.5 1119.1,423.1 1119.3,419.5 1119.5,429.1 1119.8,433 1120,424.2 1120.2,420.9 1120.4,427.8 1120.7,436.8 1120.9,443.7 1121.1,449.4 1121.4,458.3 1121.6,454.2 1121.8,447.8 1122.1,426.4 1122.3,406.9 1122.5,404.9 1122.7,401.4 1123,395 1123.2,401.4 1123.4,406.1 1123.7,414.3 1123.9,429.5 1124.1,435.9 1124.4,436.7 1124.6,445.9 1124.8,458.3 1125,445.9 1125.3,433.9 1125.5,395.3 1125.7,401.3 1126,409.5 1126.2,422.3 1126.4,428.3 1126.7,422.3 1126.9,420.1 1127.1,421.4 1127.3,409.4 1127.6,398.5 1127.8,401.1 1128,401.9 1128.3,396.9 1128.5,392.7 1128.7,387.4 1129,387.1 1129.2,395.4 1129.4,397.6 1129.6,389.4 1129.9,386.9 1130.1,396.3 1130.3,403 1130.6,399.4 1130.8,395.8 1131,388.7 1131.3,381.9 1131.5,383.9 1131.7,404.1 1131.9,414.3 1132.2,424.9 1132.4,359.2 1132.6,361.3 1132.9,370.2 1133.1,380.8 1133.3,386.7 1133.6,387.9 1133.8,389.1 1134,383.1 1134.2,360.8 1134.5,340.3 1134.7,340.7 1134.9,346.4 1135.2,366.3 1135.4,375.3 1135.6,377.9 1135.9,380.1 1136.1,381.8 1136.3,376.9 1136.5,368.6 1136.8,364.9 1137,364.5 1137.2,365.4 1137.5,370.4 1137.7,381.6 1137.9,385.1 1138.2,375 1138.4,369.6 1138.6,381 1138.8,388.7 1139.1,396.6 1139.3,388.7 1139.5,381 1139.8,351.7 1140,343.3 1140.2,334.6 1140.5,343.3 1140.7,346.6 1140.9,335.1 1141.1,346.8 1141.4,367.7 1141.6,375.4 1141.8,371.4 1142.1,365.6 1142.3,367.8 1142.5,383.1 1142.8,391.7 1143,382.9 1143.2,369.8 1143.4,371.1 1143.7,392.8 1143.9,397.6 1144.1,398.5 1144.4,398.9 1144.6,387.3 1144.8,369.7 1145.1,372.2 1145.3,381.7 1145.5,391.6 1145.7,381.7 1146,375.1 1146.2,374.3 1146.4,363.8 1146.7,348.8 1146.9,340.6 1147.1,338.8 1147.4,333.5 1147.6,327.2 1147.8,324 1148,319.7 1148.3,312.8 1148.5,312.6 1148.7,316.5 1149,330.5 1149.2,340.6 1149.4,335.2 1149.7,320.5 1149.9,320.5 1150.1,305.2 1150.3,286 1150.6,305.2 1150.8,323.7 1151,348.7 1151.3,337.9 1151.5,335.8 1151.7,341.1 1152,342 1152.2,340.3 1152.4,371.8 1152.6,380.2 1152.9,388.9 1153.1,380.2 1153.3,371.8 1153.6,359.3 1153.8,345.5 1154,345.9 1154.3,349.8 1154.5,341.4 1154.7,335 1154.9,348.9 1155.2,372.8 1155.4,383 1155.6,382.3 1155.9,385.5 1156.1,388.1 1156.3,397.9 1156.6,408 1156.8,402.1 1157,335.7 1157.2,344.4 1157.5,352.8 1157.7,354.3 1157.9,363.7 1158.2,394.2 1158.4,405 1158.6,396.8 1158.9,392 1159.1,407.7 1159.3,413.8 1159.5,406.3 1159.8,390.8 1160,401.5 1160.2,412.6 1160.5,401.5 1160.7,347.9 1160.9,361.8 1161.2,376.6 1161.4,395.1 1161.6,416 1161.8,422.8 1162.1,422 1162.3,413.8 1162.5,396.5 1162.8,382.3 1163,380.6 1163.2,379.7 1163.5,370.4 1163.7,362.5 1163.9,361.1 1164.1,371.3 1164.4,382.9 1164.6,353.4 1164.8,339.5 1165.1,325 1165.3,339.5 1165.5,353.4 1165.8,385.7 1166,393 1166.2,378.4 1166.4,366.6 1166.7,368.1 1166.9,367 1167.1,357.9 1167.4,348.6 1167.6,343.7 1167.8,339 1168.1,331.8 1168.3,326.9 1168.5,326.5 1168.7,323.8 1169,322.5 1169.2,325 1169.4,338.2 1169.7,347.4 1169.9,408.5 1170.1,328.4 1170.4,334.3 1170.6,358.2 1170.8,386 1171,400.9 1171.3,397.1 1171.5,388.5 1171.7,384.8 1172,382.1 1172.2,374.1 1172.4,356.2 1172.7,356.7 1172.9,384.8 1173.1,396.9 1173.3,384.1 1173.6,376.8 1173.8,379.8 1174,375 1174.3,360 1174.5,355.2 1174.7,364.9 1175,349.1 1175.2,335.7 1175.4,321.9 1175.6,335.7 1175.9,349.1 1176.1,352.1 1176.3,341.4 1176.6,353.2 1176.8,369.3 1177,369.8 1177.3,366.2 1177.5,361.9 1177.7,356.6 1177.9,356.6 1178.2,356.8 1178.4,359.6 1178.6,370.1 1178.9,373.2 1179.1,360.6 1179.3,349.7 1179.6,351.8 1179.8,361.4 1180,376.2 1180.2,383.9 1180.5,372.5 1180.7,354.9 1180.9,342.9 1181.2,336.6 1181.4,337.7 1181.6,346.1 1181.9,359.5 1182.1,373.9 1182.3,381.3 1182.5,390 1182.8,399.9 1183,410.2 1183.2,399.9 1183.5,393 1183.7,397 1183.9,395.1 1184.2,385.1 1184.4,374.7 1184.6,375.7 1184.8,374.9 1185.1,364.4 1185.3,365.3 1185.5,371.6 1185.8,368.6 1186,361.1 1186.2,350.6 1186.5,339.8 1186.7,336.3 1186.9,335.7 1187.1,337.4 1187.4,339 1187.6,339.1 1187.8,342.4 1188.1,330 1188.3,343 1188.5,355.4 1188.8,377.6 1189,368 1189.2,358.7 1189.4,398.7 1189.7,411.6 1189.9,425 1190.1,342.2 1190.4,398.7 1190.6,371.8 1190.8,362.9 1191.1,362.9 1191.3,371 1191.5,376.2 1191.7,373.1 1192,366.4 1192.2,375 1192.4,389.9 1192.7,390.2 1192.9,382.9 1193.1,379.3 1193.4,376.8 1193.6,372.4 1193.8,365 1194,356.4 1194.3,351 1194.5,351.9 1194.7,342.4 1195,329.1 1195.2,330.3 1195.4,340.7 1195.7,349.5 1195.9,347.6 1196.1,336.8 1196.3,339.6 1196.6,358.2 1196.8,370.6 1197,402.4 1197.3,417.1 1197.5,432.3 1197.7,417.1 1198,402.4 1198.2,361.2 1198.4,347.9 1198.6,336.4 1198.9,335.7 1199.1,348.6 1199.3,363 1199.6,359.6 1199.8,349.2 1200,352.8 1200.3,366.4 1200.5,371.3 1200.7,363.4 1200.9,356.2 1201.2,353 1201.4,348.6 1201.6,353.9 1201.9,370.4 1202.1,344 1202.3,326.9 1202.6,309.1 1202.8,326.9 1203,344 1203.2,405.1 1203.5,398.2 1203.7,386.9 1203.9,387.5 1204.2,398.1 1204.4,409 1204.6,398.1 1204.9,387.5 1205.1,359.5 1205.3,365.3 1205.5,368.6 1205.8,360.5 1206,355.9 1206.2,366.6 1206.5,377.2 1206.7,373.8 1206.9,363.9 1207.2,355.5 1207.4,352.9 1207.6,360.3 1207.8,359 1208.1,340.5 1208.3,331.1 1208.5,406 1208.8,423 1209,406 1209.2,320.7 1209.5,316.2 1209.7,309.1 1209.9,308.4 1210.1,301.4 1210.4,297.6 1210.6,297.1 1210.8,299.5 1211.1,308.5 1211.3,314 1211.5,319.3 1211.8,325.9 1212,327.1 1212.2,316.5 1212.4,327.1 1212.7,337.4 1212.9,338.8 1213.1,328.8 1213.4,326.5 1213.6,337.7 1213.8,351.4 1214.1,359 1214.3,367.7 1214.5,369.9 1214.7,356.2 1215,319.3 1215.2,302.9 1215.4,286 1215.7,302.9 1215.9,375.7 1216.1,363.5 1216.4,339.3 1216.6,324 1216.8,320.8 1217,326.3 1217.3,336.6 1217.5,344.9 1217.7,344.2 1218,340.8 1218.2,335.9 1218.4,327.8 1218.7,321.9 1218.9,360.3 1219.1,372.9 1219.3,386 1219.6,372.9 1219.8,360.3 1220,350.2 1220.3,343.6 1220.5,333.2 1220.7,330.9 1221,331.5 1221.2,326.2 1221.4,324.7 1221.6,330.2 1221.9,330.3 1222.1,322.3 1222.3,313.2 1222.6,309.3 1222.8,313.8 1223,325.7 1223.3,339.8 1223.5,351.2 1223.7,353.2 1223.9,349.3 1224.2,337.8 1224.4,315 1224.6,303.4 1224.9,301.8 1225.1,310.7 1225.3,315.7 1225.6,319.2 1225.8,319.2 1226,317.7 1226.2,315.6 1226.5,306.4 1226.7,300.4 1226.9,298.7 1227.2,292.4 1227.4,290.3 1227.6,294.7 1227.9,313.4 1228.1,326.7 1228.3,321.7 1228.5,302.3 1228.8,288.9 1229,296.3 1229.2,299.6 1229.5,306.7 1229.7,314.6 1229.9,314 1230.2,312.9 1230.4,323 1230.6,335.7 1230.8,347.1 1231.1,359.7 1231.3,371.5 1231.5,378.1 1231.8,376.4 1232,373.3 1232.2,371.2 1232.5,362.2 1232.7,351.9 1232.9,352.1 1233.1,359.8 1233.4,358.6 1233.6,355.5 1233.8,367.7 1234.1,375.7 1234.3,364.8 1234.5,353 1234.8,353 1235,351 1235.2,336 1235.4,315.9 1235.7,308.4 1235.9,396.3 1236.1,314.2 1236.4,315.7 1236.6,314.9 1236.8,320.3 1237.1,327.7 1237.3,326.5 1237.5,324.1 1237.7,323.1 1238,312 1238.2,323.1 1238.4,322.4 1238.7,318.3 1238.9,325 1239.1,344.2 1239.4,351.7 1239.6,339 1239.8,332.4 1240,344 1240.3,353.8 1240.5,351.2 1240.7,337.9 1241,317.8 1241.2,307.8 1241.4,306.9 1241.7,308 1241.9,320.4 1242.1,333.2 1242.3,340.6 1242.6,339.1 1242.8,341.3 1243,351.6 1243.3,348.1 1243.5,329 1243.7,320.1 1244,327 1244.2,328.4 1244.4,319.1 1244.6,315.6 1244.9,322 1245.1,324.5 1245.3,319.3 1245.6,315 1245.8,316.9 1246,327 1246.3,341.3 1246.5,349.2 1246.7,342.3 1246.9,333 1247.2,335.6 1247.4,344.5 1247.6,362.9 1247.9,378.6 1248.1,395 1248.3,378.6 1248.6,306.8 1248.8,292.5 1249,288.7 1249.2,307.8 1249.5,321.9 1249.7,314.2 1249.9,295.6 1250.2,287.5 1250.4,296.6 1250.6,308.9 1250.9,309.4 1251.1,303.2 1251.3,302 1251.5,299.2 1251.8,290.3 1252,272.5 1252.2,290.3 1252.5,307.4 1252.7,323 1252.9,331.4 1253.2,337.2 1253.4,346 1253.6,348.4 1253.8,338.7 1254.1,321.9 1254.3,303.7 1254.5,292 1254.8,291.4 1255,308.3 1255.2,295.7 1255.5,278.5 1255.7,295.7 1255.9,312.2 1256.1,317.4 1256.4,300.3 1256.6,304.6 1256.8,323.4 1257.1,340.7 1257.3,339.6 1257.5,328.7 1257.8,328.4 1258,332.9 1258.2,328 1258.4,319.7 1258.7,307.5 1258.9,291.9 1259.1,291.5 1259.4,304.4 1259.6,320 1259.8,329.8 1260.1,330.1 1260.3,327.8 1260.5,322.7 1260.7,314.6 1261,307.8 1261.2,308.6 1261.4,377.1 1261.7,390.5 1261.9,377.1 1262.1,371.7 1262.4,384.2 1262.6,374 1262.8,348.3 1263,333.7 1263.3,342.7 1263.5,354.9 1263.7,355.7 1264,354 1264.2,360.4 1264.4,365.6 1264.7,361.4 1264.9,352.7 1265.1,347.8 1265.3,350.5 1265.6,354.3 1265.8,350.2 1266,344.2 1266.3,342.1 1266.5,336.7 1266.7,330.4 1267,326.8 1267.2,330.9 1267.4,333.9 1267.6,320.1 1267.9,301.2 1268.1,293.8 1268.3,290.4 1268.6,274.2 1268.8,290.4 1269,306 1269.3,316.6 1269.5,326.2 1269.7,338.2 1269.9,339.2 1270.2,336.9 1270.4,340.7 1270.6,337.7 1270.9,326.1 1271.1,320.1 1271.3,314.3 1271.6,350.4 1271.8,362.5 1272,375 1272.2,362.5 1272.5,350.4 1272.7,338.6 1272.9,352 1273.2,299.8 1273.4,287.4 1273.6,299.8 1273.9,311.8 1274.1,334.2 1274.3,326.2 1274.5,326.3 1274.8,330.7 1275,337.4 1275.2,340.2 1275.5,335.6 1275.7,327.3 1275.9,317.5 1276.2,307.2 1276.4,300 1276.6,294.3 1276.8,291.2 1277.1,297.5 1277.3,316.2 1277.5,334.9 1277.8,336.1 1278,332 1278.2,338.5 1278.5,343.8 1278.7,335.8 1278.9,329.8 1279.1,335.8 1279.4,343.8 1279.6,347 1279.8,350 1280.1,353.9 1280.3,349.5 1280.5,342.9 1280.8,346.7 1281,356.5 1281.2,353 1281.4,351 1281.7,382.6 1281.9,397.5 1282.1,412.9 1282.4,397.5 1282.6,329.1 1282.8,336.6 1283.1,341.1 1283.3,341.8 1283.5,342.6 1283.7,346.4 1284,354.5 1284.2,364.3 1284.4,358.8 1284.7,337.4 1284.9,324.7 1285.1,323.7 1285.4,319.3 1285.6,311 1285.8,313.1 1286,327.3 1286.3,345 1286.5,354.9 1286.7,354.3 1287,347.3 1287.2,337.2 1287.4,334.6 1287.7,344 1287.9,355.6 1288.1,342.5 1288.3,382.1 1288.6,324.1 1288.8,333.5 1289,342.5 1289.3,375.6 1289.5,381.5 1289.7,363.4 1290,349.6 1290.2,343.8 1290.4,333.5 1290.6,325.2 1290.9,326.6 1291.1,331.8 1291.3,340.6 1291.6,374.3 1291.8,386.9 1292,400 1292.3,386.9 1292.5,327.9 1292.7,317.7 1292.9,315.4 1293.2,329.1 1293.4,346.5 1293.6,343.6 1293.9,329.9 1294.1,331.6 1294.3,347.3 1294.6,363 1294.8,370.2 1295,359.5 1295.2,336.8 1295.5,319.5 1295.7,315.8 1295.9,328.3 1296.2,347.9 1296.4,351.8 1296.6,327.4 1296.9,303.9 1297.1,304.4 1297.3,305.7 1297.5,297.4 1297.8,294.9 1298,297.9 1298.2,306.7 1298.5,312.1 1298.7,311.5 1298.9,305.3 1299.2,287.1 1299.4,291.4 1299.6,290.8 1299.8,290.8 1300.1,292.4 1300.3,290.8 1300.5,294.5 1300.8,305.5 1301,401.7 1301.2,308.5 1301.5,311.1 1301.7,325.2 1301.9,330.4 1302.1,317.1 1302.4,309.5 1302.6,291.7 1302.8,309.5 1303.1,326.7 1303.3,367.5 1303.5,349.1 1303.8,336.3 1304,337.7 1304.2,346 1304.4,345.3 1304.7,341.7 1304.9,343.8 1305.1,334.6 1305.4,318 1305.6,321.4 1305.8,411.5 1306.1,397 1306.3,332.1 1306.5,347.6 1306.7,363.9 1307,374.3 1307.2,377.7 1307.4,366.8 1307.7,354.9 1307.9,347.2 1308.1,337.7 1308.4,333.7 1308.6,334.1 1308.8,332.3 1309,342.4 1309.3,364.7 1309.5,378.6 1309.7,382.4 1310,338.5 1310.2,328.5 1310.4,338.5 1310.7,386.5 1310.9,377.4 1311.1,361 1311.3,349.8 1311.6,351.4 1311.8,365.9 1312,382.1 1312.3,384.2 1312.5,375 1312.7,368 1313,363.3 1313.2,356.4 1313.4,350.5 1313.6,386.1 1313.9,397.8 1314.1,410 1314.3,397.8 1314.6,386.1 1314.8,351 1315,362.3 1315.3,377.1 1315.5,383.6 1315.7,387.7 1315.9,382.2 1316.2,368.4 1316.4,366.8 1316.6,380.1 1316.9,383.2 1317.1,370.5 1317.3,366.6 1317.6,348.1 1317.8,336.8 1318,325 1318.2,336.8 1318.5,341.6 1318.7,344.3 1318.9,350.1 1319.2,335.5 1319.4,323.1 1319.6,325 1319.9,339 1320.1,346.2 1320.3,343.1 1320.5,347.2 1320.8,363.8 1321,371.5 1321.2,362.6 1321.5,354.7 1321.7,352.6 1321.9,350.8 1322.2,347.9 1322.4,341.6 1322.6,338.6 1322.8,342.7 1323.1,350.6 1323.3,382.2 1323.5,396.2 1323.8,410.8 1324,396.2 1324.2,328.4 1324.5,339.4 1324.7,347.8 1324.9,350.4 1325.1,350.1 1325.4,344 1325.6,332.5 1325.8,328 1326.1,340.5 1326.3,353.2 1326.5,360.5 1326.8,365.1 1327,352.3 1327.2,315.2 1327.4,293 1327.7,269.9 1327.9,293 1328.1,315.2 1328.4,356.3 1328.6,343.3 1328.8,340 1329.1,345 1329.3,353.1 1329.5,333 1329.7,321 1330,395 1330.2,321 1330.4,333 1330.7,360.1 1330.9,357 1331.1,339.5 1331.4,330.9 1331.6,340.5 1331.8,358 1332,363.3 1332.3,356.6 1332.5,360.3 1332.7,370.5 1333,376.6 1333.2,382.5 1333.4,388.6 1333.7,391.7 1333.9,393.2 1334.1,396.5 1334.3,395 1334.6,386.4 1334.8,380.1 1335,369.3 1335.3,355.1 1335.5,345.8 1335.7,346.2 1336,353 1336.2,358.2 1336.4,363.6 1336.6,373.7 1336.9,385.1 1337.1,379.5 1337.3,360.4 1337.6,345 1337.8,337.3 1338,339.1 1338.3,420.3 1338.5,408.9 1338.7,358.4 1338.9,359.6 1339.2,372.4 1339.4,386.4 1339.6,396.8 1339.9,397.7 1340.1,382.5 1340.3,362.9 1340.6,353.7 1340.8,357.5 1341,368.7 1341.2,381.3 1341.5,363.6 1341.7,349.6 1341.9,335 1342.2,349.6 1342.4,363.6 1342.6,382.7 1342.9,370.1 1343.1,373.4 1343.3,372.8 1343.5,353.5 1343.8,338.1 1344,336.2 1344.2,349.8 1344.5,387.1 1344.7,409.1 1344.9,405.1 1345.2,394.4 1345.4,410.9 1345.6,425 1345.8,439.6 1346.1,425 1346.3,410.9 1346.5,385.8 1346.8,382.2 1347,381.7 1347.2,379.1 1347.5,374.3 1347.7,381 1347.9,393.1 1348.1,398 1348.4,394.9 1348.6,383 1348.8,417.1 1349.1,437.7 1349.3,459 1349.5,437.7 1349.8,417.1 1350,356.6 1350.2,343.9 1350.4,347.1 1350.7,355.2 1350.9,355.5 1351.1,343 1351.4,332.4 1351.6,332.9 1351.8,339.8 1352.1,339.3 1352.3,334.8 1352.5,345.7 1352.7,364.5 1353,361.9 1353.2,346.3 1353.4,348.7 1353.7,367.6 1353.9,372.8 1354.1,356.5 1354.4,345.6 1354.6,353.9 1354.8,364.1 1355,370.4 1355.3,386.1 1355.5,391.1 1355.7,379 1356,374.6 1356.2,380.5 1356.4,383.3 1356.7,377.5 1356.9,367.7 1357.1,352.3 1357.3,341.9 1357.6,343 1357.8,331.9 1358,318.5 1358.3,314.9 1358.5,337.1 1358.7,368.8 1359,381.5 1359.2,376.6 1359.4,367.8 1359.6,361.4 1359.9,360.9 1360.1,357 1360.3,344.3 1360.6,336.3 1360.8,338.2 1361,340.7 1361.3,346 1361.5,343.4 1361.7,332.3 1361.9,320.6 1362.2,332.3 1362.4,343.4 1362.6,381.5 1362.9,393.6 1363.1,406.2 1363.3,393.6 1363.6,339.9 1363.8,341.7 1364,332.8 1364.2,319.4 1364.5,315.7 1364.7,315.3 1364.9,307.4 1365.2,297.2 1365.4,296.5 1365.6,305 1365.9,308.2 1366.1,313.6 1366.3,334.9 1366.5,349.1 1366.8,350.4 1367,350.8 1367.2,349.1 1367.5,345.6 1367.7,337.2 1367.9,328.4 1368.2,330.5 1368.4,344.4 1368.6,357.9 1368.8,362.4 1369.1,360.3 1369.3,347.1 1369.5,331.5 1369.8,337 1370,354.8 1370.2,375.2 1370.5,385.8 1370.7,404.6 1370.9,424.1 1371.1,404.6 1371.4,385.8 1371.6,346.2 1371.8,346.1 1372.1,356 1372.3,373 1372.5,378 1372.8,371.3 1373,358.6 1373.2,350.7 1373.4,357.1 1373.7,372.2 1373.9,376.2 1374.1,361.5 1374.4,342.9 1374.6,340.2 1374.8,321.6 1375.1,303.3 1375.3,284.3 1375.5,303.3 1375.7,321.6 1376,344.1 1376.2,349.6 1376.4,363.7 1376.7,361 1376.9,344.1 1377.1,320.6 1377.4,301.4 1377.6,306.1 1377.8,398.1 1378,415 1378.3,398.1 1378.5,381.8 1378.7,321.6 1379,327.6 1379.2,350.5 1379.4,386.6 1379.7,410.9 1379.9,415.4 1380.1,413.8 1380.3,373.3 1380.6,332.1 1380.8,323.3 1381,322.9 1381.3,343.6 1381.5,333.9 1381.7,322.7 1382,333.9 1382.2,344.6 1382.4,373.4 1382.6,364.6 1382.9,346.3 1383.1,336.4 1383.3,348.5 1383.6,374.3 1383.8,384.3 1384,371.7 1384.3,358.5 1384.5,358.4 1384.7,363.9 1384.9,372.9 1385.2,382.7 1385.4,381.9 1385.6,373.5 1385.9,404.1 1386.1,423.3 1386.3,443.2 1386.6,423.3 1386.8,404.1 1387,374.6 1387.2,373.7 1387.5,372.6 1387.7,366.6 1387.9,365.5 1388.2,373.8 1388.4,377.1 1388.6,369.7 1388.9,346.3 1389.1,320.9 1389.3,317.4 1389.5,320.2 1389.8,327 1390,337.1 1390.2,351.1 1390.5,362.6 1390.7,367.1 1390.9,366.3 1391.2,365.4 1391.4,363.8 1391.6,365.1 1391.8,369.4 1392.1,368.2 1392.3,359.7 1392.5,357.6 1392.8,367 1393,372.2 1393.2,365.8 1393.5,363.5 1393.7,377.2 1393.9,386 1394.1,374.6 1394.4,358.3 1394.6,340.2 1394.8,332.9 1395.1,327.7 1395.3,342.7 1395.5,352.4 1395.8,356.9 1396,348.6 1396.2,349.6 1396.4,356.7 1396.7,360.3 1396.9,359.1 1397.1,360.1 1397.4,378.2 1397.6,408.6 1397.8,416 1398.1,415.7 1398.3,415.5 1398.5,418.8 1398.7,416.8 1399,412.5 1399.2,396.2 1399.4,372.7 1399.7,358.3 1399.9,357.2 1400.1,355.1 1400.4,342.9 1400.6,325.5 1400.8,320.2 1401,323.7 1401.3,337.8 1401.5,406.1 1401.7,418 1402,406.1 1402.2,394.6 1402.4,388.7 1402.7,402 1402.9,412.3 1403.1,403.5 1403.3,389 1403.6,392.5 1403.8,401.5 1404,405.5 1404.3,399 1404.5,378.4 1404.7,359.9 1405,353.7 1405.2,359.1 1405.4,364.3 1405.6,361.1 1405.9,365.5 1406.1,381.8 1406.3,390.1 1406.6,383.2 1406.8,370.2 1407,363.2 1407.3,365.3 1407.5,371.5 1407.7,382.2 1407.9,396.1 1408.2,398.2 1408.4,393 1408.6,394.5 1408.9,398.8 1409.1,397.7 1409.3,353 1409.6,340.2 1409.8,326.9 1410,340.2 1410.2,353 1410.5,395.1 1410.7,400.2 1410.9,399.8 1411.2,405.4 1411.4,417.4 1411.6,406.4 1411.9,393.8 1412.1,383.7 1412.3,389.3 1412.5,392.7 1412.8,388 1413,383.1 1413.2,387.7 1413.5,395.1 1413.7,382 1413.9,363.7 1414.2,365.9 1414.4,377.5 1414.6,374.6 1414.8,346.7 1415.1,325.2 1415.3,329.9 1415.5,341 1415.8,340.4 1416,342.9 1416.2,356.5 1416.5,360.9 1416.7,355.6 1416.9,362.7 1417.1,383.2 1417.4,401.9 1417.6,400.2 1417.8,389.5 1418.1,385.7 1418.3,378.1 1418.5,363.8 1418.8,351.2 1419,344.9 1419.2,352.7 1419.4,366.2 1419.7,364.8 1419.9,357.8 1420.1,349.2 1420.4,334 1420.6,329 1420.8,334.4 1421.1,322 1421.3,336.3 1421.5,350.1 1421.7,366.9 1422,361.3 1422.2,360 1422.4,358.4 1422.7,359.8 1422.9,366.3 1423.1,375.1 1423.4,371.9 1423.6,354.4 1423.8,340.4 1424,409.6 1424.3,424.9 1424.5,409.6 1424.7,394.9 1425,364 1425.2,376.6 1425.4,380.4 1425.7,377.6 1425.9,375.3 1426.1,368 1426.3,362.6 1426.6,363.4 1426.8,366.1 1427,373 1427.3,387.6 1427.5,405.3 1427.7,410.4 1428,405.9 1428.2,400.7 1428.4,390.4 1428.6,381.5 1428.9,384.1 1429.1,396.6 1429.3,403.1 1429.6,394 1429.8,384.9 1430,385.2 1430.3,373.7 1430.5,353.8 1430.7,350.9 1430.9,374.7 1431.2,399.3 1431.4,408.1 1431.6,408.2 1431.9,400.1 1432.1,384.1 1432.3,368.1 1432.6,355.6 1432.8,357.5 1433,344.3 1433.2,332 1433.5,319.2 1433.7,404.6 1433.9,420 1434.2,404.6 1434.4,389.8 1434.6,339.1 1434.9,327.3 1435.1,335.7 1435.3,349 1435.5,347.3 1435.8,347.9 1436,354.1 1436.2,353.8 1436.5,350.6 1436.7,353.8 1436.9,359.5 1437.2,358.3 1437.4,349.3 1437.6,348.5 1437.8,360.3 1438.1,364 1438.3,350 1438.5,333.5 1438.8,327.7 1439,325.3 1439.2,321 1439.5,319.4 1439.7,326.3 1439.9,338.3 1440.1,346.5 1440.4,353.6 1440.6,357.4 1440.8,357.7 1441.1,355.4 1441.3,354 1441.5,360.8 1441.8,369.5 1442,373.1 1442.2,367.7 1442.4,354.3 1442.7,353.4 1442.9,373.6 1443.1,396.8 1443.4,402.5 1443.6,411.3 1443.8,425.2 1444.1,411.3 1444.3,397.9 1444.5,372 1444.7,395.6 1445,398.7 1445.2,391.9 1445.4,396.6 1445.7,404.6 1445.9,398 1446.1,375.6 1446.4,352.6 1446.6,348.9 1446.8,333.7 1447,318 1447.3,333.7 1447.5,348.9 1447.7,389 1448,397 1448.2,407.5 1448.4,406.5 1448.7,399.4 1448.9,399.4 1449.1,406.2 1449.3,408.2 1449.6,396.5 1449.8,384.8 1450,389 1450.3,388.4 1450.5,377.6 1450.7,381.9 1451,391.9 1451.2,384.9 1451.4,365.4 1451.6,348.5 1451.9,339.4 1452.1,332 1452.3,334.1 1452.6,345.7 1452.8,392.5 1453,412.1 1453.3,432.4 1453.5,412.1 1453.7,392.5 1453.9,331.9 1454.2,321.9 1454.4,319.4 1454.6,323.8 1454.9,332.3 1455.1,340.8 1455.3,342.7 1455.6,331.6 1455.8,319.2 1456,324.3 1456.2,342 1456.5,356.6 1456.7,366.4 1456.9,364.8 1457.2,350.5 1457.4,339.6 1457.6,345.8 1457.9,364.3 1458.1,364.6 1458.3,344 1458.5,328.6 1458.8,322.8 1459,320 1459.2,328.5 1459.5,341.6 1459.7,344.4 1459.9,340.4 1460.2,316 1460.4,301.3 1460.6,286 1460.8,301.3 1461.1,305 1461.3,309 1461.5,318.1 1461.8,333.7 1462,344.3 1462.2,346.5 1462.5,336 1462.7,319 1462.9,302.7 1463.1,298.4 1463.4,377.1 1463.6,366.3 1463.8,318.7 1464.1,326.1"/>
</g>
<rect x="806.6" y="158.4" width="688.2" height="341.8" fill="none" stroke="#4a4a4a" stroke-width="1.1"/>
<line x1="802.6" y1="205.2" x2="806.6" y2="205.2" stroke="#000" stroke-width="0.9"/>
<text class="r" x="800" y="212.1" text-anchor="end">3</text>
<line x1="802.6" y1="256.6" x2="806.6" y2="256.6" stroke="#000" stroke-width="0.9"/>
<text class="r" x="800" y="263.5" text-anchor="end">2</text>
<line x1="802.6" y1="308" x2="806.6" y2="308" stroke="#000" stroke-width="0.9"/>
<text class="r" x="800" y="314.9" text-anchor="end">1</text>
<line x1="802.6" y1="359.3" x2="806.6" y2="359.3" stroke="#000" stroke-width="0.9"/>
<text class="r" x="800" y="366.2" text-anchor="end">0</text>
<line x1="802.6" y1="410.7" x2="806.6" y2="410.7" stroke="#000" stroke-width="0.9"/>
<text class="r" x="800" y="417.6" text-anchor="end">−1</text>
<line x1="802.6" y1="462.1" x2="806.6" y2="462.1" stroke="#000" stroke-width="0.9"/>
<text class="r" x="800" y="469" text-anchor="end">−2</text>
<line x1="812.7" y1="500.2" x2="812.7" y2="502.4" stroke="#000" stroke-width="0.7"/>
<line x1="837.7" y1="500.2" x2="837.7" y2="504.4" stroke="#000" stroke-width="0.9"/>
<text class="r" x="837.7" y="521.4" text-anchor="middle">1988</text>
<line x1="862.8" y1="500.2" x2="862.8" y2="502.4" stroke="#000" stroke-width="0.7"/>
<line x1="887.8" y1="500.2" x2="887.8" y2="502.4" stroke="#000" stroke-width="0.7"/>
<line x1="912.9" y1="500.2" x2="912.9" y2="502.4" stroke="#000" stroke-width="0.7"/>
<line x1="937.9" y1="500.2" x2="937.9" y2="504.4" stroke="#000" stroke-width="0.9"/>
<text class="r" x="937.9" y="521.4" text-anchor="middle">1992</text>
<line x1="963" y1="500.2" x2="963" y2="502.4" stroke="#000" stroke-width="0.7"/>
<line x1="988" y1="500.2" x2="988" y2="502.4" stroke="#000" stroke-width="0.7"/>
<line x1="1013.1" y1="500.2" x2="1013.1" y2="502.4" stroke="#000" stroke-width="0.7"/>
<line x1="1038.1" y1="500.2" x2="1038.1" y2="504.4" stroke="#000" stroke-width="0.9"/>
<text class="r" x="1038.1" y="521.4" text-anchor="middle">1996</text>
<line x1="1063.2" y1="500.2" x2="1063.2" y2="502.4" stroke="#000" stroke-width="0.7"/>
<line x1="1088.2" y1="500.2" x2="1088.2" y2="502.4" stroke="#000" stroke-width="0.7"/>
<line x1="1113.2" y1="500.2" x2="1113.2" y2="502.4" stroke="#000" stroke-width="0.7"/>
<line x1="1138.3" y1="500.2" x2="1138.3" y2="504.4" stroke="#000" stroke-width="0.9"/>
<text class="r" x="1138.3" y="521.4" text-anchor="middle">2000</text>
<line x1="1163.4" y1="500.2" x2="1163.4" y2="502.4" stroke="#000" stroke-width="0.7"/>
<line x1="1188.4" y1="500.2" x2="1188.4" y2="502.4" stroke="#000" stroke-width="0.7"/>
<line x1="1213.5" y1="500.2" x2="1213.5" y2="502.4" stroke="#000" stroke-width="0.7"/>
<line x1="1238.5" y1="500.2" x2="1238.5" y2="504.4" stroke="#000" stroke-width="0.9"/>
<text class="r" x="1238.5" y="521.4" text-anchor="middle">2004</text>
<line x1="1263.6" y1="500.2" x2="1263.6" y2="502.4" stroke="#000" stroke-width="0.7"/>
<line x1="1288.6" y1="500.2" x2="1288.6" y2="502.4" stroke="#000" stroke-width="0.7"/>
<line x1="1313.7" y1="500.2" x2="1313.7" y2="502.4" stroke="#000" stroke-width="0.7"/>
<line x1="1338.7" y1="500.2" x2="1338.7" y2="504.4" stroke="#000" stroke-width="0.9"/>
<text class="r" x="1338.7" y="521.4" text-anchor="middle">2008</text>
<line x1="1363.8" y1="500.2" x2="1363.8" y2="502.4" stroke="#000" stroke-width="0.7"/>
<line x1="1388.8" y1="500.2" x2="1388.8" y2="502.4" stroke="#000" stroke-width="0.7"/>
<line x1="1413.8" y1="500.2" x2="1413.8" y2="502.4" stroke="#000" stroke-width="0.7"/>
<line x1="1438.9" y1="500.2" x2="1438.9" y2="504.4" stroke="#000" stroke-width="0.9"/>
<text class="r" x="1438.9" y="521.4" text-anchor="middle">2012</text>
<line x1="1464" y1="500.2" x2="1464" y2="502.4" stroke="#000" stroke-width="0.7"/>
<line x1="1489" y1="500.2" x2="1489" y2="502.4" stroke="#000" stroke-width="0.7"/>
<text class="r" x="1151" y="544.3" text-anchor="middle">Year</text>
<text class="r" x="763" y="324" text-anchor="middle" transform="rotate(-90 763 324)">SST Anomaly (°C)</text>
<text x="838.2" y="179.6" font-size="19.9">RMSE: 0.40°C</text>
<text x="838.2" y="205.3" font-size="19.9">Corr.: 0.86</text>
<text class="t" x="1155.2" y="186.2" font-size="29.3" text-anchor="middle">(b)</text>
<rect x="1363.4" y="167.1" width="122.8" height="60.1" rx="3.5" fill="#fff" fill-opacity="0.8" stroke="#d4d4d4" stroke-width="1"/>
<line x1="1370.5" y1="181.8" x2="1408.6" y2="181.8" stroke="#000" stroke-width="1.4"/>
<line x1="1370.5" y1="209.3" x2="1408.6" y2="209.3" stroke="#e41a1a" stroke-width="1.4"/>
<text x="1424" y="188.7" font-size="18">Data</text>
<text x="1424" y="215.9" font-size="18">Model</text>
</svg></body></html>
